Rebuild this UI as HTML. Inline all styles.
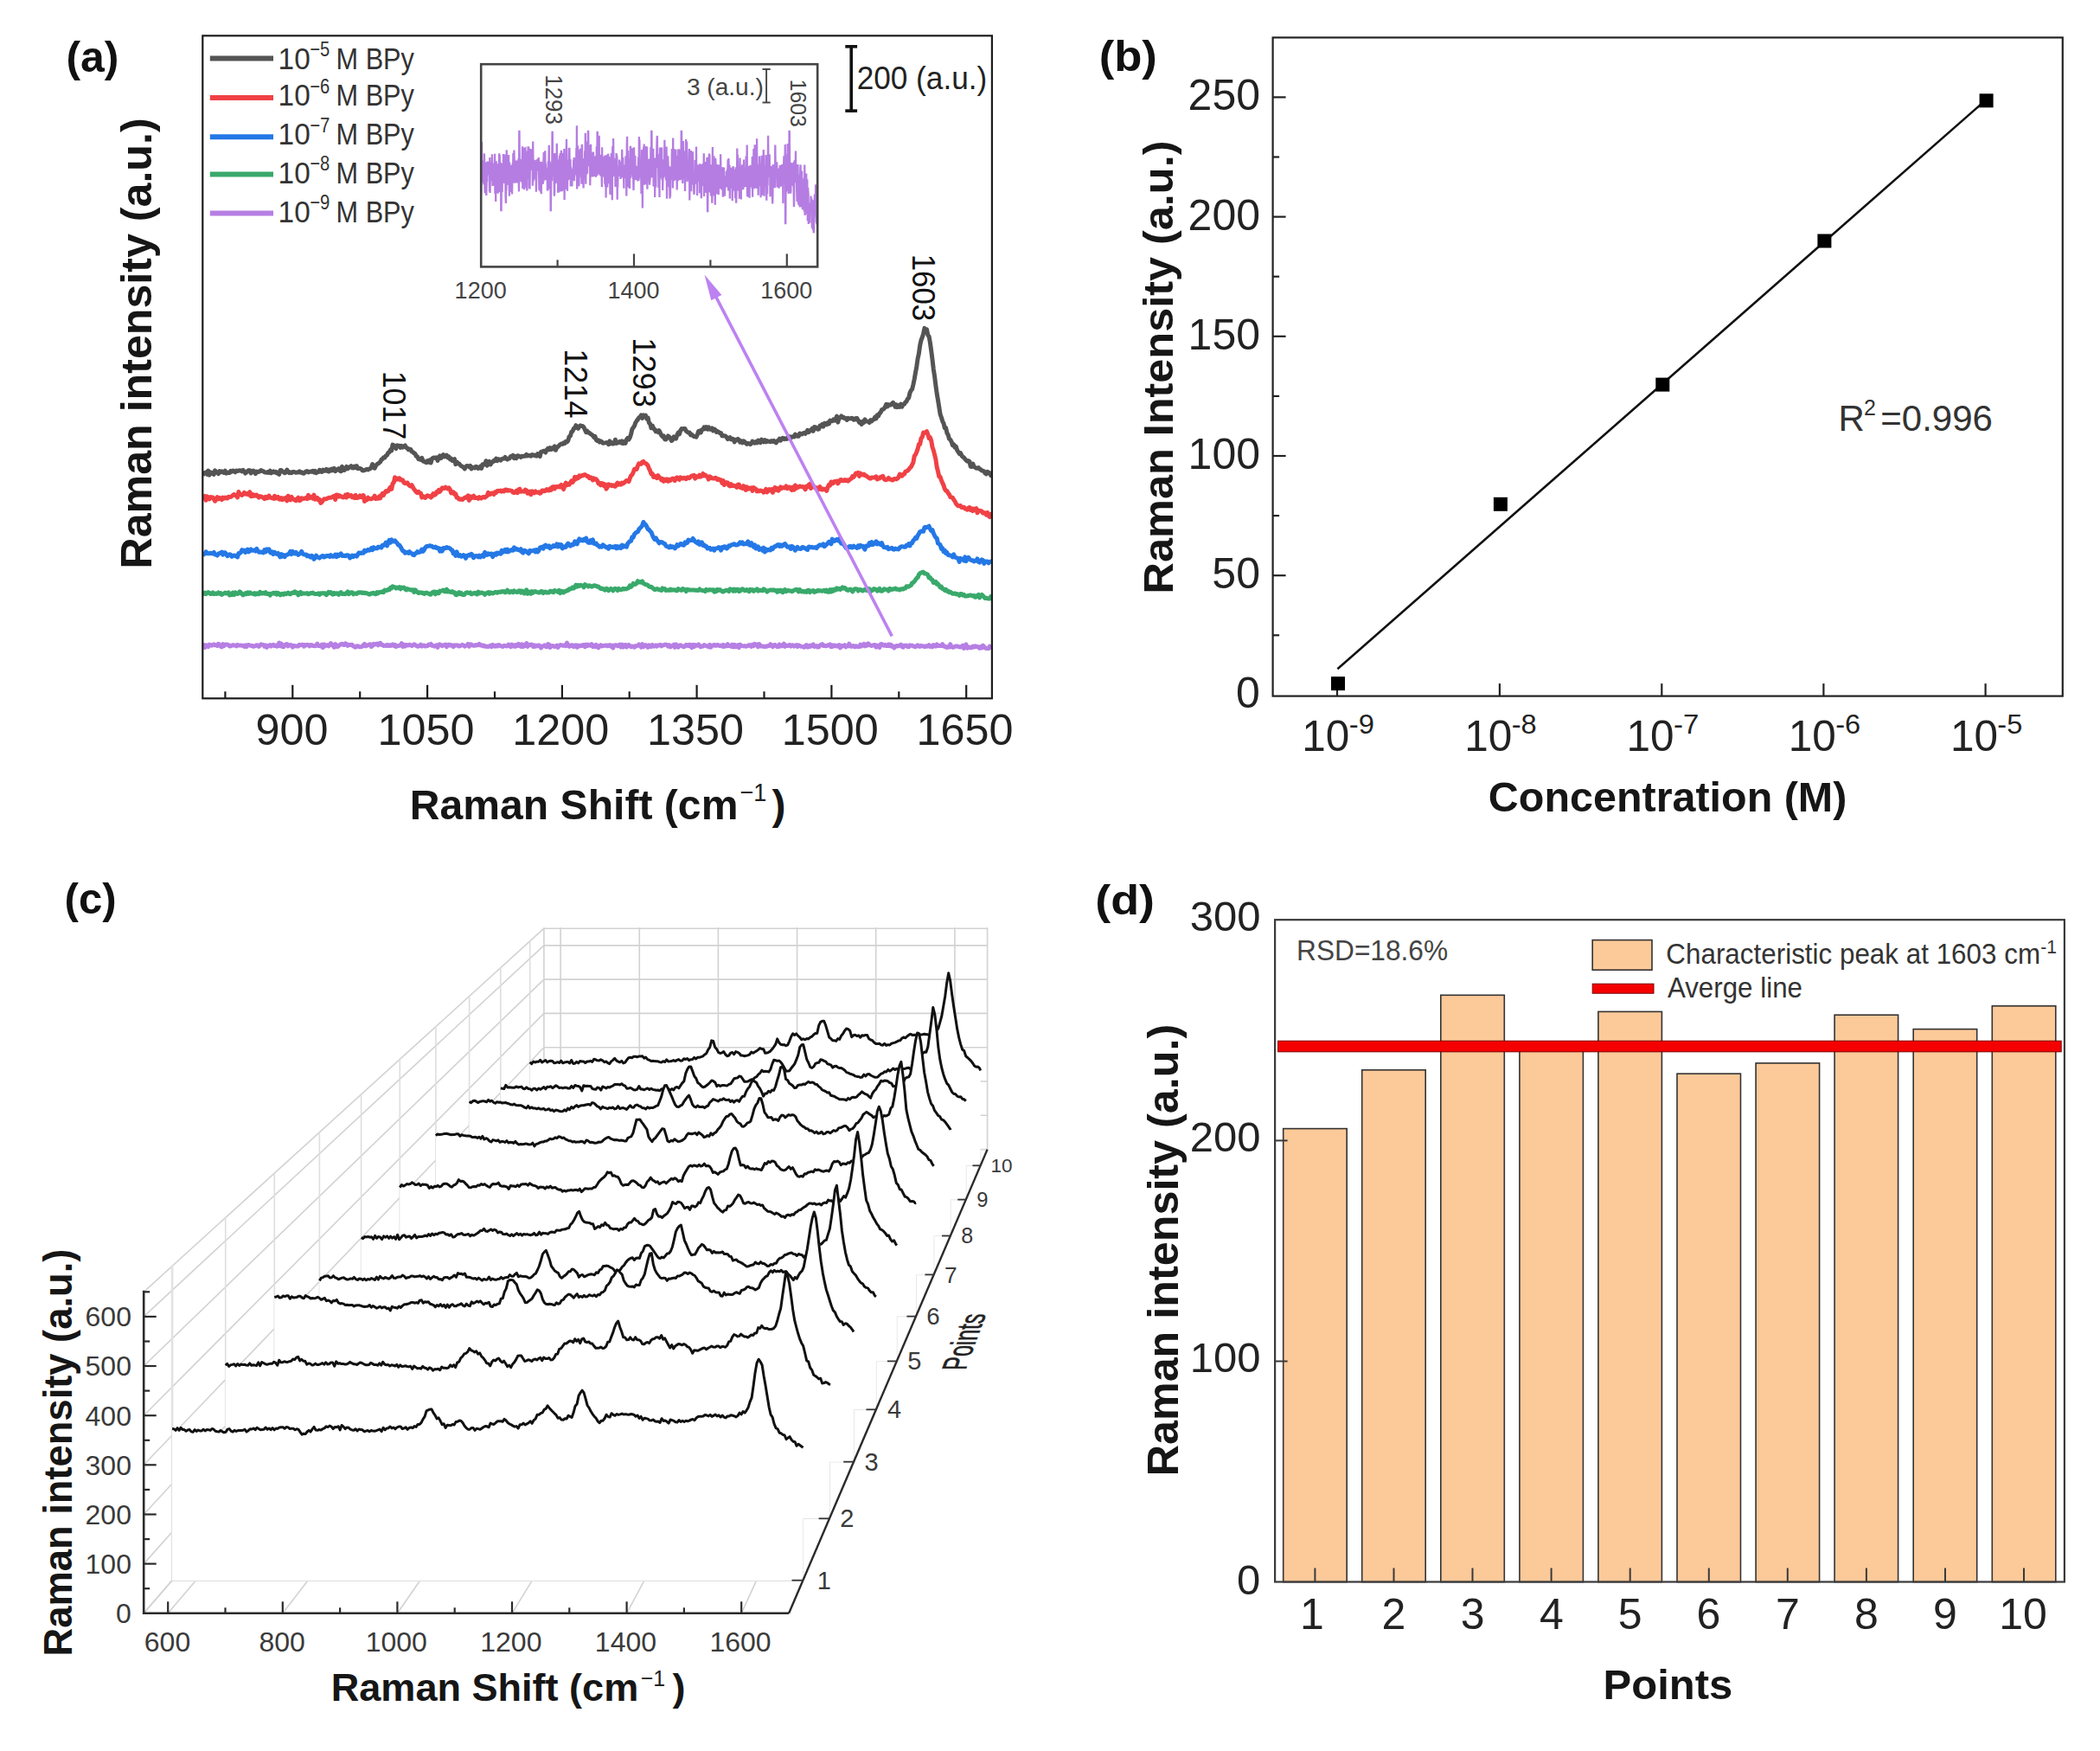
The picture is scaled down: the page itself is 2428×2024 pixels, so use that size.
<!DOCTYPE html>
<html lang="en"><head><meta charset="utf-8"><title>Raman SERS figure</title>
<style>html,body{margin:0;padding:0;background:#fff}body{width:2428px;height:2024px;overflow:hidden}svg{display:block}text{font-family:"Liberation Sans", Arial, Helvetica, sans-serif}</style>
</head><body>
<svg width="2428" height="2024" viewBox="0 0 2428 2024" font-family='"Liberation Sans", Arial, Helvetica, sans-serif'>
<rect width="2428" height="2024" fill="#fff"/>
<clipPath id="clipA"><rect x="234.3" y="41.3" width="912.6000000000001" height="766.0"/></clipPath>
<g clip-path="url(#clipA)" fill="none" stroke-linejoin="round" stroke-linecap="butt">
<path d="M234.3,746.4 L235.6,745.7 L236.9,748.4 L238.2,745.7 L239.5,746.1 L240.8,747.6 L242.1,745.1 L243.4,745.4 L244.7,746.2 L246.0,745.7 L247.3,744.8 L248.6,745.8 L249.9,745.6 L251.2,746.6 L252.5,744.3 L253.8,745.3 L255.1,747.2 L256.4,747.9 L257.7,744.5 L259.0,746.6 L260.3,745.0 L261.6,745.1 L262.9,745.1 L264.2,745.6 L265.5,747.0 L266.8,746.7 L268.1,746.1 L269.4,745.6 L270.7,746.0 L272.0,745.9 L273.3,746.8 L274.6,745.4 L275.9,746.0 L277.2,745.9 L278.5,745.9 L279.8,746.2 L281.1,746.2 L282.4,747.3 L283.7,745.9 L285.0,747.6 L286.3,745.7 L287.6,745.5 L288.9,746.1 L290.2,746.4 L291.5,746.3 L292.8,747.3 L294.1,747.1 L295.4,746.5 L296.7,745.7 L298.0,745.9 L299.3,747.4 L300.6,746.2 L301.9,744.7 L303.2,745.3 L304.5,745.4 L305.8,747.2 L307.1,745.9 L308.4,748.3 L309.7,746.7 L311.0,746.1 L312.3,745.6 L313.6,747.0 L314.9,745.8 L316.2,745.2 L317.5,746.6 L318.8,746.0 L320.1,747.2 L321.4,745.9 L322.7,743.1 L324.0,746.8 L325.3,744.1 L326.6,747.5 L327.9,747.8 L329.2,745.6 L330.5,744.8 L331.8,744.6 L333.1,746.9 L334.4,745.8 L335.7,745.4 L337.0,745.8 L338.3,748.1 L339.6,746.3 L340.9,746.7 L342.2,746.8 L343.5,747.0 L344.8,747.1 L346.1,745.3 L347.4,745.8 L348.7,745.2 L350.0,745.3 L351.3,747.1 L352.6,745.5 L353.9,745.9 L355.2,745.3 L356.5,745.4 L357.8,746.8 L359.1,745.6 L360.4,745.5 L361.7,746.5 L363.0,746.5 L364.3,746.8 L365.6,746.2 L366.9,744.2 L368.2,746.6 L369.5,746.5 L370.8,747.0 L372.1,745.2 L373.4,748.5 L374.7,744.8 L376.0,746.7 L377.3,746.0 L378.6,745.5 L379.9,746.8 L381.2,745.7 L382.5,743.7 L383.8,744.8 L385.1,746.5 L386.4,748.2 L387.7,744.5 L389.0,746.0 L390.3,747.5 L391.6,746.6 L392.9,745.6 L394.2,744.6 L395.5,744.2 L396.8,745.3 L398.1,745.6 L399.4,743.8 L400.7,744.3 L402.0,746.3 L403.3,745.6 L404.6,745.2 L405.9,745.6 L407.2,745.2 L408.5,746.9 L409.8,747.6 L411.1,748.1 L412.4,746.7 L413.7,746.7 L415.0,747.5 L416.3,747.7 L417.6,747.5 L418.9,747.2 L420.2,745.4 L421.5,744.4 L422.8,746.9 L424.1,745.9 L425.4,745.9 L426.7,745.1 L428.0,744.7 L429.3,747.4 L430.6,746.4 L431.9,744.4 L433.2,745.2 L434.5,744.4 L435.8,744.1 L437.1,745.8 L438.4,743.9 L439.7,743.4 L441.0,745.4 L442.3,745.3 L443.6,746.6 L444.9,746.2 L446.2,746.4 L447.5,745.4 L448.8,746.4 L450.1,745.5 L451.4,746.5 L452.7,745.7 L454.0,744.9 L455.3,746.5 L456.6,745.3 L457.9,747.5 L459.2,746.5 L460.5,746.5 L461.8,746.2 L463.1,746.0 L464.4,743.7 L465.7,747.3 L467.0,745.3 L468.3,747.0 L469.6,745.4 L470.9,745.9 L472.2,745.9 L473.5,745.1 L474.8,745.9 L476.1,746.6 L477.4,745.7 L478.7,744.8 L480.0,745.5 L481.3,746.4 L482.6,747.3 L483.9,747.0 L485.2,746.4 L486.5,745.1 L487.8,747.0 L489.1,746.2 L490.4,745.9 L491.7,747.0 L493.0,746.8 L494.3,746.6 L495.6,745.0 L496.9,745.5 L498.2,744.4 L499.5,746.4 L500.8,746.2 L502.1,747.1 L503.4,746.4 L504.7,745.8 L506.0,748.3 L507.3,745.1 L508.6,744.8 L509.9,745.6 L511.2,746.7 L512.5,745.8 L513.8,745.7 L515.1,745.1 L516.4,747.7 L517.7,745.6 L519.0,745.1 L520.3,746.1 L521.6,745.4 L522.9,746.0 L524.2,747.5 L525.5,745.8 L526.8,746.2 L528.1,745.8 L529.4,746.0 L530.7,747.0 L532.0,746.8 L533.3,745.9 L534.6,745.3 L535.9,746.1 L537.2,747.1 L538.5,746.2 L539.8,746.1 L541.1,744.4 L542.4,747.2 L543.7,744.8 L545.0,745.0 L546.3,745.9 L547.6,746.3 L548.9,746.3 L550.2,745.5 L551.5,745.9 L552.8,745.6 L554.1,744.4 L555.4,746.0 L556.7,745.6 L558.0,746.7 L559.3,746.1 L560.6,747.2 L561.9,747.0 L563.2,747.2 L564.5,747.5 L565.8,747.0 L567.1,746.1 L568.4,747.6 L569.7,745.4 L571.0,746.2 L572.3,747.1 L573.6,746.0 L574.9,747.0 L576.2,745.5 L577.5,745.7 L578.8,746.8 L580.1,747.0 L581.4,747.5 L582.7,746.2 L584.0,746.6 L585.3,746.9 L586.6,746.8 L587.9,745.0 L589.2,745.7 L590.5,747.7 L591.8,745.1 L593.1,746.9 L594.4,745.9 L595.7,747.3 L597.0,745.5 L598.3,746.4 L599.6,744.3 L600.9,746.3 L602.2,747.4 L603.5,744.8 L604.8,747.5 L606.1,745.6 L607.4,746.3 L608.7,743.5 L610.0,747.4 L611.3,745.4 L612.6,745.8 L613.9,745.0 L615.2,745.3 L616.5,747.5 L617.8,745.8 L619.1,747.2 L620.4,746.2 L621.7,746.7 L623.0,745.8 L624.3,746.8 L625.6,748.9 L626.9,747.0 L628.2,746.8 L629.5,745.9 L630.8,747.4 L632.1,747.7 L633.4,744.6 L634.7,745.0 L636.0,748.4 L637.3,746.8 L638.6,746.5 L639.9,746.9 L641.2,747.4 L642.5,747.1 L643.8,746.1 L645.1,748.4 L646.4,746.4 L647.7,745.5 L649.0,745.8 L650.3,746.2 L651.6,746.0 L652.9,746.2 L654.2,746.7 L655.5,743.1 L656.8,745.6 L658.1,747.3 L659.4,746.9 L660.7,745.7 L662.0,745.7 L663.3,747.5 L664.6,746.1 L665.9,745.8 L667.2,748.2 L668.5,746.0 L669.8,747.0 L671.1,746.3 L672.4,746.4 L673.7,745.4 L675.0,745.5 L676.3,747.6 L677.6,745.2 L678.9,746.6 L680.2,745.2 L681.5,746.1 L682.8,746.3 L684.1,744.7 L685.4,747.5 L686.7,746.2 L688.0,747.6 L689.3,745.4 L690.6,747.3 L691.9,748.7 L693.2,746.6 L694.5,745.7 L695.8,746.9 L697.1,746.5 L698.4,746.2 L699.7,746.3 L701.0,745.8 L702.3,746.8 L703.6,746.0 L704.9,745.5 L706.2,747.2 L707.5,746.2 L708.8,749.0 L710.1,746.1 L711.4,745.7 L712.7,745.8 L714.0,746.7 L715.3,745.7 L716.6,745.1 L717.9,748.0 L719.2,745.1 L720.5,747.9 L721.8,746.5 L723.1,745.3 L724.4,748.0 L725.7,746.2 L727.0,745.4 L728.3,746.4 L729.6,747.7 L730.9,747.1 L732.2,747.2 L733.5,748.1 L734.8,746.6 L736.1,746.8 L737.4,746.2 L738.7,744.9 L740.0,746.2 L741.3,748.0 L742.6,744.7 L743.9,747.7 L745.2,746.6 L746.5,745.5 L747.8,746.4 L749.1,748.2 L750.4,745.8 L751.7,747.2 L753.0,747.5 L754.3,745.5 L755.6,747.0 L756.9,746.9 L758.2,745.9 L759.5,747.1 L760.8,746.0 L762.1,745.8 L763.4,745.2 L764.7,746.8 L766.0,746.0 L767.3,745.8 L768.6,745.2 L769.9,745.0 L771.2,745.6 L772.5,747.1 L773.8,745.6 L775.1,747.8 L776.4,746.8 L777.7,746.5 L779.0,745.2 L780.3,748.3 L781.6,744.9 L782.9,746.9 L784.2,748.1 L785.5,746.2 L786.8,745.7 L788.1,746.4 L789.4,747.3 L790.7,747.7 L792.0,747.0 L793.3,745.3 L794.6,745.7 L795.9,746.6 L797.2,745.1 L798.5,746.1 L799.8,748.6 L801.1,745.3 L802.4,747.6 L803.7,745.5 L805.0,746.1 L806.3,746.3 L807.6,744.9 L808.9,746.3 L810.2,747.7 L811.5,747.1 L812.8,747.1 L814.1,745.6 L815.4,746.2 L816.7,746.6 L818.0,747.1 L819.3,747.7 L820.6,745.4 L821.9,748.1 L823.2,746.1 L824.5,746.1 L825.8,745.2 L827.1,746.3 L828.4,746.2 L829.7,745.2 L831.0,746.1 L832.3,746.5 L833.6,746.0 L834.9,747.2 L836.2,745.4 L837.5,747.3 L838.8,746.2 L840.1,746.8 L841.4,744.6 L842.7,746.5 L844.0,746.3 L845.3,747.3 L846.6,745.2 L847.9,747.8 L849.2,745.3 L850.5,747.7 L851.8,747.0 L853.1,745.6 L854.4,748.6 L855.7,745.2 L857.0,746.2 L858.3,746.6 L859.6,746.9 L860.9,746.6 L862.2,747.2 L863.5,746.9 L864.8,746.4 L866.1,745.5 L867.4,746.1 L868.7,747.3 L870.0,745.2 L871.3,746.5 L872.6,744.4 L873.9,745.7 L875.2,744.8 L876.5,747.7 L877.8,744.6 L879.1,746.2 L880.4,747.1 L881.7,747.0 L883.0,747.2 L884.3,747.5 L885.6,746.9 L886.9,747.3 L888.2,746.4 L889.5,746.4 L890.8,744.7 L892.1,746.6 L893.4,747.7 L894.7,745.7 L896.0,745.3 L897.3,746.5 L898.6,747.6 L899.9,747.6 L901.2,744.9 L902.5,746.9 L903.8,745.8 L905.1,746.7 L906.4,744.2 L907.7,747.3 L909.0,746.0 L910.3,746.6 L911.6,746.3 L912.9,745.4 L914.2,747.0 L915.5,746.0 L916.8,745.7 L918.1,747.1 L919.4,746.4 L920.7,745.7 L922.0,747.4 L923.3,745.8 L924.6,746.4 L925.9,747.2 L927.2,747.4 L928.5,747.6 L929.8,748.1 L931.1,746.5 L932.4,745.6 L933.7,748.1 L935.0,747.8 L936.3,746.2 L937.6,747.2 L938.9,746.1 L940.2,744.9 L941.5,747.5 L942.8,746.8 L944.1,746.6 L945.4,748.1 L946.7,747.9 L948.0,745.8 L949.3,745.4 L950.6,744.6 L951.9,746.5 L953.2,746.1 L954.5,746.8 L955.8,746.5 L957.1,745.8 L958.4,746.1 L959.7,744.9 L961.0,747.7 L962.3,745.9 L963.6,747.1 L964.9,745.8 L966.2,746.6 L967.5,747.1 L968.8,746.2 L970.1,745.7 L971.4,748.8 L972.7,746.3 L974.0,747.1 L975.3,746.4 L976.6,745.7 L977.9,747.8 L979.2,746.9 L980.5,746.8 L981.8,744.2 L983.1,746.8 L984.4,747.3 L985.7,746.8 L987.0,746.4 L988.3,747.7 L989.6,746.8 L990.9,747.1 L992.2,747.6 L993.5,747.5 L994.8,745.2 L996.1,746.9 L997.4,745.8 L998.7,744.5 L1000.0,746.8 L1001.3,744.8 L1002.6,746.1 L1003.9,744.0 L1005.2,745.5 L1006.5,746.1 L1007.8,746.5 L1009.1,746.0 L1010.4,745.6 L1011.7,745.6 L1013.0,748.1 L1014.3,746.1 L1015.6,746.5 L1016.9,748.4 L1018.2,744.8 L1019.5,744.5 L1020.8,745.5 L1022.1,746.2 L1023.4,745.4 L1024.7,746.5 L1026.0,746.5 L1027.3,745.0 L1028.6,746.7 L1029.9,745.1 L1031.2,747.3 L1032.5,746.8 L1033.8,748.8 L1035.1,747.4 L1036.4,746.4 L1037.7,746.9 L1039.0,746.7 L1040.3,745.9 L1041.6,745.2 L1042.9,747.7 L1044.2,748.1 L1045.5,746.1 L1046.8,746.4 L1048.1,746.1 L1049.4,747.6 L1050.7,747.8 L1052.0,745.8 L1053.3,746.3 L1054.6,746.1 L1055.9,746.9 L1057.2,747.4 L1058.5,747.7 L1059.8,746.4 L1061.1,745.7 L1062.4,747.2 L1063.7,747.3 L1065.0,746.3 L1066.3,746.8 L1067.6,747.0 L1068.9,747.6 L1070.2,746.7 L1071.5,747.2 L1072.8,746.9 L1074.1,745.7 L1075.4,747.4 L1076.7,746.8 L1078.0,747.8 L1079.3,745.5 L1080.6,746.0 L1081.9,747.1 L1083.2,745.0 L1084.5,746.6 L1085.8,746.3 L1087.1,746.4 L1088.4,746.6 L1089.7,744.6 L1091.0,746.9 L1092.3,747.0 L1093.6,748.0 L1094.9,748.4 L1096.2,747.3 L1097.5,747.9 L1098.8,744.7 L1100.1,747.6 L1101.4,748.2 L1102.7,748.0 L1104.0,747.4 L1105.3,746.9 L1106.6,746.9 L1107.9,747.3 L1109.2,747.8 L1110.5,748.0 L1111.8,747.4 L1113.1,746.2 L1114.4,749.4 L1115.7,746.7 L1117.0,745.0 L1118.3,749.1 L1119.6,748.7 L1120.9,748.0 L1122.2,748.8 L1123.5,748.3 L1124.8,747.1 L1126.1,748.1 L1127.4,746.8 L1128.7,747.4 L1130.0,747.2 L1131.3,748.3 L1132.6,749.3 L1133.9,747.6 L1135.2,748.8 L1136.5,746.2 L1137.8,747.3 L1139.1,749.0 L1140.4,749.4 L1141.7,749.5 L1143.0,749.6 L1144.3,747.0 L1145.6,748.1 L1146.9,746.1" stroke="#b67fe4" stroke-width="5.0"/>
<path d="M234.3,686.0 L235.6,686.4 L236.9,685.1 L238.2,686.6 L239.5,685.6 L240.8,684.6 L242.1,685.4 L243.4,686.5 L244.7,686.3 L246.0,685.0 L247.3,686.6 L248.6,685.9 L249.9,686.4 L251.2,686.3 L252.5,685.0 L253.8,686.3 L255.1,685.5 L256.4,687.4 L257.7,686.6 L259.0,686.0 L260.3,685.1 L261.6,686.0 L262.9,686.1 L264.2,684.9 L265.5,688.0 L266.8,686.4 L268.1,687.5 L269.4,685.0 L270.7,687.5 L272.0,684.8 L273.3,685.4 L274.6,686.5 L275.9,686.0 L277.2,683.9 L278.5,685.0 L279.8,686.7 L281.1,687.9 L282.4,686.8 L283.7,685.7 L285.0,686.7 L286.3,685.0 L287.6,686.4 L288.9,684.8 L290.2,686.0 L291.5,685.9 L292.8,686.7 L294.1,685.7 L295.4,687.1 L296.7,685.8 L298.0,686.7 L299.3,686.7 L300.6,684.3 L301.9,686.0 L303.2,686.0 L304.5,685.3 L305.8,686.1 L307.1,684.7 L308.4,686.5 L309.7,686.4 L311.0,686.2 L312.3,688.2 L313.6,686.3 L314.9,686.0 L316.2,685.3 L317.5,686.2 L318.8,685.1 L320.1,687.1 L321.4,685.4 L322.7,686.1 L324.0,687.8 L325.3,687.0 L326.6,686.2 L327.9,687.2 L329.2,685.9 L330.5,686.7 L331.8,686.0 L333.1,685.1 L334.4,686.3 L335.7,686.8 L337.0,685.6 L338.3,685.0 L339.6,685.5 L340.9,683.8 L342.2,685.4 L343.5,685.0 L344.8,687.8 L346.1,685.4 L347.4,684.5 L348.7,686.7 L350.0,685.8 L351.3,686.0 L352.6,686.1 L353.9,686.1 L355.2,685.6 L356.5,686.8 L357.8,686.4 L359.1,685.5 L360.4,685.8 L361.7,685.1 L363.0,686.2 L364.3,686.6 L365.6,686.5 L366.9,686.4 L368.2,685.8 L369.5,687.3 L370.8,685.7 L372.1,685.9 L373.4,685.6 L374.7,686.0 L376.0,685.7 L377.3,687.7 L378.6,686.3 L379.9,684.4 L381.2,685.5 L382.5,684.6 L383.8,686.6 L385.1,687.1 L386.4,685.4 L387.7,686.4 L389.0,685.7 L390.3,686.2 L391.6,687.4 L392.9,685.5 L394.2,684.7 L395.5,686.5 L396.8,686.3 L398.1,686.4 L399.4,686.7 L400.7,685.2 L402.0,684.0 L403.3,686.7 L404.6,685.4 L405.9,684.7 L407.2,684.7 L408.5,686.8 L409.8,685.9 L411.1,686.0 L412.4,686.5 L413.7,685.2 L415.0,684.7 L416.3,685.0 L417.6,684.8 L418.9,685.5 L420.2,684.9 L421.5,685.8 L422.8,685.3 L424.1,685.7 L425.4,686.3 L426.7,687.0 L428.0,687.1 L429.3,685.8 L430.6,685.9 L431.9,685.2 L433.2,686.5 L434.5,686.8 L435.8,684.7 L437.1,685.8 L438.4,684.5 L439.7,684.4 L441.0,684.5 L442.3,683.7 L443.6,684.5 L444.9,682.1 L446.2,682.5 L447.5,682.6 L448.8,681.3 L450.1,681.8 L451.4,679.3 L452.7,679.9 L454.0,677.8 L455.3,678.4 L456.6,678.6 L457.9,680.0 L459.2,679.1 L460.5,679.8 L461.8,678.7 L463.1,680.8 L464.4,679.1 L465.7,679.5 L467.0,679.0 L468.3,680.8 L469.6,681.9 L470.9,680.6 L472.2,681.2 L473.5,681.4 L474.8,681.9 L476.1,682.0 L477.4,681.7 L478.7,684.5 L480.0,681.8 L481.3,683.1 L482.6,684.5 L483.9,685.5 L485.2,684.7 L486.5,684.9 L487.8,685.4 L489.1,685.3 L490.4,686.5 L491.7,685.4 L493.0,685.1 L494.3,685.6 L495.6,686.1 L496.9,687.0 L498.2,687.2 L499.5,685.2 L500.8,684.1 L502.1,683.9 L503.4,686.8 L504.7,684.2 L506.0,684.7 L507.3,685.7 L508.6,683.1 L509.9,683.3 L511.2,682.7 L512.5,682.1 L513.8,683.7 L515.1,683.9 L516.4,681.2 L517.7,684.0 L519.0,683.3 L520.3,684.1 L521.6,684.6 L522.9,683.7 L524.2,685.0 L525.5,684.7 L526.8,687.4 L528.1,687.7 L529.4,685.8 L530.7,684.6 L532.0,686.7 L533.3,685.5 L534.6,687.3 L535.9,687.5 L537.2,687.2 L538.5,685.3 L539.8,684.8 L541.1,685.1 L542.4,685.6 L543.7,684.9 L545.0,686.8 L546.3,686.3 L547.6,685.7 L548.9,685.3 L550.2,686.3 L551.5,686.9 L552.8,684.0 L554.1,685.9 L555.4,685.4 L556.7,685.0 L558.0,685.4 L559.3,685.8 L560.6,687.4 L561.9,685.8 L563.2,685.3 L564.5,684.6 L565.8,686.4 L567.1,684.9 L568.4,685.4 L569.7,686.0 L571.0,685.2 L572.3,684.6 L573.6,684.6 L574.9,685.3 L576.2,684.3 L577.5,684.3 L578.8,684.4 L580.1,683.6 L581.4,684.1 L582.7,683.6 L584.0,684.8 L585.3,684.3 L586.6,682.2 L587.9,683.6 L589.2,684.8 L590.5,683.6 L591.8,683.4 L593.1,684.7 L594.4,682.8 L595.7,683.9 L597.0,684.3 L598.3,684.6 L599.6,682.9 L600.9,682.7 L602.2,685.1 L603.5,683.1 L604.8,683.7 L606.1,686.0 L607.4,683.4 L608.7,681.8 L610.0,686.3 L611.3,684.7 L612.6,684.1 L613.9,686.3 L615.2,683.7 L616.5,685.1 L617.8,683.8 L619.1,683.6 L620.4,684.4 L621.7,684.6 L623.0,685.0 L624.3,684.9 L625.6,683.4 L626.9,683.7 L628.2,685.5 L629.5,684.3 L630.8,683.9 L632.1,685.0 L633.4,685.0 L634.7,684.9 L636.0,683.2 L637.3,683.3 L638.6,684.3 L639.9,684.7 L641.2,682.5 L642.5,683.1 L643.8,683.2 L645.1,684.3 L646.4,682.3 L647.7,685.6 L649.0,683.2 L650.3,683.6 L651.6,684.9 L652.9,683.4 L654.2,683.4 L655.5,682.4 L656.8,682.6 L658.1,680.7 L659.4,681.0 L660.7,680.5 L662.0,678.9 L663.3,680.0 L664.6,678.9 L665.9,676.2 L667.2,678.2 L668.5,676.3 L669.8,677.5 L671.1,676.3 L672.4,676.7 L673.7,677.4 L675.0,678.8 L676.3,675.6 L677.6,676.7 L678.9,676.7 L680.2,678.0 L681.5,676.8 L682.8,677.4 L684.1,678.2 L685.4,677.7 L686.7,676.7 L688.0,676.9 L689.3,677.4 L690.6,678.3 L691.9,678.0 L693.2,679.3 L694.5,680.5 L695.8,680.1 L697.1,680.6 L698.4,681.6 L699.7,682.2 L701.0,680.3 L702.3,680.6 L703.6,682.6 L704.9,681.4 L706.2,680.4 L707.5,681.5 L708.8,682.8 L710.1,680.7 L711.4,680.3 L712.7,680.9 L714.0,682.5 L715.3,680.4 L716.6,681.4 L717.9,681.7 L719.2,681.3 L720.5,680.3 L721.8,681.1 L723.1,680.5 L724.4,680.8 L725.7,680.1 L727.0,679.3 L728.3,676.9 L729.6,678.4 L730.9,676.9 L732.2,674.4 L733.5,675.5 L734.8,675.2 L736.1,674.2 L737.4,671.7 L738.7,673.0 L740.0,672.6 L741.3,673.3 L742.6,671.8 L743.9,674.4 L745.2,675.1 L746.5,675.7 L747.8,675.8 L749.1,676.4 L750.4,678.1 L751.7,678.4 L753.0,678.3 L754.3,679.6 L755.6,680.6 L756.9,681.6 L758.2,681.3 L759.5,680.6 L760.8,681.0 L762.1,681.7 L763.4,681.8 L764.7,682.5 L766.0,679.9 L767.3,681.0 L768.6,680.6 L769.9,682.6 L771.2,682.4 L772.5,682.0 L773.8,682.4 L775.1,681.2 L776.4,682.2 L777.7,681.8 L779.0,681.9 L780.3,681.7 L781.6,682.7 L782.9,682.8 L784.2,680.6 L785.5,681.4 L786.8,682.0 L788.1,682.4 L789.4,680.5 L790.7,681.1 L792.0,681.7 L793.3,683.5 L794.6,681.2 L795.9,681.6 L797.2,682.0 L798.5,681.9 L799.8,682.1 L801.1,682.0 L802.4,681.9 L803.7,682.3 L805.0,682.3 L806.3,682.4 L807.6,682.4 L808.9,681.0 L810.2,682.2 L811.5,682.2 L812.8,682.8 L814.1,682.7 L815.4,683.5 L816.7,681.4 L818.0,682.0 L819.3,682.3 L820.6,681.6 L821.9,681.9 L823.2,681.8 L824.5,681.7 L825.8,684.2 L827.1,682.1 L828.4,683.5 L829.7,681.4 L831.0,682.4 L832.3,681.6 L833.6,682.5 L834.9,683.7 L836.2,684.0 L837.5,683.0 L838.8,682.6 L840.1,682.2 L841.4,682.6 L842.7,683.5 L844.0,680.8 L845.3,682.0 L846.6,681.4 L847.9,683.2 L849.2,681.2 L850.5,683.0 L851.8,681.3 L853.1,681.3 L854.4,683.6 L855.7,683.2 L857.0,681.5 L858.3,680.8 L859.6,681.5 L860.9,682.8 L862.2,682.3 L863.5,681.5 L864.8,682.8 L866.1,683.6 L867.4,681.3 L868.7,682.3 L870.0,681.6 L871.3,683.3 L872.6,682.5 L873.9,681.8 L875.2,680.9 L876.5,683.0 L877.8,682.1 L879.1,682.5 L880.4,682.2 L881.7,682.8 L883.0,680.9 L884.3,681.7 L885.6,682.7 L886.9,684.0 L888.2,682.7 L889.5,682.4 L890.8,681.9 L892.1,681.9 L893.4,682.3 L894.7,681.8 L896.0,682.6 L897.3,682.5 L898.6,684.3 L899.9,682.4 L901.2,683.5 L902.5,682.2 L903.8,683.4 L905.1,684.7 L906.4,682.1 L907.7,681.6 L909.0,683.6 L910.3,682.7 L911.6,682.4 L912.9,683.1 L914.2,682.9 L915.5,683.8 L916.8,683.1 L918.1,682.2 L919.4,681.8 L920.7,681.2 L922.0,681.8 L923.3,683.8 L924.6,681.5 L925.9,682.9 L927.2,683.9 L928.5,683.4 L929.8,684.2 L931.1,683.5 L932.4,684.3 L933.7,682.4 L935.0,682.2 L936.3,684.7 L937.6,683.2 L938.9,683.0 L940.2,682.5 L941.5,684.4 L942.8,683.4 L944.1,683.4 L945.4,682.4 L946.7,683.1 L948.0,682.6 L949.3,682.9 L950.6,683.3 L951.9,682.6 L953.2,682.3 L954.5,683.7 L955.8,682.1 L957.1,684.3 L958.4,684.3 L959.7,681.6 L961.0,684.0 L962.3,681.6 L963.6,683.1 L964.9,681.1 L966.2,681.9 L967.5,679.9 L968.8,681.1 L970.1,680.3 L971.4,681.4 L972.7,680.5 L974.0,678.9 L975.3,680.1 L976.6,679.4 L977.9,680.5 L979.2,682.0 L980.5,682.5 L981.8,681.6 L983.1,681.0 L984.4,682.0 L985.7,683.9 L987.0,681.9 L988.3,680.7 L989.6,680.8 L990.9,681.0 L992.2,683.0 L993.5,681.7 L994.8,681.4 L996.1,682.3 L997.4,682.9 L998.7,681.9 L1000.0,681.3 L1001.3,682.2 L1002.6,682.7 L1003.9,680.5 L1005.2,680.7 L1006.5,683.7 L1007.8,682.3 L1009.1,682.2 L1010.4,680.6 L1011.7,681.0 L1013.0,681.6 L1014.3,683.0 L1015.6,681.9 L1016.9,680.3 L1018.2,683.1 L1019.5,683.2 L1020.8,682.5 L1022.1,680.7 L1023.4,681.1 L1024.7,681.4 L1026.0,681.7 L1027.3,683.2 L1028.6,680.3 L1029.9,680.8 L1031.2,681.4 L1032.5,680.9 L1033.8,680.9 L1035.1,680.0 L1036.4,681.3 L1037.7,680.9 L1039.0,681.3 L1040.3,681.9 L1041.6,680.8 L1042.9,680.9 L1044.2,681.1 L1045.5,680.1 L1046.8,680.1 L1048.1,677.7 L1049.4,677.8 L1050.7,678.2 L1052.0,677.1 L1053.3,676.7 L1054.6,673.9 L1055.9,673.4 L1057.2,672.1 L1058.5,670.3 L1059.8,668.2 L1061.1,667.6 L1062.4,664.1 L1063.7,662.7 L1065.0,662.2 L1066.3,661.5 L1067.6,661.2 L1068.9,663.1 L1070.2,663.0 L1071.5,663.6 L1072.8,664.4 L1074.1,667.8 L1075.4,667.6 L1076.7,669.8 L1078.0,670.1 L1079.3,673.5 L1080.6,673.4 L1081.9,672.3 L1083.2,675.3 L1084.5,674.9 L1085.8,676.8 L1087.1,679.0 L1088.4,678.1 L1089.7,680.5 L1091.0,680.9 L1092.3,682.4 L1093.6,681.5 L1094.9,683.4 L1096.2,683.0 L1097.5,684.7 L1098.8,684.2 L1100.1,685.2 L1101.4,686.2 L1102.7,686.3 L1104.0,685.7 L1105.3,686.7 L1106.6,686.4 L1107.9,687.0 L1109.2,688.4 L1110.5,686.4 L1111.8,686.4 L1113.1,688.1 L1114.4,687.3 L1115.7,689.1 L1117.0,688.9 L1118.3,688.9 L1119.6,688.5 L1120.9,688.2 L1122.2,688.0 L1123.5,688.4 L1124.8,689.0 L1126.1,688.4 L1127.4,690.3 L1128.7,690.0 L1130.0,688.4 L1131.3,687.3 L1132.6,690.8 L1133.9,688.9 L1135.2,687.5 L1136.5,688.6 L1137.8,690.4 L1139.1,691.5 L1140.4,691.2 L1141.7,691.7 L1143.0,692.0 L1144.3,692.1 L1145.6,689.6 L1146.9,690.3" stroke="#39a96b" stroke-width="5.0"/>
<path d="M234.3,642.1 L235.6,640.5 L236.9,640.1 L238.2,637.8 L239.5,639.7 L240.8,639.6 L242.1,639.9 L243.4,639.2 L244.7,639.9 L246.0,639.4 L247.3,638.4 L248.6,641.1 L249.9,641.1 L251.2,642.1 L252.5,640.1 L253.8,639.5 L255.1,639.3 L256.4,638.1 L257.7,641.2 L259.0,638.7 L260.3,638.8 L261.6,640.3 L262.9,642.7 L264.2,641.7 L265.5,640.7 L266.8,641.5 L268.1,643.4 L269.4,642.7 L270.7,641.9 L272.0,642.3 L273.3,643.1 L274.6,643.9 L275.9,639.4 L277.2,639.4 L278.5,638.4 L279.8,635.7 L281.1,636.9 L282.4,636.2 L283.7,638.5 L285.0,636.8 L286.3,635.1 L287.6,637.8 L288.9,636.6 L290.2,634.9 L291.5,636.3 L292.8,636.3 L294.1,636.0 L295.4,637.0 L296.7,634.3 L298.0,636.7 L299.3,638.2 L300.6,638.0 L301.9,638.3 L303.2,638.3 L304.5,638.8 L305.8,635.7 L307.1,638.0 L308.4,634.8 L309.7,636.3 L311.0,634.8 L312.3,638.5 L313.6,639.2 L314.9,637.8 L316.2,640.6 L317.5,638.3 L318.8,639.8 L320.1,640.4 L321.4,639.5 L322.7,641.7 L324.0,643.9 L325.3,640.6 L326.6,643.1 L327.9,641.7 L329.2,643.7 L330.5,641.7 L331.8,641.3 L333.1,640.7 L334.4,639.7 L335.7,637.4 L337.0,640.7 L338.3,637.4 L339.6,639.4 L340.9,640.0 L342.2,638.5 L343.5,639.9 L344.8,641.4 L346.1,640.2 L347.4,639.5 L348.7,637.4 L350.0,640.0 L351.3,640.8 L352.6,641.2 L353.9,641.0 L355.2,642.9 L356.5,642.1 L357.8,642.9 L359.1,644.1 L360.4,642.4 L361.7,643.3 L363.0,646.3 L364.3,644.8 L365.6,642.2 L366.9,643.7 L368.2,644.4 L369.5,645.1 L370.8,643.8 L372.1,642.9 L373.4,642.5 L374.7,644.0 L376.0,643.5 L377.3,642.4 L378.6,642.7 L379.9,642.3 L381.2,643.5 L382.5,641.7 L383.8,643.0 L385.1,643.3 L386.4,642.8 L387.7,641.1 L389.0,643.7 L390.3,641.2 L391.6,642.5 L392.9,641.1 L394.2,639.9 L395.5,642.4 L396.8,642.5 L398.1,642.2 L399.4,642.7 L400.7,641.7 L402.0,641.7 L403.3,642.5 L404.6,645.0 L405.9,643.8 L407.2,642.2 L408.5,643.6 L409.8,642.3 L411.1,642.1 L412.4,643.2 L413.7,641.0 L415.0,638.9 L416.3,639.1 L417.6,639.5 L418.9,638.7 L420.2,639.2 L421.5,636.2 L422.8,637.3 L424.1,636.5 L425.4,635.4 L426.7,636.3 L428.0,635.6 L429.3,633.7 L430.6,635.7 L431.9,632.7 L433.2,634.0 L434.5,633.7 L435.8,633.9 L437.1,632.2 L438.4,632.7 L439.7,632.2 L441.0,633.0 L442.3,630.2 L443.6,630.4 L444.9,629.2 L446.2,627.1 L447.5,631.0 L448.8,626.9 L450.1,624.4 L451.4,627.3 L452.7,623.8 L454.0,625.3 L455.3,625.9 L456.6,624.8 L457.9,626.3 L459.2,627.8 L460.5,630.1 L461.8,630.1 L463.1,632.1 L464.4,634.4 L465.7,636.7 L467.0,637.1 L468.3,639.3 L469.6,638.9 L470.9,638.3 L472.2,639.4 L473.5,637.7 L474.8,639.4 L476.1,639.6 L477.4,641.3 L478.7,641.7 L480.0,639.9 L481.3,639.4 L482.6,637.6 L483.9,638.6 L485.2,638.2 L486.5,637.5 L487.8,635.0 L489.1,637.4 L490.4,635.5 L491.7,633.0 L493.0,631.7 L494.3,631.3 L495.6,631.3 L496.9,630.7 L498.2,631.1 L499.5,631.5 L500.8,632.6 L502.1,632.9 L503.4,632.1 L504.7,633.5 L506.0,633.3 L507.3,633.7 L508.6,637.1 L509.9,634.4 L511.2,637.1 L512.5,633.5 L513.8,633.4 L515.1,633.8 L516.4,632.5 L517.7,633.3 L519.0,633.3 L520.3,633.9 L521.6,635.4 L522.9,636.0 L524.2,640.0 L525.5,639.0 L526.8,642.3 L528.1,637.9 L529.4,641.7 L530.7,642.7 L532.0,641.6 L533.3,643.3 L534.6,642.8 L535.9,641.6 L537.2,642.5 L538.5,645.3 L539.8,642.2 L541.1,642.3 L542.4,641.3 L543.7,642.0 L545.0,640.3 L546.3,641.5 L547.6,644.7 L548.9,643.0 L550.2,642.4 L551.5,642.9 L552.8,643.8 L554.1,642.2 L555.4,643.9 L556.7,642.7 L558.0,641.5 L559.3,643.3 L560.6,638.4 L561.9,640.5 L563.2,641.4 L564.5,639.9 L565.8,640.8 L567.1,640.1 L568.4,639.9 L569.7,643.7 L571.0,641.0 L572.3,639.9 L573.6,641.2 L574.9,639.0 L576.2,640.0 L577.5,639.0 L578.8,640.2 L580.1,636.2 L581.4,638.4 L582.7,637.3 L584.0,635.4 L585.3,637.8 L586.6,635.1 L587.9,637.8 L589.2,636.3 L590.5,636.3 L591.8,635.3 L593.1,636.2 L594.4,632.8 L595.7,635.1 L597.0,634.3 L598.3,635.5 L599.6,635.2 L600.9,636.2 L602.2,634.7 L603.5,638.1 L604.8,639.0 L606.1,636.2 L607.4,636.7 L608.7,637.4 L610.0,638.8 L611.3,639.8 L612.6,636.3 L613.9,637.1 L615.2,636.7 L616.5,636.7 L617.8,635.9 L619.1,637.9 L620.4,635.5 L621.7,638.0 L623.0,636.4 L624.3,633.2 L625.6,632.4 L626.9,632.2 L628.2,634.1 L629.5,631.0 L630.8,630.2 L632.1,631.8 L633.4,632.3 L634.7,631.0 L636.0,633.7 L637.3,632.0 L638.6,632.2 L639.9,630.6 L641.2,631.6 L642.5,631.4 L643.8,628.9 L645.1,631.9 L646.4,629.4 L647.7,631.5 L649.0,629.7 L650.3,633.9 L651.6,631.8 L652.9,632.4 L654.2,632.4 L655.5,629.6 L656.8,628.2 L658.1,630.1 L659.4,631.2 L660.7,629.6 L662.0,629.9 L663.3,629.4 L664.6,625.9 L665.9,627.4 L667.2,628.8 L668.5,625.2 L669.8,622.9 L671.1,624.7 L672.4,624.1 L673.7,625.0 L675.0,623.3 L676.3,624.6 L677.6,622.0 L678.9,626.0 L680.2,627.2 L681.5,627.4 L682.8,624.5 L684.1,627.2 L685.4,623.9 L686.7,628.4 L688.0,628.6 L689.3,628.1 L690.6,630.3 L691.9,630.6 L693.2,632.1 L694.5,631.6 L695.8,632.1 L697.1,629.8 L698.4,630.9 L699.7,631.8 L701.0,632.8 L702.3,632.4 L703.6,634.2 L704.9,631.3 L706.2,632.0 L707.5,632.6 L708.8,632.0 L710.1,632.8 L711.4,631.5 L712.7,633.8 L714.0,631.6 L715.3,633.3 L716.6,631.8 L717.9,633.5 L719.2,630.0 L720.5,632.1 L721.8,630.9 L723.1,631.5 L724.4,632.2 L725.7,628.4 L727.0,626.9 L728.3,625.7 L729.6,625.3 L730.9,620.8 L732.2,621.2 L733.5,617.6 L734.8,616.0 L736.1,615.3 L737.4,614.7 L738.7,611.9 L740.0,610.3 L741.3,609.2 L742.6,607.5 L743.9,603.5 L745.2,605.7 L746.5,606.5 L747.8,608.8 L749.1,611.7 L750.4,612.2 L751.7,613.9 L753.0,615.2 L754.3,618.7 L755.6,621.5 L756.9,623.4 L758.2,621.8 L759.5,624.1 L760.8,625.7 L762.1,627.8 L763.4,626.7 L764.7,626.5 L766.0,627.1 L767.3,628.2 L768.6,628.5 L769.9,630.9 L771.2,631.8 L772.5,631.9 L773.8,632.9 L775.1,631.2 L776.4,632.5 L777.7,631.8 L779.0,632.4 L780.3,633.9 L781.6,632.2 L782.9,629.7 L784.2,631.2 L785.5,630.1 L786.8,628.5 L788.1,628.7 L789.4,630.0 L790.7,630.2 L792.0,626.8 L793.3,627.9 L794.6,627.4 L795.9,624.0 L797.2,624.9 L798.5,624.6 L799.8,624.6 L801.1,622.5 L802.4,624.1 L803.7,626.1 L805.0,626.8 L806.3,628.0 L807.6,626.0 L808.9,629.3 L810.2,628.6 L811.5,627.0 L812.8,630.3 L814.1,629.8 L815.4,631.6 L816.7,631.6 L818.0,633.9 L819.3,633.4 L820.6,633.3 L821.9,635.3 L823.2,634.7 L824.5,634.1 L825.8,636.2 L827.1,634.2 L828.4,633.8 L829.7,633.8 L831.0,632.5 L832.3,633.4 L833.6,636.1 L834.9,632.5 L836.2,633.3 L837.5,631.7 L838.8,631.9 L840.1,634.1 L841.4,633.0 L842.7,630.9 L844.0,631.3 L845.3,629.9 L846.6,629.6 L847.9,629.1 L849.2,628.8 L850.5,629.9 L851.8,629.9 L853.1,629.5 L854.4,628.5 L855.7,626.8 L857.0,628.2 L858.3,627.0 L859.6,629.0 L860.9,628.6 L862.2,628.8 L863.5,627.6 L864.8,626.0 L866.1,629.7 L867.4,630.4 L868.7,627.6 L870.0,630.1 L871.3,632.0 L872.6,629.9 L873.9,634.0 L875.2,632.1 L876.5,631.8 L877.8,635.4 L879.1,634.6 L880.4,634.0 L881.7,636.3 L883.0,633.2 L884.3,638.0 L885.6,634.9 L886.9,636.2 L888.2,635.2 L889.5,635.8 L890.8,635.9 L892.1,633.2 L893.4,634.5 L894.7,632.6 L896.0,631.4 L897.3,631.4 L898.6,629.9 L899.9,629.6 L901.2,631.4 L902.5,629.9 L903.8,631.4 L905.1,630.7 L906.4,629.2 L907.7,628.6 L909.0,630.5 L910.3,632.2 L911.6,632.4 L912.9,631.8 L914.2,634.4 L915.5,631.4 L916.8,632.1 L918.1,633.8 L919.4,636.2 L920.7,634.1 L922.0,632.3 L923.3,634.2 L924.6,634.3 L925.9,634.6 L927.2,632.9 L928.5,632.4 L929.8,633.4 L931.1,633.7 L932.4,635.0 L933.7,635.5 L935.0,632.0 L936.3,632.2 L937.6,632.7 L938.9,632.3 L940.2,633.1 L941.5,633.0 L942.8,632.6 L944.1,633.7 L945.4,631.8 L946.7,630.6 L948.0,629.8 L949.3,630.3 L950.6,630.1 L951.9,628.9 L953.2,631.6 L954.5,630.5 L955.8,629.2 L957.1,627.9 L958.4,626.3 L959.7,626.2 L961.0,628.8 L962.3,623.1 L963.6,625.3 L964.9,625.4 L966.2,624.3 L967.5,623.5 L968.8,624.8 L970.1,623.0 L971.4,625.9 L972.7,628.2 L974.0,626.7 L975.3,628.5 L976.6,630.9 L977.9,633.0 L979.2,634.1 L980.5,633.4 L981.8,631.8 L983.1,631.2 L984.4,632.8 L985.7,632.9 L987.0,631.1 L988.3,632.4 L989.6,632.6 L990.9,633.4 L992.2,630.8 L993.5,632.5 L994.8,630.3 L996.1,631.1 L997.4,631.3 L998.7,633.1 L1000.0,635.1 L1001.3,631.1 L1002.6,631.0 L1003.9,631.1 L1005.2,627.7 L1006.5,629.6 L1007.8,626.6 L1009.1,629.5 L1010.4,628.9 L1011.7,627.5 L1013.0,625.8 L1014.3,629.0 L1015.6,627.7 L1016.9,628.1 L1018.2,629.5 L1019.5,627.6 L1020.8,631.0 L1022.1,632.6 L1023.4,632.6 L1024.7,633.1 L1026.0,632.4 L1027.3,634.7 L1028.6,634.2 L1029.9,634.0 L1031.2,633.3 L1032.5,634.9 L1033.8,635.2 L1035.1,634.1 L1036.4,634.5 L1037.7,634.8 L1039.0,634.9 L1040.3,633.0 L1041.6,632.2 L1042.9,631.7 L1044.2,631.9 L1045.5,632.2 L1046.8,632.3 L1048.1,630.2 L1049.4,630.5 L1050.7,628.7 L1052.0,630.9 L1053.3,628.0 L1054.6,627.7 L1055.9,624.8 L1057.2,623.6 L1058.5,621.4 L1059.8,622.4 L1061.1,619.1 L1062.4,616.9 L1063.7,614.6 L1065.0,613.9 L1066.3,614.2 L1067.6,614.3 L1068.9,609.6 L1070.2,609.3 L1071.5,609.7 L1072.8,608.9 L1074.1,608.2 L1075.4,611.3 L1076.7,613.6 L1078.0,612.6 L1079.3,616.5 L1080.6,619.2 L1081.9,621.3 L1083.2,622.1 L1084.5,628.1 L1085.8,628.7 L1087.1,629.7 L1088.4,634.2 L1089.7,633.7 L1091.0,637.6 L1092.3,636.1 L1093.6,639.5 L1094.9,638.7 L1096.2,641.5 L1097.5,641.7 L1098.8,642.0 L1100.1,642.2 L1101.4,643.9 L1102.7,640.9 L1104.0,644.1 L1105.3,644.4 L1106.6,645.0 L1107.9,645.6 L1109.2,649.4 L1110.5,645.4 L1111.8,646.5 L1113.1,646.0 L1114.4,648.0 L1115.7,643.9 L1117.0,648.6 L1118.3,646.0 L1119.6,644.3 L1120.9,645.9 L1122.2,647.2 L1123.5,647.8 L1124.8,647.7 L1126.1,649.0 L1127.4,648.1 L1128.7,648.3 L1130.0,645.9 L1131.3,649.3 L1132.6,650.1 L1133.9,648.5 L1135.2,646.9 L1136.5,647.7 L1137.8,651.5 L1139.1,648.9 L1140.4,648.9 L1141.7,648.9 L1143.0,650.8 L1144.3,649.4 L1145.6,649.2 L1146.9,648.5" stroke="#2478e6" stroke-width="5.0"/>
<path d="M234.3,575.7 L235.6,576.1 L236.9,573.4 L238.2,578.3 L239.5,573.9 L240.8,575.1 L242.1,576.9 L243.4,574.6 L244.7,574.8 L246.0,575.0 L247.3,576.9 L248.6,579.2 L249.9,576.3 L251.2,574.7 L252.5,576.9 L253.8,575.4 L255.1,576.2 L256.4,577.7 L257.7,575.2 L259.0,576.2 L260.3,575.0 L261.6,575.8 L262.9,576.1 L264.2,574.2 L265.5,574.6 L266.8,574.4 L268.1,573.5 L269.4,572.3 L270.7,571.5 L272.0,572.7 L273.3,572.1 L274.6,575.0 L275.9,568.5 L277.2,571.5 L278.5,571.5 L279.8,572.5 L281.1,571.3 L282.4,569.4 L283.7,570.5 L285.0,571.3 L286.3,570.3 L287.6,571.9 L288.9,568.7 L290.2,573.7 L291.5,573.6 L292.8,571.6 L294.1,573.2 L295.4,572.8 L296.7,572.0 L298.0,573.6 L299.3,575.1 L300.6,573.6 L301.9,573.9 L303.2,574.5 L304.5,575.4 L305.8,576.6 L307.1,574.3 L308.4,575.9 L309.7,575.6 L311.0,573.0 L312.3,575.0 L313.6,575.5 L314.9,575.7 L316.2,576.3 L317.5,573.3 L318.8,576.1 L320.1,575.2 L321.4,574.3 L322.7,577.0 L324.0,577.3 L325.3,575.6 L326.6,577.6 L327.9,576.1 L329.2,576.7 L330.5,575.3 L331.8,578.8 L333.1,573.3 L334.4,576.7 L335.7,577.8 L337.0,574.3 L338.3,576.7 L339.6,576.9 L340.9,578.1 L342.2,578.6 L343.5,576.5 L344.8,575.2 L346.1,578.6 L347.4,578.3 L348.7,575.8 L350.0,576.6 L351.3,576.3 L352.6,576.2 L353.9,575.4 L355.2,576.6 L356.5,572.3 L357.8,575.7 L359.1,574.8 L360.4,574.1 L361.7,576.2 L363.0,572.1 L364.3,577.2 L365.6,576.8 L366.9,575.5 L368.2,578.0 L369.5,577.4 L370.8,581.4 L372.1,580.4 L373.4,578.4 L374.7,576.7 L376.0,576.7 L377.3,576.7 L378.6,576.1 L379.9,575.3 L381.2,575.3 L382.5,575.3 L383.8,574.6 L385.1,574.0 L386.4,573.3 L387.7,577.5 L389.0,572.0 L390.3,572.3 L391.6,574.0 L392.9,572.9 L394.2,573.9 L395.5,574.4 L396.8,575.0 L398.1,574.4 L399.4,572.2 L400.7,575.0 L402.0,571.3 L403.3,573.5 L404.6,573.1 L405.9,572.5 L407.2,574.8 L408.5,573.9 L409.8,575.6 L411.1,572.4 L412.4,575.6 L413.7,575.3 L415.0,574.9 L416.3,573.0 L417.6,574.6 L418.9,573.1 L420.2,572.5 L421.5,579.5 L422.8,576.6 L424.1,577.8 L425.4,575.1 L426.7,576.6 L428.0,576.7 L429.3,576.7 L430.6,576.0 L431.9,575.7 L433.2,573.2 L434.5,576.5 L435.8,575.9 L437.1,576.3 L438.4,573.9 L439.7,575.8 L441.0,572.2 L442.3,570.3 L443.6,572.3 L444.9,569.5 L446.2,567.6 L447.5,568.3 L448.8,567.7 L450.1,565.0 L451.4,563.1 L452.7,565.4 L454.0,558.9 L455.3,557.8 L456.6,551.7 L457.9,553.9 L459.2,554.3 L460.5,553.0 L461.8,552.7 L463.1,554.9 L464.4,554.6 L465.7,554.9 L467.0,557.9 L468.3,558.8 L469.6,558.2 L470.9,557.9 L472.2,560.0 L473.5,561.4 L474.8,562.2 L476.1,560.6 L477.4,563.3 L478.7,565.4 L480.0,567.0 L481.3,568.7 L482.6,569.6 L483.9,568.3 L485.2,569.9 L486.5,570.2 L487.8,575.0 L489.1,573.6 L490.4,574.6 L491.7,575.5 L493.0,573.9 L494.3,572.7 L495.6,573.4 L496.9,573.4 L498.2,575.1 L499.5,573.8 L500.8,570.6 L502.1,572.3 L503.4,571.7 L504.7,568.7 L506.0,569.4 L507.3,566.4 L508.6,568.3 L509.9,566.4 L511.2,564.1 L512.5,564.0 L513.8,564.5 L515.1,563.1 L516.4,564.2 L517.7,565.0 L519.0,563.9 L520.3,565.6 L521.6,569.9 L522.9,568.6 L524.2,568.7 L525.5,571.3 L526.8,570.8 L528.1,575.3 L529.4,575.3 L530.7,577.0 L532.0,577.3 L533.3,576.7 L534.6,577.5 L535.9,576.4 L537.2,575.3 L538.5,574.8 L539.8,575.5 L541.1,572.8 L542.4,578.4 L543.7,573.8 L545.0,575.9 L546.3,574.2 L547.6,573.2 L548.9,575.7 L550.2,575.3 L551.5,575.4 L552.8,576.3 L554.1,574.7 L555.4,575.9 L556.7,575.9 L558.0,574.7 L559.3,574.5 L560.6,575.1 L561.9,573.9 L563.2,573.3 L564.5,569.3 L565.8,571.6 L567.1,571.3 L568.4,569.9 L569.7,569.9 L571.0,571.5 L572.3,568.8 L573.6,569.4 L574.9,567.4 L576.2,567.3 L577.5,567.7 L578.8,567.0 L580.1,568.2 L581.4,567.0 L582.7,567.9 L584.0,566.2 L585.3,565.9 L586.6,567.1 L587.9,566.6 L589.2,567.1 L590.5,567.1 L591.8,567.4 L593.1,569.2 L594.4,569.6 L595.7,568.8 L597.0,567.3 L598.3,569.7 L599.6,565.8 L600.9,565.2 L602.2,568.2 L603.5,567.9 L604.8,567.9 L606.1,568.2 L607.4,566.2 L608.7,567.0 L610.0,570.3 L611.3,570.2 L612.6,568.1 L613.9,571.7 L615.2,567.9 L616.5,568.7 L617.8,569.9 L619.1,568.0 L620.4,569.0 L621.7,569.3 L623.0,568.8 L624.3,570.2 L625.6,569.5 L626.9,566.9 L628.2,567.0 L629.5,567.7 L630.8,567.0 L632.1,565.6 L633.4,566.8 L634.7,567.0 L636.0,564.8 L637.3,566.3 L638.6,562.9 L639.9,562.6 L641.2,565.0 L642.5,562.9 L643.8,562.4 L645.1,563.0 L646.4,562.1 L647.7,563.1 L649.0,560.4 L650.3,561.4 L651.6,565.6 L652.9,561.1 L654.2,558.0 L655.5,560.8 L656.8,560.0 L658.1,560.3 L659.4,557.8 L660.7,555.9 L662.0,557.6 L663.3,555.7 L664.6,551.4 L665.9,553.8 L667.2,551.6 L668.5,552.5 L669.8,549.9 L671.1,550.8 L672.4,549.6 L673.7,549.8 L675.0,549.0 L676.3,548.6 L677.6,549.4 L678.9,550.5 L680.2,550.6 L681.5,552.7 L682.8,551.7 L684.1,552.5 L685.4,555.0 L686.7,552.9 L688.0,554.3 L689.3,553.8 L690.6,555.7 L691.9,558.9 L693.2,558.4 L694.5,560.9 L695.8,558.6 L697.1,559.0 L698.4,561.7 L699.7,559.8 L701.0,565.1 L702.3,563.2 L703.6,559.8 L704.9,561.1 L706.2,560.5 L707.5,561.6 L708.8,560.8 L710.1,561.8 L711.4,562.3 L712.7,559.8 L714.0,558.2 L715.3,560.1 L716.6,558.8 L717.9,560.1 L719.2,558.1 L720.5,558.9 L721.8,557.8 L723.1,556.6 L724.4,555.5 L725.7,555.8 L727.0,556.7 L728.3,552.8 L729.6,549.7 L730.9,548.8 L732.2,546.0 L733.5,542.2 L734.8,542.5 L736.1,542.5 L737.4,538.5 L738.7,535.8 L740.0,536.2 L741.3,536.4 L742.6,534.0 L743.9,533.4 L745.2,535.2 L746.5,535.6 L747.8,536.6 L749.1,538.2 L750.4,541.6 L751.7,544.2 L753.0,548.0 L754.3,547.5 L755.6,551.5 L756.9,550.5 L758.2,550.5 L759.5,552.7 L760.8,549.6 L762.1,551.8 L763.4,552.5 L764.7,554.9 L766.0,553.5 L767.3,556.3 L768.6,554.1 L769.9,555.5 L771.2,553.9 L772.5,556.3 L773.8,554.4 L775.1,555.3 L776.4,553.9 L777.7,553.0 L779.0,554.0 L780.3,555.6 L781.6,552.7 L782.9,551.9 L784.2,553.3 L785.5,554.5 L786.8,551.9 L788.1,552.3 L789.4,553.1 L790.7,552.2 L792.0,552.8 L793.3,553.7 L794.6,552.0 L795.9,551.7 L797.2,552.6 L798.5,551.3 L799.8,549.9 L801.1,549.7 L802.4,549.4 L803.7,553.2 L805.0,550.5 L806.3,551.2 L807.6,551.3 L808.9,549.1 L810.2,551.0 L811.5,549.5 L812.8,547.5 L814.1,550.0 L815.4,549.0 L816.7,550.2 L818.0,551.3 L819.3,554.1 L820.6,550.9 L821.9,551.7 L823.2,552.8 L824.5,553.0 L825.8,553.0 L827.1,552.3 L828.4,553.0 L829.7,554.5 L831.0,553.8 L832.3,555.0 L833.6,554.8 L834.9,558.4 L836.2,555.6 L837.5,560.5 L838.8,557.8 L840.1,557.7 L841.4,558.0 L842.7,561.0 L844.0,561.8 L845.3,559.7 L846.6,561.6 L847.9,561.3 L849.2,561.4 L850.5,562.2 L851.8,563.3 L853.1,560.1 L854.4,559.9 L855.7,563.4 L857.0,563.3 L858.3,564.5 L859.6,561.7 L860.9,562.9 L862.2,566.4 L863.5,562.9 L864.8,565.4 L866.1,564.1 L867.4,564.8 L868.7,563.8 L870.0,567.3 L871.3,563.5 L872.6,564.6 L873.9,565.2 L875.2,568.0 L876.5,567.0 L877.8,567.7 L879.1,566.9 L880.4,567.3 L881.7,567.8 L883.0,569.2 L884.3,567.6 L885.6,565.4 L886.9,568.8 L888.2,567.4 L889.5,565.7 L890.8,566.8 L892.1,565.6 L893.4,569.3 L894.7,565.9 L896.0,563.5 L897.3,566.3 L898.6,564.6 L899.9,567.2 L901.2,565.6 L902.5,562.9 L903.8,564.5 L905.1,563.6 L906.4,563.9 L907.7,563.9 L909.0,562.0 L910.3,564.7 L911.6,563.2 L912.9,563.1 L914.2,565.1 L915.5,566.4 L916.8,563.0 L918.1,566.1 L919.4,561.0 L920.7,564.3 L922.0,562.7 L923.3,563.2 L924.6,562.0 L925.9,562.4 L927.2,562.7 L928.5,562.6 L929.8,563.5 L931.1,565.9 L932.4,562.0 L933.7,562.6 L935.0,560.5 L936.3,559.5 L937.6,564.5 L938.9,561.0 L940.2,561.7 L941.5,562.9 L942.8,564.3 L944.1,563.9 L945.4,566.4 L946.7,564.2 L948.0,562.6 L949.3,565.6 L950.6,566.0 L951.9,565.0 L953.2,565.8 L954.5,565.2 L955.8,567.4 L957.1,563.0 L958.4,560.4 L959.7,561.1 L961.0,557.0 L962.3,558.9 L963.6,558.4 L964.9,556.4 L966.2,556.4 L967.5,556.1 L968.8,558.8 L970.1,557.0 L971.4,554.7 L972.7,554.5 L974.0,555.8 L975.3,555.7 L976.6,554.5 L977.9,555.7 L979.2,554.8 L980.5,556.1 L981.8,554.9 L983.1,553.8 L984.4,553.1 L985.7,550.5 L987.0,551.3 L988.3,549.3 L989.6,547.1 L990.9,547.2 L992.2,546.3 L993.5,550.5 L994.8,547.0 L996.1,548.6 L997.4,548.9 L998.7,548.0 L1000.0,549.6 L1001.3,549.8 L1002.6,551.1 L1003.9,551.7 L1005.2,552.8 L1006.5,553.2 L1007.8,552.0 L1009.1,552.0 L1010.4,552.0 L1011.7,551.8 L1013.0,550.8 L1014.3,554.0 L1015.6,553.2 L1016.9,553.1 L1018.2,551.3 L1019.5,551.6 L1020.8,550.4 L1022.1,553.6 L1023.4,554.7 L1024.7,554.6 L1026.0,553.8 L1027.3,552.5 L1028.6,554.0 L1029.9,554.0 L1031.2,554.9 L1032.5,554.9 L1033.8,553.4 L1035.1,553.4 L1036.4,553.9 L1037.7,553.0 L1039.0,551.5 L1040.3,548.1 L1041.6,549.2 L1042.9,550.2 L1044.2,548.2 L1045.5,548.2 L1046.8,545.3 L1048.1,544.6 L1049.4,544.2 L1050.7,542.7 L1052.0,540.9 L1053.3,539.7 L1054.6,537.3 L1055.9,534.4 L1057.2,527.2 L1058.5,525.4 L1059.8,522.4 L1061.1,519.0 L1062.4,513.5 L1063.7,513.4 L1065.0,506.7 L1066.3,505.3 L1067.6,500.0 L1068.9,500.8 L1070.2,499.9 L1071.5,498.6 L1072.8,501.9 L1074.1,506.6 L1075.4,505.7 L1076.7,509.3 L1078.0,516.7 L1079.3,520.5 L1080.6,525.7 L1081.9,531.0 L1083.2,540.0 L1084.5,544.9 L1085.8,550.9 L1087.1,551.2 L1088.4,555.3 L1089.7,558.1 L1091.0,561.0 L1092.3,565.2 L1093.6,567.2 L1094.9,567.4 L1096.2,570.0 L1097.5,571.5 L1098.8,574.6 L1100.1,574.9 L1101.4,575.2 L1102.7,577.6 L1104.0,579.4 L1105.3,582.0 L1106.6,583.7 L1107.9,584.8 L1109.2,584.7 L1110.5,584.4 L1111.8,586.6 L1113.1,586.3 L1114.4,586.2 L1115.7,587.8 L1117.0,588.3 L1118.3,589.2 L1119.6,587.2 L1120.9,586.5 L1122.2,589.5 L1123.5,587.8 L1124.8,590.6 L1126.1,588.1 L1127.4,589.0 L1128.7,587.6 L1130.0,592.8 L1131.3,589.9 L1132.6,590.7 L1133.9,590.4 L1135.2,591.2 L1136.5,593.1 L1137.8,592.6 L1139.1,593.0 L1140.4,595.1 L1141.7,592.5 L1143.0,596.3 L1144.3,597.6 L1145.6,594.4 L1146.9,597.2" stroke="#f04145" stroke-width="5.0"/>
<path d="M234.3,549.7 L235.6,546.7 L236.9,546.7 L238.2,545.9 L239.5,548.3 L240.8,544.1 L242.1,549.2 L243.4,545.9 L244.7,547.2 L246.0,546.3 L247.3,548.4 L248.6,543.8 L249.9,545.9 L251.2,545.7 L252.5,547.6 L253.8,544.6 L255.1,545.8 L256.4,544.8 L257.7,545.9 L259.0,546.5 L260.3,544.2 L261.6,547.1 L262.9,546.7 L264.2,546.1 L265.5,546.5 L266.8,544.4 L268.1,545.1 L269.4,544.0 L270.7,544.8 L272.0,545.8 L273.3,544.1 L274.6,544.5 L275.9,544.1 L277.2,543.8 L278.5,544.0 L279.8,544.9 L281.1,543.4 L282.4,545.1 L283.7,547.0 L285.0,545.8 L286.3,544.6 L287.6,543.6 L288.9,543.8 L290.2,547.0 L291.5,544.9 L292.8,544.0 L294.1,545.1 L295.4,547.6 L296.7,545.0 L298.0,545.7 L299.3,545.3 L300.6,544.5 L301.9,543.5 L303.2,544.5 L304.5,544.7 L305.8,545.8 L307.1,546.1 L308.4,546.3 L309.7,545.5 L311.0,546.3 L312.3,544.2 L313.6,546.8 L314.9,545.9 L316.2,544.9 L317.5,545.9 L318.8,545.2 L320.1,546.8 L321.4,547.4 L322.7,548.3 L324.0,543.6 L325.3,543.6 L326.6,544.8 L327.9,545.7 L329.2,546.7 L330.5,546.0 L331.8,543.0 L333.1,545.2 L334.4,546.7 L335.7,545.9 L337.0,546.7 L338.3,545.4 L339.6,545.4 L340.9,545.9 L342.2,546.2 L343.5,546.0 L344.8,545.9 L346.1,544.8 L347.4,546.2 L348.7,545.8 L350.0,547.1 L351.3,547.2 L352.6,545.8 L353.9,545.0 L355.2,544.6 L356.5,546.0 L357.8,545.5 L359.1,544.9 L360.4,545.3 L361.7,544.4 L363.0,546.0 L364.3,544.5 L365.6,546.6 L366.9,545.4 L368.2,545.6 L369.5,543.3 L370.8,544.9 L372.1,545.5 L373.4,543.2 L374.7,544.0 L376.0,544.3 L377.3,542.4 L378.6,544.5 L379.9,545.1 L381.2,542.8 L382.5,544.2 L383.8,542.0 L385.1,543.5 L386.4,541.3 L387.7,544.7 L389.0,543.5 L390.3,542.8 L391.6,541.6 L392.9,544.0 L394.2,544.7 L395.5,539.4 L396.8,543.2 L398.1,543.5 L399.4,541.6 L400.7,539.4 L402.0,541.9 L403.3,540.3 L404.6,539.6 L405.9,538.7 L407.2,540.9 L408.5,541.1 L409.8,539.2 L411.1,540.7 L412.4,538.7 L413.7,541.6 L415.0,541.2 L416.3,541.5 L417.6,542.1 L418.9,543.8 L420.2,543.9 L421.5,543.5 L422.8,542.9 L424.1,542.5 L425.4,542.9 L426.7,541.9 L428.0,541.9 L429.3,540.1 L430.6,536.6 L431.9,540.5 L433.2,541.2 L434.5,538.2 L435.8,536.8 L437.1,535.9 L438.4,534.9 L439.7,534.0 L441.0,531.2 L442.3,530.7 L443.6,528.7 L444.9,529.0 L446.2,526.8 L447.5,526.1 L448.8,523.3 L450.1,522.8 L451.4,519.9 L452.7,520.8 L454.0,514.1 L455.3,514.7 L456.6,516.4 L457.9,518.5 L459.2,514.9 L460.5,515.4 L461.8,515.2 L463.1,517.4 L464.4,515.5 L465.7,517.0 L467.0,515.9 L468.3,514.9 L469.6,517.3 L470.9,518.0 L472.2,519.8 L473.5,519.1 L474.8,519.5 L476.1,522.0 L477.4,522.6 L478.7,523.8 L480.0,524.5 L481.3,527.4 L482.6,527.6 L483.9,530.8 L485.2,530.9 L486.5,531.4 L487.8,529.3 L489.1,533.0 L490.4,533.4 L491.7,534.2 L493.0,534.7 L494.3,532.7 L495.6,534.1 L496.9,532.0 L498.2,534.9 L499.5,530.2 L500.8,529.2 L502.1,528.9 L503.4,529.5 L504.7,528.8 L506.0,532.4 L507.3,528.9 L508.6,527.0 L509.9,529.6 L511.2,526.9 L512.5,525.6 L513.8,528.0 L515.1,527.5 L516.4,526.2 L517.7,529.0 L519.0,528.0 L520.3,530.8 L521.6,530.2 L522.9,532.5 L524.2,531.4 L525.5,530.7 L526.8,536.6 L528.1,533.9 L529.4,535.5 L530.7,535.9 L532.0,537.5 L533.3,538.8 L534.6,539.2 L535.9,540.1 L537.2,541.9 L538.5,539.6 L539.8,538.4 L541.1,538.7 L542.4,539.6 L543.7,538.4 L545.0,541.8 L546.3,540.2 L547.6,540.5 L548.9,541.0 L550.2,539.2 L551.5,539.8 L552.8,541.5 L554.1,541.0 L555.4,539.1 L556.7,541.4 L558.0,536.7 L559.3,537.2 L560.6,536.7 L561.9,532.7 L563.2,538.2 L564.5,535.7 L565.8,533.4 L567.1,537.0 L568.4,534.6 L569.7,534.0 L571.0,532.2 L572.3,532.7 L573.6,530.1 L574.9,532.7 L576.2,530.8 L577.5,531.1 L578.8,532.2 L580.1,530.6 L581.4,530.3 L582.7,530.1 L584.0,528.5 L585.3,530.4 L586.6,531.1 L587.9,529.9 L589.2,529.9 L590.5,527.4 L591.8,527.3 L593.1,526.4 L594.4,529.7 L595.7,527.7 L597.0,529.7 L598.3,526.7 L599.6,527.0 L600.9,527.6 L602.2,528.6 L603.5,527.3 L604.8,527.4 L606.1,527.1 L607.4,527.2 L608.7,525.4 L610.0,526.9 L611.3,526.4 L612.6,526.5 L613.9,527.2 L615.2,525.6 L616.5,526.3 L617.8,526.0 L619.1,526.8 L620.4,527.2 L621.7,524.6 L623.0,526.2 L624.3,527.5 L625.6,522.2 L626.9,522.2 L628.2,521.3 L629.5,521.3 L630.8,523.0 L632.1,520.1 L633.4,518.5 L634.7,519.7 L636.0,517.6 L637.3,519.4 L638.6,517.9 L639.9,518.9 L641.2,515.9 L642.5,520.3 L643.8,517.0 L645.1,516.4 L646.4,515.1 L647.7,513.7 L649.0,513.1 L650.3,513.4 L651.6,511.9 L652.9,512.6 L654.2,510.4 L655.5,511.0 L656.8,509.4 L658.1,504.6 L659.4,504.2 L660.7,499.4 L662.0,498.5 L663.3,495.4 L664.6,494.9 L665.9,491.7 L667.2,493.0 L668.5,495.3 L669.8,493.1 L671.1,491.8 L672.4,492.6 L673.7,492.6 L675.0,493.8 L676.3,496.7 L677.6,499.6 L678.9,498.1 L680.2,500.0 L681.5,500.4 L682.8,501.6 L684.1,502.4 L685.4,503.5 L686.7,505.5 L688.0,504.5 L689.3,508.4 L690.6,509.4 L691.9,508.9 L693.2,511.1 L694.5,509.9 L695.8,510.8 L697.1,512.2 L698.4,512.1 L699.7,511.9 L701.0,511.6 L702.3,511.7 L703.6,513.7 L704.9,509.8 L706.2,512.8 L707.5,511.9 L708.8,513.0 L710.1,512.6 L711.4,508.2 L712.7,512.4 L714.0,511.9 L715.3,511.3 L716.6,510.4 L717.9,511.9 L719.2,509.9 L720.5,512.6 L721.8,510.6 L723.1,512.3 L724.4,508.2 L725.7,506.3 L727.0,508.0 L728.3,505.8 L729.6,501.7 L730.9,496.2 L732.2,494.2 L733.5,492.4 L734.8,488.5 L736.1,486.5 L737.4,485.0 L738.7,482.8 L740.0,482.1 L741.3,479.9 L742.6,483.3 L743.9,479.9 L745.2,481.3 L746.5,480.2 L747.8,484.2 L749.1,482.8 L750.4,488.8 L751.7,489.9 L753.0,494.8 L754.3,492.0 L755.6,495.0 L756.9,496.5 L758.2,498.8 L759.5,497.8 L760.8,499.5 L762.1,497.7 L763.4,500.4 L764.7,503.1 L766.0,504.9 L767.3,504.0 L768.6,507.8 L769.9,508.1 L771.2,506.4 L772.5,503.9 L773.8,505.1 L775.1,506.7 L776.4,509.4 L777.7,508.4 L779.0,504.8 L780.3,506.2 L781.6,507.0 L782.9,502.6 L784.2,500.1 L785.5,501.8 L786.8,497.6 L788.1,495.6 L789.4,495.9 L790.7,495.5 L792.0,495.4 L793.3,498.3 L794.6,499.2 L795.9,500.0 L797.2,500.0 L798.5,502.8 L799.8,502.2 L801.1,503.6 L802.4,504.7 L803.7,504.3 L805.0,505.1 L806.3,502.5 L807.6,498.6 L808.9,498.0 L810.2,500.0 L811.5,496.6 L812.8,496.4 L814.1,493.8 L815.4,495.7 L816.7,493.7 L818.0,496.2 L819.3,493.8 L820.6,496.3 L821.9,496.2 L823.2,494.9 L824.5,497.9 L825.8,496.0 L827.1,496.8 L828.4,499.5 L829.7,498.6 L831.0,499.4 L832.3,500.5 L833.6,500.4 L834.9,503.8 L836.2,503.9 L837.5,503.7 L838.8,504.2 L840.1,505.4 L841.4,507.6 L842.7,506.9 L844.0,505.7 L845.3,507.9 L846.6,507.2 L847.9,507.7 L849.2,510.9 L850.5,508.4 L851.8,508.8 L853.1,507.3 L854.4,508.4 L855.7,511.1 L857.0,510.0 L858.3,511.8 L859.6,509.8 L860.9,510.4 L862.2,512.3 L863.5,513.3 L864.8,512.2 L866.1,512.9 L867.4,513.6 L868.7,512.7 L870.0,510.1 L871.3,511.2 L872.6,512.1 L873.9,510.7 L875.2,511.8 L876.5,509.1 L877.8,510.0 L879.1,511.7 L880.4,508.1 L881.7,509.5 L883.0,510.8 L884.3,508.6 L885.6,510.8 L886.9,509.6 L888.2,510.2 L889.5,510.2 L890.8,510.7 L892.1,509.6 L893.4,510.4 L894.7,509.4 L896.0,510.7 L897.3,511.9 L898.6,509.7 L899.9,509.3 L901.2,507.2 L902.5,509.2 L903.8,506.9 L905.1,506.3 L906.4,507.6 L907.7,506.7 L909.0,507.4 L910.3,507.3 L911.6,504.3 L912.9,504.7 L914.2,506.4 L915.5,505.0 L916.8,504.4 L918.1,504.9 L919.4,502.1 L920.7,503.5 L922.0,504.3 L923.3,504.3 L924.6,501.0 L925.9,501.4 L927.2,502.0 L928.5,500.8 L929.8,500.3 L931.1,501.4 L932.4,499.6 L933.7,497.3 L935.0,499.6 L936.3,498.1 L937.6,497.2 L938.9,495.5 L940.2,498.3 L941.5,493.6 L942.8,493.7 L944.1,494.9 L945.4,496.3 L946.7,495.8 L948.0,492.1 L949.3,492.8 L950.6,490.5 L951.9,493.1 L953.2,489.2 L954.5,490.2 L955.8,490.9 L957.1,488.5 L958.4,489.9 L959.7,486.0 L961.0,486.9 L962.3,486.7 L963.6,484.8 L964.9,486.1 L966.2,484.5 L967.5,481.2 L968.8,488.1 L970.1,483.6 L971.4,482.8 L972.7,480.9 L974.0,482.8 L975.3,482.2 L976.6,483.7 L977.9,483.4 L979.2,485.4 L980.5,483.3 L981.8,483.9 L983.1,483.8 L984.4,483.3 L985.7,483.4 L987.0,485.2 L988.3,485.0 L989.6,483.5 L990.9,483.6 L992.2,485.9 L993.5,488.4 L994.8,487.7 L996.1,490.5 L997.4,487.4 L998.7,488.5 L1000.0,484.8 L1001.3,487.0 L1002.6,487.0 L1003.9,487.5 L1005.2,488.5 L1006.5,485.7 L1007.8,486.9 L1009.1,485.2 L1010.4,484.8 L1011.7,482.2 L1013.0,483.8 L1014.3,479.8 L1015.6,480.9 L1016.9,477.7 L1018.2,476.7 L1019.5,473.7 L1020.8,473.2 L1022.1,472.5 L1023.4,470.4 L1024.7,467.3 L1026.0,469.9 L1027.3,467.7 L1028.6,468.3 L1029.9,468.1 L1031.2,466.5 L1032.5,465.3 L1033.8,467.1 L1035.1,470.3 L1036.4,467.8 L1037.7,470.6 L1039.0,469.0 L1040.3,470.3 L1041.6,467.0 L1042.9,470.1 L1044.2,467.5 L1045.5,467.3 L1046.8,464.9 L1048.1,464.1 L1049.4,461.1 L1050.7,459.9 L1052.0,454.1 L1053.3,451.3 L1054.6,449.8 L1055.9,444.5 L1057.2,438.2 L1058.5,430.8 L1059.8,423.7 L1061.1,414.5 L1062.4,408.6 L1063.7,399.1 L1065.0,393.2 L1066.3,390.0 L1067.6,385.6 L1068.9,379.4 L1070.2,381.1 L1071.5,380.8 L1072.8,387.3 L1074.1,388.8 L1075.4,396.1 L1076.7,405.4 L1078.0,415.3 L1079.3,426.8 L1080.6,435.1 L1081.9,445.6 L1083.2,455.0 L1084.5,462.5 L1085.8,470.7 L1087.1,478.8 L1088.4,482.5 L1089.7,486.8 L1091.0,489.4 L1092.3,494.7 L1093.6,494.5 L1094.9,500.6 L1096.2,502.6 L1097.5,507.3 L1098.8,508.2 L1100.1,510.6 L1101.4,514.8 L1102.7,513.6 L1104.0,517.2 L1105.3,516.1 L1106.6,520.3 L1107.9,522.3 L1109.2,524.4 L1110.5,523.6 L1111.8,526.6 L1113.1,528.0 L1114.4,528.9 L1115.7,530.4 L1117.0,532.1 L1118.3,533.2 L1119.6,532.6 L1120.9,533.4 L1122.2,539.2 L1123.5,539.5 L1124.8,536.0 L1126.1,539.3 L1127.4,540.3 L1128.7,541.2 L1130.0,541.2 L1131.3,540.6 L1132.6,542.3 L1133.9,542.6 L1135.2,544.1 L1136.5,544.2 L1137.8,545.0 L1139.1,547.1 L1140.4,547.9 L1141.7,545.3 L1143.0,546.6 L1144.3,546.6 L1145.6,549.6 L1146.9,548.2" stroke="#545454" stroke-width="5.0"/>
</g>
<line x1="827.4" y1="342.3" x2="1031.3" y2="735.3" stroke="#bd82f2" stroke-width="3.6"/>
<polygon points="814.5,317.4 822.3,347.2 834.4,340.9" fill="#bd82f2"/>
<rect x="234.3" y="41.3" width="912.6000000000001" height="766.0" fill="none" stroke="#1c1c1c" stroke-width="2.2"/>
<line x1="260.4" y1="807.3" x2="260.4" y2="799.3" stroke="#1c1c1c" stroke-width="2.2"/>
<line x1="338.3" y1="807.3" x2="338.3" y2="791.8" stroke="#1c1c1c" stroke-width="2.2"/>
<text transform="translate(295.57 861.40) scale(1.0000 1)" font-size="50.30" font-weight="normal" fill="#222">900</text>
<line x1="416.2" y1="807.3" x2="416.2" y2="799.3" stroke="#1c1c1c" stroke-width="2.2"/>
<line x1="494.1" y1="807.3" x2="494.1" y2="791.8" stroke="#1c1c1c" stroke-width="2.2"/>
<text transform="translate(436.51 861.40) scale(1.0000 1)" font-size="50.30" font-weight="normal" fill="#222">1050</text>
<line x1="572.0" y1="807.3" x2="572.0" y2="799.3" stroke="#1c1c1c" stroke-width="2.2"/>
<line x1="649.9" y1="807.3" x2="649.9" y2="791.8" stroke="#1c1c1c" stroke-width="2.2"/>
<text transform="translate(592.29 861.40) scale(1.0000 1)" font-size="50.30" font-weight="normal" fill="#222">1200</text>
<line x1="727.7" y1="807.3" x2="727.7" y2="799.3" stroke="#1c1c1c" stroke-width="2.2"/>
<line x1="805.6" y1="807.3" x2="805.6" y2="791.8" stroke="#1c1c1c" stroke-width="2.2"/>
<text transform="translate(748.06 861.40) scale(1.0000 1)" font-size="50.30" font-weight="normal" fill="#222">1350</text>
<line x1="883.5" y1="807.3" x2="883.5" y2="799.3" stroke="#1c1c1c" stroke-width="2.2"/>
<line x1="961.4" y1="807.3" x2="961.4" y2="791.8" stroke="#1c1c1c" stroke-width="2.2"/>
<text transform="translate(903.84 861.40) scale(1.0000 1)" font-size="50.30" font-weight="normal" fill="#222">1500</text>
<line x1="1039.3" y1="807.3" x2="1039.3" y2="799.3" stroke="#1c1c1c" stroke-width="2.2"/>
<line x1="1117.2" y1="807.3" x2="1117.2" y2="791.8" stroke="#1c1c1c" stroke-width="2.2"/>
<text transform="translate(1059.61 861.40) scale(1.0000 1)" font-size="50.30" font-weight="normal" fill="#222">1650</text>
<text transform="translate(473.77 947.40) scale(1.0029 1)" font-size="48.00" font-weight="bold" fill="#161616">Raman Shift (cm</text>
<text transform="translate(855.55 926.20) scale(0.9027 1)" font-size="30.00" font-weight="normal" fill="#222">−1</text>
<text transform="translate(892.60 947.40) scale(1.0000 1)" font-size="48.00" font-weight="bold" fill="#161616">)</text>
<text transform="translate(175.10 657.56) rotate(-90) scale(1.0096 1)" font-size="49.70" font-weight="bold" fill="#161616">Raman intensity (a.u.)</text>
<text transform="translate(76.40 82.90) scale(0.9896 1)" font-size="50.48" font-weight="bold" fill="#111">(a)</text>
<line x1="242.8" y1="67.6" x2="316.0" y2="67.6" stroke="#545454" stroke-width="6"/>
<text transform="translate(321.60 80.00) scale(0.9543 1)" font-size="35.00" font-weight="normal" fill="#333">10</text>
<text transform="translate(358.19 65.40) scale(0.8413 1)" font-size="24.00" font-weight="normal" fill="#333">−5</text>
<text transform="translate(388.55 80.00) scale(0.8766 1)" font-size="35.00" font-weight="normal" fill="#333">M BPy</text>
<line x1="242.8" y1="112.9" x2="316.0" y2="112.9" stroke="#f04145" stroke-width="6"/>
<text transform="translate(321.60 122.30) scale(0.9543 1)" font-size="35.00" font-weight="normal" fill="#333">10</text>
<text transform="translate(358.19 107.70) scale(0.8413 1)" font-size="24.00" font-weight="normal" fill="#333">−6</text>
<text transform="translate(388.55 122.30) scale(0.8766 1)" font-size="35.00" font-weight="normal" fill="#333">M BPy</text>
<line x1="242.8" y1="158.2" x2="316.0" y2="158.2" stroke="#2478e6" stroke-width="6"/>
<text transform="translate(321.60 167.20) scale(0.9543 1)" font-size="35.00" font-weight="normal" fill="#333">10</text>
<text transform="translate(358.18 152.60) scale(0.8494 1)" font-size="24.00" font-weight="normal" fill="#333">−7</text>
<text transform="translate(388.55 167.20) scale(0.8766 1)" font-size="35.00" font-weight="normal" fill="#333">M BPy</text>
<line x1="242.8" y1="201.5" x2="316.0" y2="201.5" stroke="#39a96b" stroke-width="6"/>
<text transform="translate(321.60 211.80) scale(0.9543 1)" font-size="35.00" font-weight="normal" fill="#333">10</text>
<text transform="translate(358.19 197.20) scale(0.8413 1)" font-size="24.00" font-weight="normal" fill="#333">−8</text>
<text transform="translate(388.55 211.80) scale(0.8766 1)" font-size="35.00" font-weight="normal" fill="#333">M BPy</text>
<line x1="242.8" y1="246.4" x2="316.0" y2="246.4" stroke="#b67fe4" stroke-width="6"/>
<text transform="translate(321.60 257.00) scale(0.9543 1)" font-size="35.00" font-weight="normal" fill="#333">10</text>
<text transform="translate(358.19 242.40) scale(0.8453 1)" font-size="24.00" font-weight="normal" fill="#333">−9</text>
<text transform="translate(388.55 257.00) scale(0.8766 1)" font-size="35.00" font-weight="normal" fill="#333">M BPy</text>
<line x1="984.2" y1="52.5" x2="984.2" y2="129.6" stroke="#111" stroke-width="3.6"/>
<line x1="977.3" y1="53.8" x2="991.1" y2="53.8" stroke="#111" stroke-width="3.6"/>
<line x1="977.3" y1="128.1" x2="991.1" y2="128.1" stroke="#111" stroke-width="3.6"/>
<text transform="translate(990.64 103.30) scale(0.9436 1)" font-size="37.30" font-weight="normal" fill="#222">200 (a.u.)</text>
<clipPath id="clipI"><rect x="556.2" y="74.2" width="389.0" height="234.2"/></clipPath>
<g clip-path="url(#clipI)"><path d="M556.2,225.2 L556.5,199.4 L556.7,186.3 L557.0,164.0 L557.3,199.0 L557.5,199.9 L557.8,185.4 L558.1,198.4 L558.3,210.9 L558.6,191.2 L558.9,189.5 L559.1,188.2 L559.4,213.2 L559.7,211.8 L559.9,177.4 L560.2,190.6 L560.4,212.1 L560.7,223.3 L561.0,201.4 L561.2,187.4 L561.5,211.6 L561.8,195.8 L562.0,210.6 L562.3,226.1 L562.6,210.8 L562.8,200.0 L563.1,210.6 L563.4,186.4 L563.6,201.0 L563.9,188.4 L564.2,202.2 L564.4,186.7 L564.7,200.1 L565.0,199.3 L565.2,198.8 L565.5,202.2 L565.8,198.5 L566.0,221.6 L566.3,182.1 L566.6,222.9 L566.8,199.6 L567.1,189.4 L567.4,198.0 L567.6,200.7 L567.9,209.1 L568.1,187.6 L568.4,198.9 L568.7,202.7 L568.9,178.3 L569.2,192.2 L569.5,214.9 L569.7,210.1 L570.0,212.6 L570.3,210.6 L570.5,198.7 L570.8,202.4 L571.1,214.4 L571.3,188.8 L571.6,200.7 L571.9,200.6 L572.1,177.7 L572.4,223.7 L572.7,186.5 L572.9,201.2 L573.2,233.1 L573.5,186.1 L573.7,188.2 L574.0,223.5 L574.3,190.2 L574.5,189.3 L574.8,212.1 L575.1,210.2 L575.3,212.3 L575.6,200.4 L575.8,223.6 L576.1,210.0 L576.4,214.9 L576.6,190.0 L576.9,189.9 L577.2,177.2 L577.4,210.9 L577.7,178.9 L578.0,208.8 L578.2,222.1 L578.5,187.9 L578.8,189.6 L579.0,187.9 L579.3,243.0 L579.6,243.0 L579.8,203.1 L580.1,189.1 L580.4,201.9 L580.6,222.0 L580.9,190.6 L581.2,199.3 L581.4,200.5 L581.7,208.5 L582.0,178.1 L582.2,211.7 L582.5,207.7 L582.8,211.3 L583.0,199.3 L583.3,178.6 L583.5,187.1 L583.8,211.9 L584.1,202.6 L584.3,198.2 L584.6,226.7 L584.9,235.0 L585.1,199.5 L585.4,220.2 L585.7,173.4 L585.9,178.9 L586.2,210.6 L586.5,198.7 L586.7,213.6 L587.0,212.8 L587.3,200.2 L587.5,208.5 L587.8,196.1 L588.1,178.9 L588.3,199.9 L588.6,199.5 L588.9,226.8 L589.1,187.6 L589.4,200.7 L589.7,192.8 L589.9,201.2 L590.2,221.9 L590.5,198.3 L590.7,190.9 L591.0,197.5 L591.3,213.2 L591.5,191.8 L591.8,199.7 L592.0,224.5 L592.3,211.4 L592.6,202.5 L592.8,188.6 L593.1,198.1 L593.4,177.1 L593.6,211.1 L593.9,198.0 L594.2,198.7 L594.4,173.6 L594.7,185.8 L595.0,211.7 L595.2,195.1 L595.5,187.7 L595.8,210.1 L596.0,208.8 L596.3,189.7 L596.6,188.2 L596.8,185.5 L597.1,187.1 L597.4,211.4 L597.6,206.3 L597.9,198.3 L598.2,185.8 L598.4,187.0 L598.7,201.8 L599.0,196.2 L599.2,196.7 L599.5,183.4 L599.7,209.2 L600.0,221.4 L600.3,152.0 L600.5,152.0 L600.8,200.1 L601.1,202.9 L601.3,193.7 L601.6,209.1 L601.9,196.7 L602.1,187.3 L602.4,184.3 L602.7,210.4 L602.9,193.4 L603.2,196.9 L603.5,183.6 L603.7,195.0 L604.0,169.3 L604.3,217.9 L604.5,198.4 L604.8,194.3 L605.1,195.0 L605.3,172.7 L605.6,170.4 L605.9,195.8 L606.1,219.3 L606.4,183.1 L606.7,179.7 L606.9,198.0 L607.2,171.9 L607.4,171.7 L607.7,194.2 L608.0,193.3 L608.2,191.1 L608.5,217.2 L608.8,194.6 L609.0,196.1 L609.3,220.4 L609.6,215.7 L609.8,174.4 L610.1,194.4 L610.4,207.0 L610.6,169.3 L610.9,183.6 L611.2,169.5 L611.4,172.8 L611.7,180.5 L612.0,194.6 L612.2,216.8 L612.5,218.4 L612.8,195.2 L613.0,172.1 L613.3,193.8 L613.6,196.6 L613.8,196.0 L614.1,193.4 L614.4,173.5 L614.6,193.7 L614.9,172.3 L615.1,183.4 L615.4,195.0 L615.7,196.8 L615.9,214.7 L616.2,163.4 L616.5,191.8 L616.7,209.4 L617.0,196.6 L617.3,204.0 L617.5,184.8 L617.8,206.5 L618.1,204.8 L618.3,186.7 L618.6,186.5 L618.9,196.6 L619.1,187.8 L619.4,207.7 L619.7,195.4 L619.9,221.7 L620.2,206.1 L620.5,197.7 L620.7,198.4 L621.0,185.2 L621.3,185.0 L621.5,185.8 L621.8,196.9 L622.1,183.5 L622.3,189.2 L622.6,195.5 L622.8,182.1 L623.1,198.6 L623.4,218.7 L623.6,220.2 L623.9,186.8 L624.2,198.9 L624.4,195.0 L624.7,201.3 L625.0,221.8 L625.2,209.8 L625.5,218.2 L625.8,224.2 L626.0,186.9 L626.3,199.4 L626.6,196.6 L626.8,212.6 L627.1,200.3 L627.4,208.6 L627.6,212.9 L627.9,206.8 L628.2,210.7 L628.4,187.3 L628.7,175.9 L629.0,207.7 L629.2,208.4 L629.5,188.1 L629.8,188.3 L630.0,186.1 L630.3,174.2 L630.5,196.7 L630.8,189.0 L631.1,197.6 L631.3,208.3 L631.6,194.1 L631.9,205.8 L632.1,207.2 L632.4,193.9 L632.7,197.2 L632.9,220.5 L633.2,196.1 L633.5,220.3 L633.7,186.5 L634.0,206.1 L634.3,199.7 L634.5,181.2 L634.8,167.8 L635.1,218.4 L635.3,187.0 L635.6,186.2 L635.9,199.3 L636.1,197.0 L636.4,199.7 L636.7,243.0 L636.9,243.0 L637.2,209.7 L637.5,188.0 L637.7,200.9 L638.0,208.0 L638.2,209.2 L638.5,153.0 L638.8,153.0 L639.0,199.4 L639.3,177.6 L639.6,188.1 L639.8,187.4 L640.1,188.8 L640.4,201.4 L640.6,201.3 L640.9,226.6 L641.2,221.1 L641.4,176.9 L641.7,196.8 L642.0,186.7 L642.2,212.3 L642.5,202.2 L642.8,210.2 L643.0,200.7 L643.3,211.4 L643.6,200.9 L643.8,165.8 L644.1,187.5 L644.4,183.9 L644.6,185.5 L644.9,189.2 L645.2,222.7 L645.4,204.0 L645.7,222.8 L645.9,201.5 L646.2,220.2 L646.5,185.2 L646.7,211.3 L647.0,179.7 L647.3,211.6 L647.5,221.5 L647.8,176.9 L648.1,188.8 L648.3,199.9 L648.6,198.9 L648.9,173.7 L649.1,207.9 L649.4,197.6 L649.7,221.3 L649.9,195.9 L650.2,190.1 L650.5,188.1 L650.7,220.2 L651.0,176.7 L651.3,191.5 L651.5,210.0 L651.8,209.9 L652.1,211.5 L652.3,172.1 L652.6,231.1 L652.9,196.1 L653.1,199.2 L653.4,194.1 L653.7,198.1 L653.9,184.9 L654.2,196.7 L654.4,219.1 L654.7,177.1 L655.0,160.8 L655.2,206.1 L655.5,197.6 L655.8,207.2 L656.0,220.8 L656.3,185.1 L656.6,196.7 L656.8,208.2 L657.1,204.6 L657.4,203.8 L657.6,188.9 L657.9,170.9 L658.2,197.2 L658.4,170.8 L658.7,207.3 L659.0,195.4 L659.2,198.8 L659.5,183.9 L659.8,215.6 L660.0,192.8 L660.3,196.2 L660.6,208.7 L660.8,199.4 L661.1,211.1 L661.4,215.4 L661.6,194.9 L661.9,204.2 L662.1,207.1 L662.4,208.1 L662.7,202.7 L662.9,196.5 L663.2,184.7 L663.5,194.1 L663.7,181.9 L664.0,209.3 L664.3,194.1 L664.5,203.7 L664.8,183.0 L665.1,184.8 L665.3,184.0 L665.6,201.6 L665.9,191.3 L666.1,193.1 L666.4,171.1 L666.7,194.1 L666.9,145.2 L667.2,218.4 L667.5,194.5 L667.7,190.3 L668.0,168.4 L668.3,181.6 L668.5,201.7 L668.8,193.2 L669.1,204.9 L669.3,215.1 L669.6,205.6 L669.8,173.5 L670.1,180.0 L670.4,182.2 L670.6,180.2 L670.9,172.6 L671.2,172.0 L671.4,180.9 L671.7,179.6 L672.0,205.3 L672.2,192.1 L672.5,212.7 L672.8,167.0 L673.0,168.6 L673.3,196.2 L673.6,194.0 L673.8,183.0 L674.1,205.1 L674.4,205.9 L674.6,217.5 L674.9,189.2 L675.2,192.6 L675.4,192.6 L675.7,192.2 L676.0,203.5 L676.2,174.5 L676.5,191.4 L676.8,153.7 L677.0,204.3 L677.3,212.7 L677.5,190.1 L677.8,202.0 L678.1,163.4 L678.3,190.1 L678.6,164.8 L678.9,192.2 L679.1,200.7 L679.4,164.9 L679.7,181.1 L679.9,152.0 L680.2,152.0 L680.5,189.8 L680.7,189.7 L681.0,190.5 L681.3,188.1 L681.5,192.2 L681.8,167.8 L682.1,181.9 L682.3,214.3 L682.6,188.2 L682.9,192.3 L683.1,166.7 L683.4,190.5 L683.7,185.3 L683.9,176.3 L684.2,204.6 L684.5,181.0 L684.7,186.8 L685.0,202.5 L685.2,191.1 L685.5,204.4 L685.8,188.3 L686.0,175.5 L686.3,202.6 L686.6,189.2 L686.8,200.8 L687.1,188.8 L687.4,193.1 L687.6,200.4 L687.9,204.0 L688.2,180.4 L688.4,189.3 L688.7,192.6 L689.0,204.7 L689.2,179.9 L689.5,201.8 L689.8,169.3 L690.0,189.3 L690.3,203.3 L690.6,153.0 L690.8,153.0 L691.1,164.3 L691.4,192.4 L691.6,189.1 L691.9,190.0 L692.2,168.2 L692.4,201.2 L692.7,156.7 L692.9,200.5 L693.2,190.0 L693.5,202.4 L693.7,192.2 L694.0,178.8 L694.3,180.3 L694.5,180.8 L694.8,203.7 L695.1,190.9 L695.3,193.8 L695.6,201.2 L695.9,216.3 L696.1,170.2 L696.4,193.1 L696.7,201.8 L696.9,204.7 L697.2,180.8 L697.5,189.1 L697.7,190.8 L698.0,188.8 L698.3,180.7 L698.5,182.7 L698.8,181.8 L699.1,189.5 L699.3,212.5 L699.6,179.6 L699.9,202.7 L700.1,216.1 L700.4,190.9 L700.6,228.4 L700.9,190.6 L701.2,216.7 L701.4,188.8 L701.7,179.1 L702.0,191.8 L702.2,216.4 L702.5,181.3 L702.8,201.6 L703.0,177.7 L703.3,180.3 L703.6,203.2 L703.8,191.1 L704.1,203.3 L704.4,212.3 L704.6,181.4 L704.9,182.4 L705.2,190.2 L705.4,224.8 L705.7,194.5 L706.0,182.7 L706.2,202.0 L706.5,225.2 L706.8,177.1 L707.0,193.1 L707.3,192.5 L707.6,203.7 L707.8,231.2 L708.1,180.3 L708.3,169.0 L708.6,192.7 L708.9,203.4 L709.1,160.0 L709.4,180.5 L709.7,204.1 L709.9,185.3 L710.2,202.7 L710.5,190.0 L710.7,204.2 L711.0,202.7 L711.3,191.2 L711.5,215.9 L711.8,182.7 L712.1,189.4 L712.3,203.6 L712.6,176.9 L712.9,194.4 L713.1,179.0 L713.4,182.4 L713.7,230.7 L713.9,206.8 L714.2,216.5 L714.5,200.2 L714.7,196.4 L715.0,191.8 L715.3,194.3 L715.5,191.7 L715.8,203.7 L716.1,184.5 L716.3,189.4 L716.6,201.8 L716.8,192.2 L717.1,194.9 L717.4,199.3 L717.6,206.9 L717.9,192.0 L718.2,194.3 L718.4,186.7 L718.7,205.5 L719.0,195.2 L719.2,172.7 L719.5,192.4 L719.8,204.8 L720.0,192.7 L720.3,182.0 L720.6,204.0 L720.8,203.6 L721.1,203.4 L721.4,217.7 L721.6,190.5 L721.9,204.9 L722.2,195.9 L722.4,201.9 L722.7,201.2 L723.0,206.1 L723.2,203.2 L723.5,180.3 L723.8,206.1 L724.0,182.4 L724.3,226.5 L724.5,204.2 L724.8,167.4 L725.1,157.7 L725.3,216.3 L725.6,183.0 L725.9,206.1 L726.1,174.0 L726.4,193.4 L726.7,184.0 L726.9,205.6 L727.2,191.6 L727.5,217.2 L727.7,182.8 L728.0,218.0 L728.3,194.6 L728.5,205.4 L728.8,168.9 L729.1,170.1 L729.3,205.8 L729.6,183.6 L729.9,195.4 L730.1,194.5 L730.4,183.6 L730.7,196.7 L730.9,171.3 L731.2,181.3 L731.5,202.5 L731.7,182.5 L732.0,206.7 L732.2,204.7 L732.5,219.9 L732.8,203.7 L733.0,170.3 L733.3,182.4 L733.6,191.5 L733.8,207.5 L734.1,192.5 L734.4,180.1 L734.6,201.8 L734.9,195.8 L735.2,208.0 L735.4,191.9 L735.7,202.6 L736.0,193.0 L736.2,205.4 L736.5,192.9 L736.8,206.4 L737.0,191.8 L737.3,209.6 L737.6,194.7 L737.8,196.0 L738.1,181.6 L738.4,195.9 L738.6,208.8 L738.9,158.0 L739.2,205.7 L739.4,161.5 L739.7,194.8 L739.9,192.3 L740.2,204.5 L740.5,195.2 L740.7,194.6 L741.0,192.7 L741.3,206.1 L741.5,224.0 L741.8,194.1 L742.1,172.9 L742.3,184.4 L742.6,204.6 L742.9,240.5 L743.1,182.9 L743.4,193.7 L743.7,203.8 L743.9,191.1 L744.2,169.7 L744.5,202.9 L744.7,166.6 L745.0,196.2 L745.3,213.8 L745.5,169.4 L745.8,192.3 L746.1,213.1 L746.3,194.2 L746.6,178.6 L746.9,185.5 L747.1,202.2 L747.4,168.9 L747.6,181.6 L747.9,170.2 L748.2,181.9 L748.4,218.7 L748.7,196.2 L749.0,186.9 L749.2,203.0 L749.5,184.6 L749.8,183.9 L750.0,205.0 L750.3,203.0 L750.6,187.5 L750.8,208.1 L751.1,213.6 L751.4,208.7 L751.6,206.6 L751.9,183.1 L752.2,195.8 L752.4,169.9 L752.7,205.4 L753.0,196.1 L753.2,152.0 L753.5,152.0 L753.8,202.2 L754.0,172.7 L754.3,192.0 L754.6,204.9 L754.8,193.1 L755.1,195.3 L755.3,171.8 L755.6,215.4 L755.9,208.4 L756.1,206.4 L756.4,206.3 L756.7,193.2 L756.9,193.4 L757.2,228.0 L757.5,182.6 L757.7,194.9 L758.0,183.4 L758.3,216.5 L758.5,193.8 L758.8,184.0 L759.1,185.0 L759.3,173.6 L759.6,159.5 L759.9,157.0 L760.1,182.9 L760.4,182.9 L760.7,194.2 L760.9,183.6 L761.2,193.0 L761.5,217.3 L761.7,177.9 L762.0,186.1 L762.3,205.6 L762.5,227.9 L762.8,183.6 L763.0,170.5 L763.3,192.6 L763.6,195.7 L763.8,205.7 L764.1,181.2 L764.4,195.4 L764.6,194.9 L764.9,171.8 L765.2,170.4 L765.4,207.7 L765.7,203.7 L766.0,184.2 L766.2,220.1 L766.5,203.7 L766.8,206.0 L767.0,201.9 L767.3,194.1 L767.6,202.1 L767.8,202.8 L768.1,194.4 L768.4,161.7 L768.6,195.0 L768.9,182.1 L769.2,180.9 L769.4,205.5 L769.7,175.9 L770.0,208.4 L770.2,179.8 L770.5,169.6 L770.7,179.6 L771.0,229.6 L771.3,216.4 L771.5,190.9 L771.8,205.1 L772.1,216.0 L772.3,180.3 L772.6,193.3 L772.9,207.2 L773.1,192.1 L773.4,193.3 L773.7,214.1 L773.9,204.6 L774.2,208.2 L774.5,229.6 L774.7,204.1 L775.0,227.3 L775.3,196.5 L775.5,193.7 L775.8,193.0 L776.1,207.8 L776.3,204.7 L776.6,192.6 L776.9,171.9 L777.1,179.9 L777.4,193.2 L777.7,204.1 L777.9,217.5 L778.2,159.6 L778.5,198.1 L778.7,184.4 L779.0,194.6 L779.2,195.7 L779.5,182.7 L779.8,172.3 L780.0,207.5 L780.3,207.3 L780.6,186.3 L780.8,196.1 L781.1,182.1 L781.4,172.7 L781.6,204.4 L781.9,187.8 L782.2,180.0 L782.4,183.6 L782.7,219.4 L783.0,205.1 L783.2,194.7 L783.5,197.6 L783.8,204.7 L784.0,209.0 L784.3,172.3 L784.6,195.1 L784.8,188.3 L785.1,197.5 L785.4,196.8 L785.6,172.5 L785.9,208.0 L786.2,195.8 L786.4,176.9 L786.7,208.2 L786.9,194.9 L787.2,206.9 L787.5,197.3 L787.7,152.0 L788.0,152.0 L788.3,170.4 L788.5,180.6 L788.8,201.3 L789.1,196.4 L789.3,212.0 L789.6,198.1 L789.9,163.1 L790.1,206.4 L790.4,185.6 L790.7,174.6 L790.9,195.5 L791.2,175.8 L791.5,199.9 L791.7,186.9 L792.0,221.0 L792.3,194.1 L792.5,191.7 L792.8,187.7 L793.1,160.9 L793.3,184.0 L793.6,185.0 L793.9,195.9 L794.1,163.6 L794.4,196.3 L794.6,209.9 L794.9,185.8 L795.2,197.7 L795.4,195.9 L795.7,187.2 L796.0,187.5 L796.2,208.3 L796.5,195.2 L796.8,175.7 L797.0,172.0 L797.3,231.6 L797.6,199.7 L797.8,178.3 L798.1,198.3 L798.4,211.1 L798.6,201.6 L798.9,173.9 L799.2,221.2 L799.4,211.2 L799.7,201.9 L800.0,208.4 L800.2,196.9 L800.5,201.3 L800.8,213.4 L801.0,175.2 L801.3,211.2 L801.6,201.5 L801.8,210.7 L802.1,207.4 L802.3,223.2 L802.6,224.7 L802.9,208.8 L803.1,202.6 L803.4,210.8 L803.7,184.9 L803.9,189.0 L804.2,208.5 L804.5,202.9 L804.7,212.7 L805.0,169.4 L805.3,208.4 L805.5,212.1 L805.8,203.3 L806.1,225.9 L806.3,190.3 L806.6,201.3 L806.9,201.9 L807.1,202.7 L807.4,192.8 L807.7,197.1 L807.9,210.2 L808.2,199.6 L808.5,201.2 L808.7,190.2 L809.0,223.2 L809.3,189.3 L809.5,202.6 L809.8,215.0 L810.0,199.5 L810.3,212.1 L810.6,201.3 L810.8,229.3 L811.1,211.4 L811.4,213.4 L811.6,190.0 L811.9,212.0 L812.2,214.8 L812.4,212.8 L812.7,189.0 L813.0,190.2 L813.2,202.2 L813.5,200.4 L813.8,177.2 L814.0,227.0 L814.3,200.6 L814.6,203.7 L814.8,201.5 L815.1,200.2 L815.4,222.6 L815.6,187.0 L815.9,191.9 L816.2,191.8 L816.4,189.7 L816.7,222.9 L817.0,189.5 L817.2,190.9 L817.5,181.7 L817.7,200.9 L818.0,244.0 L818.3,244.0 L818.5,201.6 L818.8,212.2 L819.1,210.1 L819.3,203.6 L819.6,193.8 L819.9,177.4 L820.1,222.5 L820.4,178.5 L820.7,213.5 L820.9,203.7 L821.2,191.4 L821.5,210.8 L821.7,191.8 L822.0,226.4 L822.3,190.2 L822.5,215.0 L822.8,223.2 L823.1,190.7 L823.3,234.7 L823.6,214.5 L823.9,170.1 L824.1,222.1 L824.4,226.2 L824.7,204.7 L824.9,203.8 L825.2,206.6 L825.4,180.2 L825.7,207.8 L826.0,215.2 L826.2,189.6 L826.5,214.8 L826.8,236.8 L827.0,183.1 L827.3,184.0 L827.6,195.8 L827.8,216.9 L828.1,203.7 L828.4,191.3 L828.6,190.2 L828.9,193.9 L829.2,224.6 L829.4,192.1 L829.7,193.2 L830.0,216.7 L830.2,201.5 L830.5,190.3 L830.8,225.0 L831.0,206.2 L831.3,190.7 L831.6,202.7 L831.8,217.3 L832.1,206.5 L832.4,208.5 L832.6,216.2 L832.9,218.2 L833.1,178.3 L833.4,194.7 L833.7,206.7 L833.9,207.0 L834.2,215.6 L834.5,219.5 L834.7,208.5 L835.0,193.8 L835.3,205.4 L835.5,193.2 L835.8,227.8 L836.1,205.5 L836.3,202.9 L836.6,214.3 L836.9,193.5 L837.1,204.6 L837.4,207.6 L837.7,216.8 L837.9,226.8 L838.2,213.7 L838.5,216.7 L838.7,203.7 L839.0,213.8 L839.3,209.8 L839.5,213.5 L839.8,197.8 L840.1,212.1 L840.3,206.1 L840.6,216.5 L840.9,195.8 L841.1,204.1 L841.4,194.8 L841.6,184.4 L841.9,214.8 L842.2,220.5 L842.4,183.0 L842.7,194.9 L843.0,220.0 L843.2,191.5 L843.5,191.7 L843.8,229.4 L844.0,195.0 L844.3,205.3 L844.6,217.0 L844.8,193.7 L845.1,203.7 L845.4,203.0 L845.6,215.6 L845.9,194.4 L846.2,218.0 L846.4,203.1 L846.7,232.1 L847.0,210.3 L847.2,194.5 L847.5,192.4 L847.8,193.6 L848.0,207.1 L848.3,205.3 L848.6,220.8 L848.8,204.9 L849.1,195.8 L849.3,217.9 L849.6,210.0 L849.9,206.2 L850.1,229.3 L850.4,226.6 L850.7,193.3 L850.9,202.7 L851.2,234.8 L851.5,216.9 L851.7,216.4 L852.0,216.9 L852.3,171.6 L852.5,206.4 L852.8,178.7 L853.1,196.3 L853.3,205.4 L853.6,216.6 L853.9,220.3 L854.1,217.2 L854.4,203.6 L854.7,203.4 L854.9,229.7 L855.2,205.3 L855.5,182.4 L855.7,202.5 L856.0,216.9 L856.3,192.2 L856.5,203.4 L856.8,230.6 L857.0,205.6 L857.3,204.4 L857.6,207.0 L857.8,197.3 L858.1,190.4 L858.4,195.4 L858.6,205.5 L858.9,193.3 L859.2,219.3 L859.4,206.6 L859.7,215.5 L860.0,184.4 L860.2,204.5 L860.5,216.3 L860.8,213.6 L861.0,193.4 L861.3,206.0 L861.6,204.1 L861.8,193.3 L862.1,195.8 L862.4,215.9 L862.6,180.4 L862.9,185.1 L863.2,191.7 L863.4,199.8 L863.7,167.5 L864.0,227.1 L864.2,202.1 L864.5,213.8 L864.7,192.1 L865.0,204.2 L865.3,227.0 L865.5,227.5 L865.8,218.2 L866.1,211.2 L866.3,206.9 L866.6,228.8 L866.9,191.6 L867.1,193.1 L867.4,202.3 L867.7,215.9 L867.9,190.7 L868.2,206.6 L868.5,208.6 L868.7,206.3 L869.0,209.8 L869.3,213.6 L869.5,217.6 L869.8,181.1 L870.1,227.7 L870.3,202.1 L870.6,204.2 L870.9,192.5 L871.1,202.8 L871.4,172.0 L871.7,205.7 L871.9,218.1 L872.2,214.6 L872.4,191.3 L872.7,167.3 L873.0,182.8 L873.2,194.6 L873.5,215.5 L873.8,179.6 L874.0,204.3 L874.3,216.5 L874.6,216.6 L874.8,203.5 L875.1,160.3 L875.4,218.1 L875.6,202.2 L875.9,216.1 L876.2,192.6 L876.4,189.9 L876.7,225.8 L877.0,204.5 L877.2,206.4 L877.5,191.0 L877.8,214.7 L878.0,180.5 L878.3,191.6 L878.6,201.0 L878.8,205.6 L879.1,214.9 L879.4,204.8 L879.6,228.2 L879.9,203.0 L880.1,201.9 L880.4,202.4 L880.7,179.8 L880.9,225.1 L881.2,191.7 L881.5,212.4 L881.7,225.8 L882.0,214.0 L882.3,204.2 L882.5,193.2 L882.8,172.9 L883.1,217.6 L883.3,205.1 L883.6,226.7 L883.9,203.9 L884.1,216.0 L884.4,191.8 L884.7,203.8 L884.9,202.0 L885.2,204.5 L885.5,178.9 L885.7,191.2 L886.0,202.6 L886.3,231.8 L886.5,203.9 L886.8,182.6 L887.1,224.1 L887.3,204.8 L887.6,214.6 L887.8,194.0 L888.1,156.8 L888.4,189.8 L888.6,193.6 L888.9,203.7 L889.2,177.9 L889.4,191.9 L889.7,178.7 L890.0,205.0 L890.2,192.2 L890.5,227.3 L890.8,213.1 L891.0,217.7 L891.3,202.3 L891.6,204.1 L891.8,214.5 L892.1,192.1 L892.4,224.0 L892.6,203.6 L892.9,227.3 L893.2,235.4 L893.4,228.5 L893.7,189.9 L894.0,213.8 L894.2,202.1 L894.5,194.2 L894.8,202.3 L895.0,191.0 L895.3,204.0 L895.5,192.2 L895.8,217.2 L896.1,202.5 L896.3,167.6 L896.6,190.2 L896.9,190.2 L897.1,193.2 L897.4,192.8 L897.7,202.6 L897.9,203.0 L898.2,187.3 L898.5,216.4 L898.7,215.6 L899.0,199.0 L899.3,213.6 L899.5,214.5 L899.8,194.6 L900.1,203.7 L900.3,205.7 L900.6,217.8 L900.9,204.6 L901.1,212.7 L901.4,211.9 L901.7,190.9 L901.9,193.0 L902.2,203.7 L902.5,211.7 L902.7,215.7 L903.0,212.4 L903.2,213.4 L903.5,193.1 L903.8,202.8 L904.0,189.9 L904.3,200.9 L904.6,214.0 L904.8,191.3 L905.1,201.9 L905.4,235.1 L905.6,191.5 L905.9,192.2 L906.2,188.2 L906.4,180.2 L906.7,212.1 L907.0,189.8 L907.2,192.2 L907.5,187.7 L907.8,166.9 L908.0,258.0 L908.3,258.0 L908.6,200.3 L908.8,222.2 L909.1,203.9 L909.4,201.8 L909.6,201.8 L909.9,221.1 L910.2,178.3 L910.4,186.5 L910.7,165.9 L911.0,204.6 L911.2,214.9 L911.5,192.5 L911.7,223.9 L912.0,213.0 L912.3,222.8 L912.5,152.0 L912.8,152.0 L913.1,186.1 L913.3,211.0 L913.6,202.5 L913.9,199.2 L914.1,223.6 L914.4,220.5 L914.7,187.9 L914.9,209.9 L915.2,199.1 L915.5,201.2 L915.7,214.8 L916.0,194.8 L916.3,204.0 L916.5,201.0 L916.8,189.8 L917.1,189.3 L917.3,215.5 L917.6,202.6 L917.9,239.0 L918.1,237.5 L918.4,197.3 L918.7,205.4 L918.9,184.9 L919.2,194.7 L919.4,200.2 L919.7,193.1 L920.0,174.5 L920.2,211.1 L920.5,208.6 L920.8,199.5 L921.0,209.3 L921.3,223.6 L921.6,233.1 L921.8,191.1 L922.1,230.8 L922.4,189.9 L922.6,199.2 L922.9,211.2 L923.2,236.6 L923.4,223.0 L923.7,223.3 L924.0,237.6 L924.2,211.6 L924.5,202.2 L924.8,239.6 L925.0,213.2 L925.3,194.7 L925.6,190.4 L925.8,216.5 L926.1,239.5 L926.4,225.3 L926.6,218.6 L926.9,226.0 L927.1,197.5 L927.4,232.7 L927.7,205.7 L927.9,242.2 L928.2,207.6 L928.5,228.6 L928.7,218.8 L929.0,220.9 L929.3,233.0 L929.5,224.6 L929.8,244.6 L930.1,221.9 L930.3,190.4 L930.6,248.7 L930.9,247.1 L931.1,237.1 L931.4,247.5 L931.7,237.3 L931.9,210.8 L932.2,200.6 L932.5,217.9 L932.7,226.9 L933.0,238.0 L933.3,207.2 L933.5,222.4 L933.8,255.3 L934.1,220.1 L934.3,219.8 L934.6,224.0 L934.8,258.9 L935.1,244.9 L935.4,244.2 L935.6,257.2 L935.9,247.0 L936.2,257.7 L936.4,234.4 L936.7,246.2 L937.0,245.0 L937.2,247.9 L937.5,226.5 L937.8,235.3 L938.0,236.7 L938.3,229.4 L938.6,237.7 L938.8,263.7 L939.1,249.7 L939.4,236.9 L939.6,242.1 L939.9,266.1 L940.2,231.3 L940.4,242.8 L940.7,269.3 L941.0,266.3 L941.2,254.3 L941.5,256.9 L941.8,224.5 L942.0,235.1 L942.3,248.5 L942.5,250.0 L942.8,245.8 L943.1,213.2 L943.3,236.4 L943.6,250.1 L943.9,234.7 L944.1,251.9 L944.4,259.2 L944.7,251.7 L944.9,250.8 L945.2,262.6" fill="none" stroke="#b57de2" stroke-width="2.3" stroke-linejoin="miter"/></g>
<rect x="556.2" y="74.2" width="389.0" height="234.2" fill="none" stroke="#444" stroke-width="2.6"/>
<line x1="644.6" y1="308.4" x2="644.6" y2="300.4" stroke="#444" stroke-width="2.2"/>
<line x1="733.0" y1="308.4" x2="733.0" y2="293.4" stroke="#444" stroke-width="2.2"/>
<line x1="821.4" y1="308.4" x2="821.4" y2="300.4" stroke="#444" stroke-width="2.2"/>
<line x1="909.8" y1="308.4" x2="909.8" y2="293.4" stroke="#444" stroke-width="2.2"/>
<text transform="translate(525.62 345.40) scale(1.0000 1)" font-size="27.00" font-weight="normal" fill="#444">1200</text>
<text transform="translate(702.44 345.40) scale(1.0000 1)" font-size="27.00" font-weight="normal" fill="#444">1400</text>
<text transform="translate(879.26 345.40) scale(1.0000 1)" font-size="27.00" font-weight="normal" fill="#444">1600</text>
<text transform="translate(793.88 109.60) scale(1.0044 1)" font-size="28.00" font-weight="normal" fill="#444">3 (a.u.)</text>
<line x1="886.1" y1="79.5" x2="886.1" y2="119.0" stroke="#444" stroke-width="1.9"/>
<line x1="881.5" y1="80.0" x2="890.7" y2="80.0" stroke="#444" stroke-width="1.9"/>
<line x1="881.5" y1="118.5" x2="890.7" y2="118.5" stroke="#444" stroke-width="1.9"/>
<text transform="translate(630.90 86.25) rotate(90) scale(0.9444 1)" font-size="27.50" font-weight="normal" fill="#444">1293</text>
<text transform="translate(913.80 91.53) rotate(90) scale(0.9407 1)" font-size="26.50" font-weight="normal" fill="#444">1603</text>
<text transform="translate(442.70 428.71) rotate(90) scale(0.9499 1)" font-size="37.70" font-weight="normal" fill="#111">1017</text>
<text transform="translate(653.40 403.29) rotate(90) scale(0.9572 1)" font-size="37.70" font-weight="normal" fill="#111">1214</text>
<text transform="translate(731.50 390.28) rotate(90) scale(0.9617 1)" font-size="37.70" font-weight="normal" fill="#111">1293</text>
<text transform="translate(1055.30 293.68) rotate(90) scale(0.9252 1)" font-size="37.70" font-weight="normal" fill="#111">1603</text>
<rect x="1471.6" y="43.4" width="913.2000000000003" height="761.2" fill="none" stroke="#222" stroke-width="2.2"/>
<text transform="translate(1429.10 818.40) scale(1.0000 1)" font-size="50.00" font-weight="normal" fill="#222">0</text>
<line x1="1471.6" y1="734.3" x2="1479.1" y2="734.3" stroke="#222" stroke-width="2.2"/>
<line x1="1471.6" y1="665.2" x2="1486.6" y2="665.2" stroke="#222" stroke-width="2.2"/>
<text transform="translate(1401.35 680.20) scale(1.0000 1)" font-size="50.00" font-weight="normal" fill="#222">50</text>
<line x1="1471.6" y1="596.1" x2="1479.1" y2="596.1" stroke="#222" stroke-width="2.2"/>
<line x1="1471.6" y1="527.0" x2="1486.6" y2="527.0" stroke="#222" stroke-width="2.2"/>
<text transform="translate(1373.60 542.00) scale(1.0000 1)" font-size="50.00" font-weight="normal" fill="#222">100</text>
<line x1="1471.6" y1="457.9" x2="1479.1" y2="457.9" stroke="#222" stroke-width="2.2"/>
<line x1="1471.6" y1="388.8" x2="1486.6" y2="388.8" stroke="#222" stroke-width="2.2"/>
<text transform="translate(1373.60 403.80) scale(1.0000 1)" font-size="50.00" font-weight="normal" fill="#222">150</text>
<line x1="1471.6" y1="319.7" x2="1479.1" y2="319.7" stroke="#222" stroke-width="2.2"/>
<line x1="1471.6" y1="250.6" x2="1486.6" y2="250.6" stroke="#222" stroke-width="2.2"/>
<text transform="translate(1373.60 265.60) scale(1.0000 1)" font-size="50.00" font-weight="normal" fill="#222">200</text>
<line x1="1471.6" y1="181.5" x2="1479.1" y2="181.5" stroke="#222" stroke-width="2.2"/>
<line x1="1471.6" y1="112.4" x2="1486.6" y2="112.4" stroke="#222" stroke-width="2.2"/>
<text transform="translate(1373.60 127.40) scale(1.0000 1)" font-size="50.00" font-weight="normal" fill="#222">250</text>
<line x1="1546.0" y1="804.6" x2="1546.0" y2="790.1" stroke="#222" stroke-width="2.2"/>
<text transform="translate(1505.29 868.10) scale(1.0000 1)" font-size="49.50" font-weight="normal" fill="#222">10</text>
<text transform="translate(1559.73 848.20) scale(1.0234 1)" font-size="32.00" font-weight="normal" fill="#222">-9</text>
<line x1="1733.9" y1="804.6" x2="1733.9" y2="790.1" stroke="#222" stroke-width="2.2"/>
<text transform="translate(1693.19 868.10) scale(1.0000 1)" font-size="49.50" font-weight="normal" fill="#222">10</text>
<text transform="translate(1747.64 848.20) scale(1.0171 1)" font-size="32.00" font-weight="normal" fill="#222">-8</text>
<line x1="1921.3" y1="804.6" x2="1921.3" y2="790.1" stroke="#222" stroke-width="2.2"/>
<text transform="translate(1880.59 868.10) scale(1.0000 1)" font-size="49.50" font-weight="normal" fill="#222">10</text>
<text transform="translate(1935.02 848.20) scale(1.0299 1)" font-size="32.00" font-weight="normal" fill="#222">-7</text>
<line x1="2108.4" y1="804.6" x2="2108.4" y2="790.1" stroke="#222" stroke-width="2.2"/>
<text transform="translate(2067.69 868.10) scale(1.0000 1)" font-size="49.50" font-weight="normal" fill="#222">10</text>
<text transform="translate(2122.14 848.20) scale(1.0171 1)" font-size="32.00" font-weight="normal" fill="#222">-6</text>
<line x1="2295.6" y1="804.6" x2="2295.6" y2="790.1" stroke="#222" stroke-width="2.2"/>
<text transform="translate(2254.89 868.10) scale(1.0000 1)" font-size="49.50" font-weight="normal" fill="#222">10</text>
<text transform="translate(2309.34 848.20) scale(1.0171 1)" font-size="32.00" font-weight="normal" fill="#222">-5</text>
<line x1="1546.4" y1="773.3" x2="2295.0" y2="116.5" stroke="#111" stroke-width="2.6"/>
<rect x="1539.0" y="782.1" width="16" height="16" fill="#000"/>
<rect x="1726.9" y="574.8" width="16" height="16" fill="#000"/>
<rect x="1914.3" y="436.6" width="16" height="16" fill="#000"/>
<rect x="2101.4" y="270.5" width="16" height="16" fill="#000"/>
<rect x="2288.6" y="108.3" width="16" height="16" fill="#000"/>
<text transform="translate(2125.44 497.70) scale(1.0000 1)" font-size="42.00" font-weight="normal" fill="#333">R</text>
<text transform="translate(2155.05 479.80) scale(1.0000 1)" font-size="25.00" font-weight="normal" fill="#333">2</text>
<text transform="translate(2174.31 497.70) scale(1.0000 1)" font-size="42.00" font-weight="normal" fill="#333">=0.996</text>
<text transform="translate(1720.86 937.80) scale(1.0098 1)" font-size="48.00" font-weight="bold" fill="#161616">Concentration (M)</text>
<text transform="translate(1355.60 686.38) rotate(-90) scale(1.0618 1)" font-size="47.50" font-weight="bold" fill="#161616">Raman Intensity (a.u.)</text>
<text transform="translate(1270.67 82.16) scale(1.0582 1)" font-size="49.73" font-weight="bold" fill="#111">(b)</text>
<g fill="none" stroke-linecap="butt">
<line x1="628.9" y1="1328.6" x2="1141.6" y2="1328.6" stroke="#d2d2d2" stroke-width="1.6"/>
<line x1="628.9" y1="1289.3" x2="1141.6" y2="1289.3" stroke="#d2d2d2" stroke-width="1.6"/>
<line x1="628.9" y1="1250.0" x2="1141.6" y2="1250.0" stroke="#d2d2d2" stroke-width="1.6"/>
<line x1="628.9" y1="1210.7" x2="1141.6" y2="1210.7" stroke="#d2d2d2" stroke-width="1.6"/>
<line x1="628.9" y1="1171.4" x2="1141.6" y2="1171.4" stroke="#d2d2d2" stroke-width="1.6"/>
<line x1="628.9" y1="1132.1" x2="1141.6" y2="1132.1" stroke="#d2d2d2" stroke-width="1.6"/>
<line x1="628.9" y1="1092.9" x2="1141.6" y2="1092.9" stroke="#d2d2d2" stroke-width="1.6"/>
<line x1="628.9" y1="1073.2" x2="1141.6" y2="1073.2" stroke="#d2d2d2" stroke-width="1.6"/>
<line x1="648.1" y1="1328.6" x2="648.1" y2="1072.2" stroke="#d2d2d2" stroke-width="1.6"/>
<line x1="739.3" y1="1328.6" x2="739.3" y2="1072.2" stroke="#d2d2d2" stroke-width="1.6"/>
<line x1="830.4" y1="1328.6" x2="830.4" y2="1072.2" stroke="#d2d2d2" stroke-width="1.6"/>
<line x1="921.6" y1="1328.6" x2="921.6" y2="1072.2" stroke="#d2d2d2" stroke-width="1.6"/>
<line x1="1012.7" y1="1328.6" x2="1012.7" y2="1072.2" stroke="#d2d2d2" stroke-width="1.6"/>
<line x1="1103.9" y1="1328.6" x2="1103.9" y2="1072.2" stroke="#d2d2d2" stroke-width="1.6"/>
<line x1="628.9" y1="1328.6" x2="628.9" y2="1072.2" stroke="#d2d2d2" stroke-width="1.6"/>
<line x1="1141.6" y1="1328.6" x2="1141.6" y2="1072.2" stroke="#d2d2d2" stroke-width="1.6"/>
<line x1="166.2" y1="1864.8" x2="628.9" y2="1328.6" stroke="#d2d2d2" stroke-width="1.6"/>
<line x1="166.2" y1="1807.6" x2="628.9" y2="1289.3" stroke="#d2d2d2" stroke-width="1.6"/>
<line x1="166.2" y1="1750.5" x2="628.9" y2="1250.0" stroke="#d2d2d2" stroke-width="1.6"/>
<line x1="166.2" y1="1693.3" x2="628.9" y2="1210.7" stroke="#d2d2d2" stroke-width="1.6"/>
<line x1="166.2" y1="1636.2" x2="628.9" y2="1171.4" stroke="#d2d2d2" stroke-width="1.6"/>
<line x1="166.2" y1="1579.0" x2="628.9" y2="1132.1" stroke="#d2d2d2" stroke-width="1.6"/>
<line x1="166.2" y1="1521.9" x2="628.9" y2="1092.9" stroke="#d2d2d2" stroke-width="1.6"/>
<line x1="166.2" y1="1493.3" x2="628.9" y2="1073.2" stroke="#d2d2d2" stroke-width="1.6"/>
<line x1="199.1" y1="1826.7" x2="199.1" y2="1462.0" stroke="#e2e2e2" stroke-width="2.6"/>
<line x1="260.7" y1="1755.3" x2="260.7" y2="1406.1" stroke="#dedede" stroke-width="1.6"/>
<line x1="317.3" y1="1689.7" x2="317.3" y2="1354.8" stroke="#dedede" stroke-width="1.6"/>
<line x1="369.4" y1="1629.3" x2="369.4" y2="1307.5" stroke="#dedede" stroke-width="1.6"/>
<line x1="417.6" y1="1573.4" x2="417.6" y2="1263.8" stroke="#dedede" stroke-width="1.6"/>
<line x1="462.3" y1="1521.6" x2="462.3" y2="1223.2" stroke="#dedede" stroke-width="1.6"/>
<line x1="503.9" y1="1473.4" x2="503.9" y2="1185.5" stroke="#dedede" stroke-width="1.6"/>
<line x1="542.6" y1="1428.5" x2="542.6" y2="1150.4" stroke="#dedede" stroke-width="1.6"/>
<line x1="578.8" y1="1386.6" x2="578.8" y2="1117.6" stroke="#dedede" stroke-width="1.6"/>
<line x1="612.7" y1="1347.3" x2="612.7" y2="1086.8" stroke="#dedede" stroke-width="1.6"/>
<line x1="166.2" y1="1864.8" x2="199.1" y2="1826.7" stroke="#d2d2d2" stroke-width="1.6"/>
<line x1="194.2" y1="1864.8" x2="226.5" y2="1826.7" stroke="#d2d2d2" stroke-width="1.6"/>
<line x1="326.8" y1="1864.8" x2="356.1" y2="1826.7" stroke="#d2d2d2" stroke-width="1.6"/>
<line x1="459.4" y1="1864.8" x2="485.8" y2="1826.7" stroke="#d2d2d2" stroke-width="1.6"/>
<line x1="592.0" y1="1864.8" x2="615.4" y2="1826.7" stroke="#d2d2d2" stroke-width="1.6"/>
<line x1="724.6" y1="1864.8" x2="745.1" y2="1826.7" stroke="#d2d2d2" stroke-width="1.6"/>
<line x1="857.2" y1="1864.8" x2="874.7" y2="1826.7" stroke="#d2d2d2" stroke-width="1.6"/>
<line x1="912.1" y1="1864.8" x2="928.4" y2="1826.7" stroke="#d2d2d2" stroke-width="1.6"/>
<line x1="199.1" y1="1826.7" x2="928.4" y2="1826.7" stroke="#e2e2e2" stroke-width="2.6"/>
<line x1="928.4" y1="1826.7" x2="928.4" y2="1755.3" stroke="#dcdcdc" stroke-width="1.3"/>
<line x1="928.4" y1="1755.3" x2="959.0" y2="1755.3" stroke="#dcdcdc" stroke-width="1.3"/>
<line x1="959.0" y1="1755.3" x2="959.0" y2="1689.7" stroke="#dcdcdc" stroke-width="1.3"/>
<line x1="959.0" y1="1689.7" x2="987.0" y2="1689.7" stroke="#dcdcdc" stroke-width="1.3"/>
<line x1="987.0" y1="1689.7" x2="987.0" y2="1629.3" stroke="#dcdcdc" stroke-width="1.3"/>
<line x1="987.0" y1="1629.3" x2="1012.9" y2="1629.3" stroke="#dcdcdc" stroke-width="1.3"/>
<line x1="1012.9" y1="1629.3" x2="1012.9" y2="1573.4" stroke="#dcdcdc" stroke-width="1.3"/>
<line x1="1012.9" y1="1573.4" x2="1036.8" y2="1573.4" stroke="#dcdcdc" stroke-width="1.3"/>
<line x1="1036.8" y1="1573.4" x2="1036.8" y2="1521.6" stroke="#dcdcdc" stroke-width="1.3"/>
<line x1="1036.8" y1="1521.6" x2="1059.0" y2="1521.6" stroke="#dcdcdc" stroke-width="1.3"/>
<line x1="1059.0" y1="1521.6" x2="1059.0" y2="1473.4" stroke="#dcdcdc" stroke-width="1.3"/>
<line x1="1059.0" y1="1473.4" x2="1079.6" y2="1473.4" stroke="#dcdcdc" stroke-width="1.3"/>
<line x1="1079.6" y1="1473.4" x2="1079.6" y2="1428.5" stroke="#dcdcdc" stroke-width="1.3"/>
<line x1="1079.6" y1="1428.5" x2="1098.8" y2="1428.5" stroke="#dcdcdc" stroke-width="1.3"/>
<line x1="1098.8" y1="1428.5" x2="1098.8" y2="1386.6" stroke="#dcdcdc" stroke-width="1.3"/>
<line x1="1098.8" y1="1386.6" x2="1116.8" y2="1386.6" stroke="#dcdcdc" stroke-width="1.3"/>
<line x1="1116.8" y1="1386.6" x2="1116.8" y2="1347.3" stroke="#dcdcdc" stroke-width="1.3"/>
<line x1="1116.8" y1="1347.3" x2="1133.6" y2="1347.3" stroke="#dcdcdc" stroke-width="1.3"/>
<line x1="1133.6" y1="1347.3" x2="1133.6" y2="1328.6" stroke="#dcdcdc" stroke-width="1.3"/>
<line x1="1133.6" y1="1328.6" x2="1141.6" y2="1328.6" stroke="#dcdcdc" stroke-width="1.3"/>
</g>
<path d="M612.7,1227.7 L614.7,1229.7 L616.7,1227.1 L618.7,1228.0 L620.7,1227.2 L622.7,1227.3 L624.7,1225.3 L626.7,1228.0 L628.7,1226.7 L630.7,1225.5 L632.7,1227.9 L634.7,1226.8 L636.7,1226.3 L638.7,1226.5 L640.7,1228.7 L642.7,1228.4 L644.7,1227.7 L646.7,1228.5 L648.7,1226.2 L650.7,1228.8 L652.7,1228.0 L654.7,1227.6 L656.7,1227.6 L658.7,1228.9 L660.7,1225.5 L662.7,1229.4 L664.7,1229.2 L666.7,1227.4 L668.7,1228.9 L670.7,1226.5 L672.7,1227.0 L674.7,1226.9 L676.7,1228.7 L678.7,1227.0 L680.7,1227.0 L682.7,1226.3 L684.7,1227.5 L686.7,1224.3 L688.7,1224.8 L690.7,1225.8 L692.7,1225.9 L694.7,1224.8 L696.7,1225.8 L698.7,1227.8 L700.7,1226.9 L702.7,1228.7 L704.7,1229.7 L706.7,1226.9 L708.7,1225.4 L710.7,1223.3 L712.7,1225.9 L714.7,1227.1 L716.7,1227.9 L718.7,1226.3 L720.7,1228.9 L722.7,1228.1 L724.7,1225.2 L726.7,1222.7 L728.7,1222.2 L730.7,1222.8 L732.7,1221.2 L734.7,1221.2 L736.7,1221.8 L738.7,1221.1 L740.7,1221.0 L742.7,1220.8 L744.7,1223.1 L746.7,1222.1 L748.7,1224.6 L750.7,1225.3 L752.7,1226.6 L754.7,1226.2 L756.7,1226.6 L758.7,1226.7 L760.7,1226.8 L762.7,1227.6 L764.7,1228.0 L766.7,1226.7 L768.7,1227.5 L770.7,1224.9 L772.7,1227.0 L774.7,1226.8 L776.7,1226.5 L778.7,1225.6 L780.7,1226.6 L782.7,1225.4 L784.7,1224.6 L786.7,1226.2 L788.7,1225.9 L790.7,1223.7 L792.7,1224.5 L794.7,1223.6 L796.7,1225.7 L798.7,1224.7 L800.7,1224.5 L802.7,1222.4 L804.7,1224.0 L806.7,1222.2 L808.7,1222.2 L810.7,1221.6 L812.7,1220.8 L814.7,1219.0 L816.7,1217.7 L818.7,1213.4 L820.7,1210.6 L822.7,1202.9 L824.7,1203.5 L826.7,1210.5 L828.7,1212.8 L830.7,1216.6 L832.7,1217.5 L834.7,1216.9 L836.7,1215.5 L838.7,1218.8 L840.7,1220.7 L842.7,1220.1 L844.7,1217.1 L846.7,1216.5 L848.7,1218.7 L850.7,1215.6 L852.7,1216.3 L854.7,1217.5 L856.7,1220.1 L858.7,1220.1 L860.7,1220.7 L862.7,1220.3 L864.7,1219.9 L866.7,1218.9 L868.7,1216.1 L870.7,1217.2 L872.7,1216.0 L874.7,1214.9 L876.7,1213.4 L878.7,1211.6 L880.7,1212.5 L882.7,1212.7 L884.7,1217.3 L886.7,1217.0 L888.7,1216.3 L890.7,1215.1 L892.7,1212.8 L894.7,1210.2 L896.7,1207.2 L898.7,1200.9 L900.7,1205.1 L902.7,1207.2 L904.7,1207.7 L906.7,1207.6 L908.7,1208.7 L910.7,1207.9 L912.7,1203.6 L914.7,1198.2 L916.7,1194.8 L918.7,1196.5 L920.7,1194.9 L922.7,1197.4 L924.7,1199.0 L926.7,1201.7 L928.7,1200.8 L930.7,1201.7 L932.7,1200.6 L934.7,1200.9 L936.7,1199.2 L938.7,1198.2 L940.7,1196.0 L942.7,1194.6 L944.7,1194.5 L946.7,1185.4 L948.7,1181.3 L950.7,1180.3 L952.7,1180.2 L954.7,1185.3 L956.7,1192.1 L958.7,1199.0 L960.7,1200.6 L962.7,1202.7 L964.7,1202.8 L966.7,1203.4 L968.7,1200.6 L970.7,1201.4 L972.7,1197.2 L974.7,1194.8 L976.7,1191.3 L978.7,1189.0 L980.7,1189.6 L982.7,1191.4 L984.7,1198.7 L986.7,1196.8 L988.7,1196.3 L990.7,1197.6 L992.7,1196.8 L994.7,1199.2 L996.7,1196.7 L998.7,1197.2 L1000.7,1196.4 L1002.7,1196.6 L1004.7,1200.8 L1006.7,1202.0 L1008.7,1202.7 L1010.7,1205.1 L1012.7,1206.5 L1014.7,1206.6 L1016.7,1206.2 L1018.7,1207.8 L1020.7,1208.2 L1022.7,1206.3 L1024.7,1208.4 L1026.7,1207.6 L1028.7,1208.0 L1030.7,1206.2 L1032.7,1205.6 L1034.7,1205.1 L1036.7,1204.2 L1038.7,1202.9 L1040.7,1202.7 L1042.7,1200.3 L1044.7,1198.9 L1046.7,1199.8 L1048.7,1198.0 L1050.7,1196.4 L1052.7,1195.2 L1054.7,1196.4 L1056.7,1196.2 L1058.7,1196.4 L1060.7,1195.1 L1062.7,1196.0 L1064.7,1196.0 L1066.7,1195.7 L1068.7,1195.2 L1070.7,1195.8 L1072.7,1195.7 L1074.7,1197.4 L1076.7,1196.5 L1078.7,1195.2 L1080.7,1192.5 L1082.7,1191.3 L1084.7,1189.1 L1086.7,1182.2 L1088.7,1174.9 L1090.7,1163.6 L1092.7,1151.7 L1094.7,1136.1 L1096.7,1124.7 L1098.7,1134.0 L1100.7,1149.8 L1102.7,1163.7 L1104.7,1176.5 L1106.7,1189.4 L1108.7,1199.4 L1110.7,1207.1 L1112.7,1213.2 L1114.7,1214.6 L1116.7,1220.8 L1118.7,1222.5 L1120.7,1224.4 L1122.7,1226.3 L1124.7,1229.0 L1126.7,1232.1 L1128.7,1233.2 L1130.7,1233.1 L1132.7,1234.9 L1133.6,1237.4 L1133.6,1347.3 L612.7,1347.3 Z" fill="#fff" stroke="none"/>
<path d="M612.7,1227.7 L614.7,1229.7 L616.7,1227.1 L618.7,1228.0 L620.7,1227.2 L622.7,1227.3 L624.7,1225.3 L626.7,1228.0 L628.7,1226.7 L630.7,1225.5 L632.7,1227.9 L634.7,1226.8 L636.7,1226.3 L638.7,1226.5 L640.7,1228.7 L642.7,1228.4 L644.7,1227.7 L646.7,1228.5 L648.7,1226.2 L650.7,1228.8 L652.7,1228.0 L654.7,1227.6 L656.7,1227.6 L658.7,1228.9 L660.7,1225.5 L662.7,1229.4 L664.7,1229.2 L666.7,1227.4 L668.7,1228.9 L670.7,1226.5 L672.7,1227.0 L674.7,1226.9 L676.7,1228.7 L678.7,1227.0 L680.7,1227.0 L682.7,1226.3 L684.7,1227.5 L686.7,1224.3 L688.7,1224.8 L690.7,1225.8 L692.7,1225.9 L694.7,1224.8 L696.7,1225.8 L698.7,1227.8 L700.7,1226.9 L702.7,1228.7 L704.7,1229.7 L706.7,1226.9 L708.7,1225.4 L710.7,1223.3 L712.7,1225.9 L714.7,1227.1 L716.7,1227.9 L718.7,1226.3 L720.7,1228.9 L722.7,1228.1 L724.7,1225.2 L726.7,1222.7 L728.7,1222.2 L730.7,1222.8 L732.7,1221.2 L734.7,1221.2 L736.7,1221.8 L738.7,1221.1 L740.7,1221.0 L742.7,1220.8 L744.7,1223.1 L746.7,1222.1 L748.7,1224.6 L750.7,1225.3 L752.7,1226.6 L754.7,1226.2 L756.7,1226.6 L758.7,1226.7 L760.7,1226.8 L762.7,1227.6 L764.7,1228.0 L766.7,1226.7 L768.7,1227.5 L770.7,1224.9 L772.7,1227.0 L774.7,1226.8 L776.7,1226.5 L778.7,1225.6 L780.7,1226.6 L782.7,1225.4 L784.7,1224.6 L786.7,1226.2 L788.7,1225.9 L790.7,1223.7 L792.7,1224.5 L794.7,1223.6 L796.7,1225.7 L798.7,1224.7 L800.7,1224.5 L802.7,1222.4 L804.7,1224.0 L806.7,1222.2 L808.7,1222.2 L810.7,1221.6 L812.7,1220.8 L814.7,1219.0 L816.7,1217.7 L818.7,1213.4 L820.7,1210.6 L822.7,1202.9 L824.7,1203.5 L826.7,1210.5 L828.7,1212.8 L830.7,1216.6 L832.7,1217.5 L834.7,1216.9 L836.7,1215.5 L838.7,1218.8 L840.7,1220.7 L842.7,1220.1 L844.7,1217.1 L846.7,1216.5 L848.7,1218.7 L850.7,1215.6 L852.7,1216.3 L854.7,1217.5 L856.7,1220.1 L858.7,1220.1 L860.7,1220.7 L862.7,1220.3 L864.7,1219.9 L866.7,1218.9 L868.7,1216.1 L870.7,1217.2 L872.7,1216.0 L874.7,1214.9 L876.7,1213.4 L878.7,1211.6 L880.7,1212.5 L882.7,1212.7 L884.7,1217.3 L886.7,1217.0 L888.7,1216.3 L890.7,1215.1 L892.7,1212.8 L894.7,1210.2 L896.7,1207.2 L898.7,1200.9 L900.7,1205.1 L902.7,1207.2 L904.7,1207.7 L906.7,1207.6 L908.7,1208.7 L910.7,1207.9 L912.7,1203.6 L914.7,1198.2 L916.7,1194.8 L918.7,1196.5 L920.7,1194.9 L922.7,1197.4 L924.7,1199.0 L926.7,1201.7 L928.7,1200.8 L930.7,1201.7 L932.7,1200.6 L934.7,1200.9 L936.7,1199.2 L938.7,1198.2 L940.7,1196.0 L942.7,1194.6 L944.7,1194.5 L946.7,1185.4 L948.7,1181.3 L950.7,1180.3 L952.7,1180.2 L954.7,1185.3 L956.7,1192.1 L958.7,1199.0 L960.7,1200.6 L962.7,1202.7 L964.7,1202.8 L966.7,1203.4 L968.7,1200.6 L970.7,1201.4 L972.7,1197.2 L974.7,1194.8 L976.7,1191.3 L978.7,1189.0 L980.7,1189.6 L982.7,1191.4 L984.7,1198.7 L986.7,1196.8 L988.7,1196.3 L990.7,1197.6 L992.7,1196.8 L994.7,1199.2 L996.7,1196.7 L998.7,1197.2 L1000.7,1196.4 L1002.7,1196.6 L1004.7,1200.8 L1006.7,1202.0 L1008.7,1202.7 L1010.7,1205.1 L1012.7,1206.5 L1014.7,1206.6 L1016.7,1206.2 L1018.7,1207.8 L1020.7,1208.2 L1022.7,1206.3 L1024.7,1208.4 L1026.7,1207.6 L1028.7,1208.0 L1030.7,1206.2 L1032.7,1205.6 L1034.7,1205.1 L1036.7,1204.2 L1038.7,1202.9 L1040.7,1202.7 L1042.7,1200.3 L1044.7,1198.9 L1046.7,1199.8 L1048.7,1198.0 L1050.7,1196.4 L1052.7,1195.2 L1054.7,1196.4 L1056.7,1196.2 L1058.7,1196.4 L1060.7,1195.1 L1062.7,1196.0 L1064.7,1196.0 L1066.7,1195.7 L1068.7,1195.2 L1070.7,1195.8 L1072.7,1195.7 L1074.7,1197.4 L1076.7,1196.5 L1078.7,1195.2 L1080.7,1192.5 L1082.7,1191.3 L1084.7,1189.1 L1086.7,1182.2 L1088.7,1174.9 L1090.7,1163.6 L1092.7,1151.7 L1094.7,1136.1 L1096.7,1124.7 L1098.7,1134.0 L1100.7,1149.8 L1102.7,1163.7 L1104.7,1176.5 L1106.7,1189.4 L1108.7,1199.4 L1110.7,1207.1 L1112.7,1213.2 L1114.7,1214.6 L1116.7,1220.8 L1118.7,1222.5 L1120.7,1224.4 L1122.7,1226.3 L1124.7,1229.0 L1126.7,1232.1 L1128.7,1233.2 L1130.7,1233.1 L1132.7,1234.9 L1133.6,1237.4" fill="none" stroke="#111" stroke-width="3.0" stroke-linejoin="round"/>
<path d="M578.8,1258.1 L580.8,1258.3 L582.8,1258.5 L584.8,1254.3 L586.8,1256.9 L588.8,1256.7 L590.8,1257.0 L592.8,1257.3 L594.8,1257.3 L596.8,1255.9 L598.8,1256.9 L600.8,1256.6 L602.8,1256.1 L604.8,1258.2 L606.8,1258.7 L608.8,1256.9 L610.8,1258.5 L612.8,1258.7 L614.8,1260.3 L616.8,1258.3 L618.8,1258.3 L620.8,1260.0 L622.8,1258.0 L624.8,1259.2 L626.8,1257.9 L628.8,1256.5 L630.8,1258.8 L632.8,1256.3 L634.8,1256.6 L636.8,1255.7 L638.8,1257.7 L640.8,1256.3 L642.8,1254.8 L644.8,1256.0 L646.8,1257.6 L648.8,1257.1 L650.8,1257.8 L652.8,1257.1 L654.8,1257.2 L656.8,1258.1 L658.8,1258.0 L660.8,1255.4 L662.8,1257.5 L664.8,1254.5 L666.8,1255.2 L668.8,1255.5 L670.8,1256.8 L672.8,1260.9 L674.8,1254.7 L676.8,1255.5 L678.8,1255.3 L680.8,1255.5 L682.8,1255.4 L684.8,1258.4 L686.8,1259.1 L688.8,1259.2 L690.8,1256.9 L692.8,1257.6 L694.8,1260.1 L696.8,1256.0 L698.8,1256.8 L700.8,1257.9 L702.8,1256.5 L704.8,1257.0 L706.8,1255.9 L708.8,1255.0 L710.8,1253.4 L712.8,1253.5 L714.8,1253.6 L716.8,1253.9 L718.8,1252.7 L720.8,1254.5 L722.8,1255.2 L724.8,1258.3 L726.8,1258.0 L728.8,1257.4 L730.8,1258.5 L732.8,1259.8 L734.8,1259.9 L736.8,1259.1 L738.8,1255.6 L740.8,1259.1 L742.8,1259.0 L744.8,1259.8 L746.8,1258.7 L748.8,1258.0 L750.8,1259.4 L752.8,1258.2 L754.8,1259.4 L756.8,1259.8 L758.8,1260.3 L760.8,1260.0 L762.8,1260.8 L764.8,1258.8 L766.8,1258.8 L768.8,1256.8 L770.8,1258.3 L772.8,1258.9 L774.8,1260.1 L776.8,1258.6 L778.8,1259.9 L780.8,1257.2 L782.8,1256.4 L784.8,1257.8 L786.8,1254.8 L788.8,1251.9 L790.8,1249.9 L792.8,1240.7 L794.8,1235.9 L796.8,1232.9 L798.8,1233.1 L800.8,1238.4 L802.8,1244.0 L804.8,1246.5 L806.8,1251.6 L808.8,1252.9 L810.8,1255.3 L812.8,1256.8 L814.8,1256.3 L816.8,1254.8 L818.8,1253.3 L820.8,1251.3 L822.8,1249.0 L824.8,1249.7 L826.8,1251.2 L828.8,1255.6 L830.8,1254.2 L832.8,1255.4 L834.8,1254.6 L836.8,1254.4 L838.8,1254.8 L840.8,1254.9 L842.8,1253.4 L844.8,1252.8 L846.8,1249.9 L848.8,1246.7 L850.8,1246.3 L852.8,1245.9 L854.8,1243.9 L856.8,1244.5 L858.8,1247.4 L860.8,1250.3 L862.8,1250.2 L864.8,1250.0 L866.8,1248.9 L868.8,1247.8 L870.8,1247.5 L872.8,1245.5 L874.8,1244.6 L876.8,1241.9 L878.8,1240.3 L880.8,1237.2 L882.8,1238.7 L884.8,1238.3 L886.8,1238.4 L888.8,1239.1 L890.8,1236.2 L892.8,1229.9 L894.8,1225.2 L896.8,1225.8 L898.8,1226.4 L900.8,1226.0 L902.8,1227.8 L904.8,1230.7 L906.8,1234.3 L908.8,1238.2 L910.8,1238.1 L912.8,1237.7 L914.8,1234.8 L916.8,1232.3 L918.8,1229.6 L920.8,1224.9 L922.8,1219.5 L924.8,1210.4 L926.8,1207.8 L928.8,1207.6 L930.8,1216.2 L932.8,1224.6 L934.8,1228.5 L936.8,1233.5 L938.8,1234.4 L940.8,1232.9 L942.8,1229.4 L944.8,1228.6 L946.8,1228.3 L948.8,1224.7 L950.8,1225.2 L952.8,1226.4 L954.8,1227.2 L956.8,1229.8 L958.8,1230.3 L960.8,1231.2 L962.8,1234.1 L964.8,1232.5 L966.8,1232.2 L968.8,1233.9 L970.8,1234.6 L972.8,1234.6 L974.8,1235.8 L976.8,1237.2 L978.8,1239.6 L980.8,1240.1 L982.8,1241.3 L984.8,1241.8 L986.8,1242.5 L988.8,1243.9 L990.8,1244.4 L992.8,1244.6 L994.8,1245.4 L996.8,1245.1 L998.8,1242.0 L1000.8,1244.0 L1002.8,1241.7 L1004.8,1241.5 L1006.8,1243.0 L1008.8,1244.0 L1010.8,1244.9 L1012.8,1245.2 L1014.8,1245.0 L1016.8,1242.9 L1018.8,1241.2 L1020.8,1240.5 L1022.8,1238.7 L1024.8,1238.9 L1026.8,1236.4 L1028.8,1238.1 L1030.8,1236.7 L1032.8,1235.0 L1034.8,1236.5 L1036.8,1235.2 L1038.8,1236.8 L1040.8,1235.5 L1042.8,1235.8 L1044.8,1235.4 L1046.8,1235.2 L1048.8,1234.4 L1050.8,1234.2 L1052.8,1236.0 L1054.8,1235.7 L1056.8,1231.7 L1058.8,1230.7 L1060.8,1227.1 L1062.8,1225.3 L1064.8,1221.1 L1066.8,1217.7 L1068.8,1216.1 L1070.8,1216.3 L1072.8,1210.2 L1074.8,1195.5 L1076.8,1180.6 L1078.8,1164.5 L1080.8,1172.5 L1082.8,1189.2 L1084.8,1210.3 L1086.8,1224.6 L1088.8,1234.5 L1090.8,1241.9 L1092.8,1247.7 L1094.8,1252.4 L1096.8,1254.4 L1098.8,1258.5 L1100.8,1262.5 L1102.8,1264.3 L1104.8,1264.7 L1106.8,1267.1 L1108.8,1268.0 L1110.8,1267.7 L1112.8,1270.3 L1114.8,1270.8 L1116.8,1272.7 L1116.8,1386.6 L578.8,1386.6 Z" fill="#fff" stroke="none"/>
<path d="M578.8,1258.1 L580.8,1258.3 L582.8,1258.5 L584.8,1254.3 L586.8,1256.9 L588.8,1256.7 L590.8,1257.0 L592.8,1257.3 L594.8,1257.3 L596.8,1255.9 L598.8,1256.9 L600.8,1256.6 L602.8,1256.1 L604.8,1258.2 L606.8,1258.7 L608.8,1256.9 L610.8,1258.5 L612.8,1258.7 L614.8,1260.3 L616.8,1258.3 L618.8,1258.3 L620.8,1260.0 L622.8,1258.0 L624.8,1259.2 L626.8,1257.9 L628.8,1256.5 L630.8,1258.8 L632.8,1256.3 L634.8,1256.6 L636.8,1255.7 L638.8,1257.7 L640.8,1256.3 L642.8,1254.8 L644.8,1256.0 L646.8,1257.6 L648.8,1257.1 L650.8,1257.8 L652.8,1257.1 L654.8,1257.2 L656.8,1258.1 L658.8,1258.0 L660.8,1255.4 L662.8,1257.5 L664.8,1254.5 L666.8,1255.2 L668.8,1255.5 L670.8,1256.8 L672.8,1260.9 L674.8,1254.7 L676.8,1255.5 L678.8,1255.3 L680.8,1255.5 L682.8,1255.4 L684.8,1258.4 L686.8,1259.1 L688.8,1259.2 L690.8,1256.9 L692.8,1257.6 L694.8,1260.1 L696.8,1256.0 L698.8,1256.8 L700.8,1257.9 L702.8,1256.5 L704.8,1257.0 L706.8,1255.9 L708.8,1255.0 L710.8,1253.4 L712.8,1253.5 L714.8,1253.6 L716.8,1253.9 L718.8,1252.7 L720.8,1254.5 L722.8,1255.2 L724.8,1258.3 L726.8,1258.0 L728.8,1257.4 L730.8,1258.5 L732.8,1259.8 L734.8,1259.9 L736.8,1259.1 L738.8,1255.6 L740.8,1259.1 L742.8,1259.0 L744.8,1259.8 L746.8,1258.7 L748.8,1258.0 L750.8,1259.4 L752.8,1258.2 L754.8,1259.4 L756.8,1259.8 L758.8,1260.3 L760.8,1260.0 L762.8,1260.8 L764.8,1258.8 L766.8,1258.8 L768.8,1256.8 L770.8,1258.3 L772.8,1258.9 L774.8,1260.1 L776.8,1258.6 L778.8,1259.9 L780.8,1257.2 L782.8,1256.4 L784.8,1257.8 L786.8,1254.8 L788.8,1251.9 L790.8,1249.9 L792.8,1240.7 L794.8,1235.9 L796.8,1232.9 L798.8,1233.1 L800.8,1238.4 L802.8,1244.0 L804.8,1246.5 L806.8,1251.6 L808.8,1252.9 L810.8,1255.3 L812.8,1256.8 L814.8,1256.3 L816.8,1254.8 L818.8,1253.3 L820.8,1251.3 L822.8,1249.0 L824.8,1249.7 L826.8,1251.2 L828.8,1255.6 L830.8,1254.2 L832.8,1255.4 L834.8,1254.6 L836.8,1254.4 L838.8,1254.8 L840.8,1254.9 L842.8,1253.4 L844.8,1252.8 L846.8,1249.9 L848.8,1246.7 L850.8,1246.3 L852.8,1245.9 L854.8,1243.9 L856.8,1244.5 L858.8,1247.4 L860.8,1250.3 L862.8,1250.2 L864.8,1250.0 L866.8,1248.9 L868.8,1247.8 L870.8,1247.5 L872.8,1245.5 L874.8,1244.6 L876.8,1241.9 L878.8,1240.3 L880.8,1237.2 L882.8,1238.7 L884.8,1238.3 L886.8,1238.4 L888.8,1239.1 L890.8,1236.2 L892.8,1229.9 L894.8,1225.2 L896.8,1225.8 L898.8,1226.4 L900.8,1226.0 L902.8,1227.8 L904.8,1230.7 L906.8,1234.3 L908.8,1238.2 L910.8,1238.1 L912.8,1237.7 L914.8,1234.8 L916.8,1232.3 L918.8,1229.6 L920.8,1224.9 L922.8,1219.5 L924.8,1210.4 L926.8,1207.8 L928.8,1207.6 L930.8,1216.2 L932.8,1224.6 L934.8,1228.5 L936.8,1233.5 L938.8,1234.4 L940.8,1232.9 L942.8,1229.4 L944.8,1228.6 L946.8,1228.3 L948.8,1224.7 L950.8,1225.2 L952.8,1226.4 L954.8,1227.2 L956.8,1229.8 L958.8,1230.3 L960.8,1231.2 L962.8,1234.1 L964.8,1232.5 L966.8,1232.2 L968.8,1233.9 L970.8,1234.6 L972.8,1234.6 L974.8,1235.8 L976.8,1237.2 L978.8,1239.6 L980.8,1240.1 L982.8,1241.3 L984.8,1241.8 L986.8,1242.5 L988.8,1243.9 L990.8,1244.4 L992.8,1244.6 L994.8,1245.4 L996.8,1245.1 L998.8,1242.0 L1000.8,1244.0 L1002.8,1241.7 L1004.8,1241.5 L1006.8,1243.0 L1008.8,1244.0 L1010.8,1244.9 L1012.8,1245.2 L1014.8,1245.0 L1016.8,1242.9 L1018.8,1241.2 L1020.8,1240.5 L1022.8,1238.7 L1024.8,1238.9 L1026.8,1236.4 L1028.8,1238.1 L1030.8,1236.7 L1032.8,1235.0 L1034.8,1236.5 L1036.8,1235.2 L1038.8,1236.8 L1040.8,1235.5 L1042.8,1235.8 L1044.8,1235.4 L1046.8,1235.2 L1048.8,1234.4 L1050.8,1234.2 L1052.8,1236.0 L1054.8,1235.7 L1056.8,1231.7 L1058.8,1230.7 L1060.8,1227.1 L1062.8,1225.3 L1064.8,1221.1 L1066.8,1217.7 L1068.8,1216.1 L1070.8,1216.3 L1072.8,1210.2 L1074.8,1195.5 L1076.8,1180.6 L1078.8,1164.5 L1080.8,1172.5 L1082.8,1189.2 L1084.8,1210.3 L1086.8,1224.6 L1088.8,1234.5 L1090.8,1241.9 L1092.8,1247.7 L1094.8,1252.4 L1096.8,1254.4 L1098.8,1258.5 L1100.8,1262.5 L1102.8,1264.3 L1104.8,1264.7 L1106.8,1267.1 L1108.8,1268.0 L1110.8,1267.7 L1112.8,1270.3 L1114.8,1270.8 L1116.8,1272.7" fill="none" stroke="#111" stroke-width="3.0" stroke-linejoin="round"/>
<path d="M542.6,1273.4 L544.6,1274.6 L546.6,1272.8 L548.6,1272.2 L550.6,1273.2 L552.6,1274.6 L554.6,1273.5 L556.6,1273.0 L558.6,1272.6 L560.6,1273.0 L562.6,1273.8 L564.6,1271.4 L566.6,1273.2 L568.6,1272.2 L570.6,1274.2 L572.6,1275.3 L574.6,1273.7 L576.6,1274.2 L578.6,1274.0 L580.6,1275.1 L582.6,1274.8 L584.6,1274.5 L586.6,1275.3 L588.6,1275.9 L590.6,1276.8 L592.6,1277.1 L594.6,1276.1 L596.6,1277.6 L598.6,1277.8 L600.6,1277.8 L602.6,1277.8 L604.6,1278.9 L606.6,1280.1 L608.6,1280.9 L610.6,1278.4 L612.6,1281.0 L614.6,1279.9 L616.6,1281.1 L618.6,1280.9 L620.6,1281.8 L622.6,1280.8 L624.6,1282.1 L626.6,1282.0 L628.6,1281.3 L630.6,1283.1 L632.6,1282.6 L634.6,1281.7 L636.6,1283.6 L638.6,1282.8 L640.6,1284.7 L642.6,1283.1 L644.6,1283.4 L646.6,1284.3 L648.6,1284.7 L650.6,1284.6 L652.6,1282.9 L654.6,1284.1 L656.6,1281.2 L658.6,1282.7 L660.6,1279.5 L662.6,1281.1 L664.6,1279.2 L666.6,1277.6 L668.6,1279.4 L670.6,1278.3 L672.6,1277.8 L674.6,1277.8 L676.6,1277.2 L678.6,1276.7 L680.6,1276.4 L682.6,1277.4 L684.6,1274.6 L686.6,1275.0 L688.6,1276.9 L690.6,1278.8 L692.6,1279.7 L694.6,1281.9 L696.6,1279.4 L698.6,1280.4 L700.6,1280.8 L702.6,1281.6 L704.6,1280.4 L706.6,1280.8 L708.6,1280.0 L710.6,1281.9 L712.6,1281.4 L714.6,1278.6 L716.6,1281.5 L718.6,1280.8 L720.6,1280.6 L722.6,1281.4 L724.6,1282.4 L726.6,1280.0 L728.6,1277.8 L730.6,1280.1 L732.6,1280.2 L734.6,1277.6 L736.6,1277.1 L738.6,1278.3 L740.6,1279.0 L742.6,1280.7 L744.6,1280.7 L746.6,1281.9 L748.6,1279.7 L750.6,1280.9 L752.6,1280.6 L754.6,1280.6 L756.6,1279.7 L758.6,1278.4 L760.6,1277.9 L762.6,1273.0 L764.6,1267.8 L766.6,1260.0 L768.6,1254.7 L770.6,1254.6 L772.6,1258.7 L774.6,1262.9 L776.6,1267.4 L778.6,1272.3 L780.6,1276.9 L782.6,1279.3 L784.6,1279.6 L786.6,1278.2 L788.6,1277.2 L790.6,1273.7 L792.6,1270.8 L794.6,1268.1 L796.6,1266.2 L798.6,1270.9 L800.6,1276.7 L802.6,1279.1 L804.6,1279.9 L806.6,1278.0 L808.6,1279.6 L810.6,1279.4 L812.6,1279.3 L814.6,1280.6 L816.6,1279.0 L818.6,1278.2 L820.6,1274.4 L822.6,1272.7 L824.6,1270.5 L826.6,1271.4 L828.6,1272.2 L830.6,1273.0 L832.6,1271.1 L834.6,1271.3 L836.6,1269.7 L838.6,1271.2 L840.6,1271.6 L842.6,1271.1 L844.6,1273.4 L846.6,1272.1 L848.6,1274.1 L850.6,1272.2 L852.6,1271.8 L854.6,1273.3 L856.6,1269.8 L858.6,1267.2 L860.6,1267.3 L862.6,1261.9 L864.6,1258.5 L866.6,1256.1 L868.6,1251.5 L870.6,1248.3 L872.6,1250.2 L874.6,1251.4 L876.6,1255.6 L878.6,1258.2 L880.6,1262.1 L882.6,1267.2 L884.6,1264.1 L886.6,1263.9 L888.6,1261.2 L890.6,1262.5 L892.6,1259.9 L894.6,1260.4 L896.6,1256.0 L898.6,1248.7 L900.6,1242.3 L902.6,1233.6 L904.6,1232.9 L906.6,1236.3 L908.6,1247.5 L910.6,1248.5 L912.6,1252.2 L914.6,1253.5 L916.6,1255.0 L918.6,1257.6 L920.6,1257.2 L922.6,1254.4 L924.6,1254.1 L926.6,1254.1 L928.6,1253.0 L930.6,1253.5 L932.6,1251.9 L934.6,1250.4 L936.6,1251.5 L938.6,1251.1 L940.6,1251.4 L942.6,1253.3 L944.6,1253.6 L946.6,1255.9 L948.6,1257.4 L950.6,1259.9 L952.6,1260.6 L954.6,1261.6 L956.6,1262.9 L958.6,1262.7 L960.6,1266.2 L962.6,1266.8 L964.6,1267.2 L966.6,1268.6 L968.6,1269.5 L970.6,1270.7 L972.6,1270.7 L974.6,1270.7 L976.6,1271.0 L978.6,1271.8 L980.6,1269.4 L982.6,1270.8 L984.6,1268.8 L986.6,1268.3 L988.6,1268.6 L990.6,1267.8 L992.6,1265.5 L994.6,1264.0 L996.6,1261.9 L998.6,1263.5 L1000.6,1264.6 L1002.6,1265.3 L1004.6,1267.4 L1006.6,1269.2 L1008.6,1264.2 L1010.6,1261.2 L1012.6,1259.2 L1014.6,1255.6 L1016.6,1253.0 L1018.6,1249.2 L1020.6,1250.1 L1022.6,1249.0 L1024.6,1249.3 L1026.6,1249.8 L1028.6,1251.5 L1030.6,1252.1 L1032.6,1255.7 L1034.6,1255.4 L1036.6,1255.6 L1038.6,1253.7 L1040.6,1252.1 L1042.6,1252.1 L1044.6,1250.5 L1046.6,1246.5 L1048.6,1245.2 L1050.6,1245.1 L1052.6,1241.5 L1054.6,1229.5 L1056.6,1215.3 L1058.6,1202.6 L1060.6,1194.0 L1062.6,1194.7 L1064.6,1204.7 L1066.6,1222.1 L1068.6,1239.5 L1070.6,1250.3 L1072.6,1262.3 L1074.6,1269.6 L1076.6,1275.9 L1078.6,1278.3 L1080.6,1283.7 L1082.6,1286.4 L1084.6,1289.4 L1086.6,1290.5 L1088.6,1294.1 L1090.6,1294.6 L1092.6,1296.7 L1094.6,1299.4 L1096.6,1302.2 L1098.6,1305.1 L1098.8,1306.1 L1098.8,1428.5 L542.6,1428.5 Z" fill="#fff" stroke="none"/>
<path d="M542.6,1273.4 L544.6,1274.6 L546.6,1272.8 L548.6,1272.2 L550.6,1273.2 L552.6,1274.6 L554.6,1273.5 L556.6,1273.0 L558.6,1272.6 L560.6,1273.0 L562.6,1273.8 L564.6,1271.4 L566.6,1273.2 L568.6,1272.2 L570.6,1274.2 L572.6,1275.3 L574.6,1273.7 L576.6,1274.2 L578.6,1274.0 L580.6,1275.1 L582.6,1274.8 L584.6,1274.5 L586.6,1275.3 L588.6,1275.9 L590.6,1276.8 L592.6,1277.1 L594.6,1276.1 L596.6,1277.6 L598.6,1277.8 L600.6,1277.8 L602.6,1277.8 L604.6,1278.9 L606.6,1280.1 L608.6,1280.9 L610.6,1278.4 L612.6,1281.0 L614.6,1279.9 L616.6,1281.1 L618.6,1280.9 L620.6,1281.8 L622.6,1280.8 L624.6,1282.1 L626.6,1282.0 L628.6,1281.3 L630.6,1283.1 L632.6,1282.6 L634.6,1281.7 L636.6,1283.6 L638.6,1282.8 L640.6,1284.7 L642.6,1283.1 L644.6,1283.4 L646.6,1284.3 L648.6,1284.7 L650.6,1284.6 L652.6,1282.9 L654.6,1284.1 L656.6,1281.2 L658.6,1282.7 L660.6,1279.5 L662.6,1281.1 L664.6,1279.2 L666.6,1277.6 L668.6,1279.4 L670.6,1278.3 L672.6,1277.8 L674.6,1277.8 L676.6,1277.2 L678.6,1276.7 L680.6,1276.4 L682.6,1277.4 L684.6,1274.6 L686.6,1275.0 L688.6,1276.9 L690.6,1278.8 L692.6,1279.7 L694.6,1281.9 L696.6,1279.4 L698.6,1280.4 L700.6,1280.8 L702.6,1281.6 L704.6,1280.4 L706.6,1280.8 L708.6,1280.0 L710.6,1281.9 L712.6,1281.4 L714.6,1278.6 L716.6,1281.5 L718.6,1280.8 L720.6,1280.6 L722.6,1281.4 L724.6,1282.4 L726.6,1280.0 L728.6,1277.8 L730.6,1280.1 L732.6,1280.2 L734.6,1277.6 L736.6,1277.1 L738.6,1278.3 L740.6,1279.0 L742.6,1280.7 L744.6,1280.7 L746.6,1281.9 L748.6,1279.7 L750.6,1280.9 L752.6,1280.6 L754.6,1280.6 L756.6,1279.7 L758.6,1278.4 L760.6,1277.9 L762.6,1273.0 L764.6,1267.8 L766.6,1260.0 L768.6,1254.7 L770.6,1254.6 L772.6,1258.7 L774.6,1262.9 L776.6,1267.4 L778.6,1272.3 L780.6,1276.9 L782.6,1279.3 L784.6,1279.6 L786.6,1278.2 L788.6,1277.2 L790.6,1273.7 L792.6,1270.8 L794.6,1268.1 L796.6,1266.2 L798.6,1270.9 L800.6,1276.7 L802.6,1279.1 L804.6,1279.9 L806.6,1278.0 L808.6,1279.6 L810.6,1279.4 L812.6,1279.3 L814.6,1280.6 L816.6,1279.0 L818.6,1278.2 L820.6,1274.4 L822.6,1272.7 L824.6,1270.5 L826.6,1271.4 L828.6,1272.2 L830.6,1273.0 L832.6,1271.1 L834.6,1271.3 L836.6,1269.7 L838.6,1271.2 L840.6,1271.6 L842.6,1271.1 L844.6,1273.4 L846.6,1272.1 L848.6,1274.1 L850.6,1272.2 L852.6,1271.8 L854.6,1273.3 L856.6,1269.8 L858.6,1267.2 L860.6,1267.3 L862.6,1261.9 L864.6,1258.5 L866.6,1256.1 L868.6,1251.5 L870.6,1248.3 L872.6,1250.2 L874.6,1251.4 L876.6,1255.6 L878.6,1258.2 L880.6,1262.1 L882.6,1267.2 L884.6,1264.1 L886.6,1263.9 L888.6,1261.2 L890.6,1262.5 L892.6,1259.9 L894.6,1260.4 L896.6,1256.0 L898.6,1248.7 L900.6,1242.3 L902.6,1233.6 L904.6,1232.9 L906.6,1236.3 L908.6,1247.5 L910.6,1248.5 L912.6,1252.2 L914.6,1253.5 L916.6,1255.0 L918.6,1257.6 L920.6,1257.2 L922.6,1254.4 L924.6,1254.1 L926.6,1254.1 L928.6,1253.0 L930.6,1253.5 L932.6,1251.9 L934.6,1250.4 L936.6,1251.5 L938.6,1251.1 L940.6,1251.4 L942.6,1253.3 L944.6,1253.6 L946.6,1255.9 L948.6,1257.4 L950.6,1259.9 L952.6,1260.6 L954.6,1261.6 L956.6,1262.9 L958.6,1262.7 L960.6,1266.2 L962.6,1266.8 L964.6,1267.2 L966.6,1268.6 L968.6,1269.5 L970.6,1270.7 L972.6,1270.7 L974.6,1270.7 L976.6,1271.0 L978.6,1271.8 L980.6,1269.4 L982.6,1270.8 L984.6,1268.8 L986.6,1268.3 L988.6,1268.6 L990.6,1267.8 L992.6,1265.5 L994.6,1264.0 L996.6,1261.9 L998.6,1263.5 L1000.6,1264.6 L1002.6,1265.3 L1004.6,1267.4 L1006.6,1269.2 L1008.6,1264.2 L1010.6,1261.2 L1012.6,1259.2 L1014.6,1255.6 L1016.6,1253.0 L1018.6,1249.2 L1020.6,1250.1 L1022.6,1249.0 L1024.6,1249.3 L1026.6,1249.8 L1028.6,1251.5 L1030.6,1252.1 L1032.6,1255.7 L1034.6,1255.4 L1036.6,1255.6 L1038.6,1253.7 L1040.6,1252.1 L1042.6,1252.1 L1044.6,1250.5 L1046.6,1246.5 L1048.6,1245.2 L1050.6,1245.1 L1052.6,1241.5 L1054.6,1229.5 L1056.6,1215.3 L1058.6,1202.6 L1060.6,1194.0 L1062.6,1194.7 L1064.6,1204.7 L1066.6,1222.1 L1068.6,1239.5 L1070.6,1250.3 L1072.6,1262.3 L1074.6,1269.6 L1076.6,1275.9 L1078.6,1278.3 L1080.6,1283.7 L1082.6,1286.4 L1084.6,1289.4 L1086.6,1290.5 L1088.6,1294.1 L1090.6,1294.6 L1092.6,1296.7 L1094.6,1299.4 L1096.6,1302.2 L1098.6,1305.1 L1098.8,1306.1" fill="none" stroke="#111" stroke-width="3.0" stroke-linejoin="round"/>
<path d="M503.9,1312.6 L505.9,1310.9 L507.9,1311.5 L509.9,1311.2 L511.9,1310.9 L513.9,1310.5 L515.9,1310.3 L517.9,1310.7 L519.9,1311.3 L521.9,1311.8 L523.9,1311.4 L525.9,1311.4 L527.9,1310.8 L529.9,1310.7 L531.9,1313.2 L533.9,1311.8 L535.9,1312.4 L537.9,1312.7 L539.9,1313.1 L541.9,1313.1 L543.9,1313.3 L545.9,1314.6 L547.9,1314.6 L549.9,1314.3 L551.9,1315.4 L553.9,1314.2 L555.9,1316.1 L557.9,1313.4 L559.9,1317.0 L561.9,1315.7 L563.9,1316.7 L565.9,1318.9 L567.9,1320.0 L569.9,1317.6 L571.9,1318.1 L573.9,1318.8 L575.9,1317.8 L577.9,1320.3 L579.9,1319.5 L581.9,1319.5 L583.9,1320.5 L585.9,1318.6 L587.9,1321.0 L589.9,1320.3 L591.9,1320.4 L593.9,1321.4 L595.9,1319.4 L597.9,1321.7 L599.9,1323.1 L601.9,1322.5 L603.9,1322.8 L605.9,1322.6 L607.9,1321.9 L609.9,1322.5 L611.9,1323.1 L613.9,1322.8 L615.9,1321.2 L617.9,1324.9 L619.9,1322.4 L621.9,1322.0 L623.9,1320.9 L625.9,1320.1 L627.9,1320.1 L629.9,1319.1 L631.9,1319.0 L633.9,1317.7 L635.9,1316.2 L637.9,1316.9 L639.9,1316.4 L641.9,1314.8 L643.9,1315.7 L645.9,1313.8 L647.9,1314.3 L649.9,1315.5 L651.9,1315.0 L653.9,1316.8 L655.9,1317.7 L657.9,1318.8 L659.9,1318.8 L661.9,1320.0 L663.9,1319.5 L665.9,1320.3 L667.9,1319.9 L669.9,1320.1 L671.9,1319.2 L673.9,1319.8 L675.9,1321.2 L677.9,1318.0 L679.9,1318.7 L681.9,1320.4 L683.9,1320.3 L685.9,1320.7 L687.9,1321.2 L689.9,1321.1 L691.9,1320.1 L693.9,1320.3 L695.9,1319.6 L697.9,1317.7 L699.9,1316.1 L701.9,1315.0 L703.9,1314.4 L705.9,1316.2 L707.9,1316.9 L709.9,1317.7 L711.9,1317.4 L713.9,1317.7 L715.9,1318.4 L717.9,1318.0 L719.9,1318.3 L721.9,1318.9 L723.9,1319.0 L725.9,1315.4 L727.9,1314.5 L729.9,1313.6 L731.9,1309.8 L733.9,1302.1 L735.9,1294.3 L737.9,1294.2 L739.9,1294.0 L741.9,1297.1 L743.9,1299.6 L745.9,1302.7 L747.9,1305.4 L749.9,1314.2 L751.9,1317.1 L753.9,1319.7 L755.9,1316.7 L757.9,1315.2 L759.9,1312.3 L761.9,1309.6 L763.9,1306.9 L765.9,1304.6 L767.9,1305.1 L769.9,1311.6 L771.9,1318.9 L773.9,1319.9 L775.9,1318.3 L777.9,1319.0 L779.9,1316.8 L781.9,1318.3 L783.9,1319.6 L785.9,1319.2 L787.9,1318.6 L789.9,1317.4 L791.9,1315.9 L793.9,1312.2 L795.9,1309.9 L797.9,1310.6 L799.9,1310.8 L801.9,1310.1 L803.9,1309.6 L805.9,1311.6 L807.9,1308.9 L809.9,1310.6 L811.9,1311.9 L813.9,1314.5 L815.9,1314.0 L817.9,1312.6 L819.9,1313.5 L821.9,1309.8 L823.9,1312.0 L825.9,1309.7 L827.9,1308.8 L829.9,1305.6 L831.9,1303.7 L833.9,1300.8 L835.9,1296.3 L837.9,1293.2 L839.9,1290.5 L841.9,1290.2 L843.9,1287.9 L845.9,1287.6 L847.9,1289.9 L849.9,1292.2 L851.9,1296.1 L853.9,1298.0 L855.9,1298.9 L857.9,1302.0 L859.9,1302.2 L861.9,1300.6 L863.9,1298.1 L865.9,1297.4 L867.9,1296.0 L869.9,1289.4 L871.9,1281.8 L873.9,1277.4 L875.9,1274.8 L877.9,1269.5 L879.9,1269.8 L881.9,1276.5 L883.9,1285.7 L885.9,1288.3 L887.9,1291.6 L889.9,1291.7 L891.9,1291.6 L893.9,1294.6 L895.9,1293.8 L897.9,1294.0 L899.9,1295.4 L901.9,1291.2 L903.9,1288.9 L905.9,1289.4 L907.9,1291.9 L909.9,1290.0 L911.9,1288.6 L913.9,1289.3 L915.9,1288.6 L917.9,1289.0 L919.9,1290.8 L921.9,1295.5 L923.9,1297.8 L925.9,1300.2 L927.9,1301.8 L929.9,1302.8 L931.9,1304.5 L933.9,1304.7 L935.9,1307.0 L937.9,1306.8 L939.9,1307.8 L941.9,1309.6 L943.9,1308.1 L945.9,1310.2 L947.9,1309.8 L949.9,1308.3 L951.9,1310.8 L953.9,1310.4 L955.9,1308.6 L957.9,1308.6 L959.9,1309.7 L961.9,1308.2 L963.9,1306.6 L965.9,1307.5 L967.9,1306.4 L969.9,1303.7 L971.9,1303.6 L973.9,1302.6 L975.9,1301.6 L977.9,1301.5 L979.9,1303.3 L981.9,1306.8 L983.9,1305.1 L985.9,1304.6 L987.9,1302.3 L989.9,1298.6 L991.9,1297.9 L993.9,1295.2 L995.9,1292.6 L997.9,1288.5 L999.9,1286.9 L1001.9,1285.4 L1003.9,1286.7 L1005.9,1288.2 L1007.9,1289.4 L1009.9,1291.7 L1011.9,1290.7 L1013.9,1291.5 L1015.9,1289.4 L1017.9,1290.7 L1019.9,1291.7 L1021.9,1289.4 L1023.9,1290.0 L1025.9,1289.3 L1027.9,1287.9 L1029.9,1281.1 L1031.9,1278.9 L1033.9,1268.7 L1035.9,1256.3 L1037.9,1242.2 L1039.9,1232.2 L1041.9,1227.4 L1043.9,1242.0 L1045.9,1260.4 L1047.9,1282.8 L1049.9,1292.4 L1051.9,1300.3 L1053.9,1308.1 L1055.9,1312.8 L1057.9,1318.6 L1059.9,1323.5 L1061.9,1328.5 L1063.9,1329.4 L1065.9,1331.7 L1067.9,1333.2 L1069.9,1334.7 L1071.9,1336.7 L1073.9,1340.6 L1075.9,1341.3 L1077.9,1345.5 L1079.6,1347.9 L1079.6,1473.4 L503.9,1473.4 Z" fill="#fff" stroke="none"/>
<path d="M503.9,1312.6 L505.9,1310.9 L507.9,1311.5 L509.9,1311.2 L511.9,1310.9 L513.9,1310.5 L515.9,1310.3 L517.9,1310.7 L519.9,1311.3 L521.9,1311.8 L523.9,1311.4 L525.9,1311.4 L527.9,1310.8 L529.9,1310.7 L531.9,1313.2 L533.9,1311.8 L535.9,1312.4 L537.9,1312.7 L539.9,1313.1 L541.9,1313.1 L543.9,1313.3 L545.9,1314.6 L547.9,1314.6 L549.9,1314.3 L551.9,1315.4 L553.9,1314.2 L555.9,1316.1 L557.9,1313.4 L559.9,1317.0 L561.9,1315.7 L563.9,1316.7 L565.9,1318.9 L567.9,1320.0 L569.9,1317.6 L571.9,1318.1 L573.9,1318.8 L575.9,1317.8 L577.9,1320.3 L579.9,1319.5 L581.9,1319.5 L583.9,1320.5 L585.9,1318.6 L587.9,1321.0 L589.9,1320.3 L591.9,1320.4 L593.9,1321.4 L595.9,1319.4 L597.9,1321.7 L599.9,1323.1 L601.9,1322.5 L603.9,1322.8 L605.9,1322.6 L607.9,1321.9 L609.9,1322.5 L611.9,1323.1 L613.9,1322.8 L615.9,1321.2 L617.9,1324.9 L619.9,1322.4 L621.9,1322.0 L623.9,1320.9 L625.9,1320.1 L627.9,1320.1 L629.9,1319.1 L631.9,1319.0 L633.9,1317.7 L635.9,1316.2 L637.9,1316.9 L639.9,1316.4 L641.9,1314.8 L643.9,1315.7 L645.9,1313.8 L647.9,1314.3 L649.9,1315.5 L651.9,1315.0 L653.9,1316.8 L655.9,1317.7 L657.9,1318.8 L659.9,1318.8 L661.9,1320.0 L663.9,1319.5 L665.9,1320.3 L667.9,1319.9 L669.9,1320.1 L671.9,1319.2 L673.9,1319.8 L675.9,1321.2 L677.9,1318.0 L679.9,1318.7 L681.9,1320.4 L683.9,1320.3 L685.9,1320.7 L687.9,1321.2 L689.9,1321.1 L691.9,1320.1 L693.9,1320.3 L695.9,1319.6 L697.9,1317.7 L699.9,1316.1 L701.9,1315.0 L703.9,1314.4 L705.9,1316.2 L707.9,1316.9 L709.9,1317.7 L711.9,1317.4 L713.9,1317.7 L715.9,1318.4 L717.9,1318.0 L719.9,1318.3 L721.9,1318.9 L723.9,1319.0 L725.9,1315.4 L727.9,1314.5 L729.9,1313.6 L731.9,1309.8 L733.9,1302.1 L735.9,1294.3 L737.9,1294.2 L739.9,1294.0 L741.9,1297.1 L743.9,1299.6 L745.9,1302.7 L747.9,1305.4 L749.9,1314.2 L751.9,1317.1 L753.9,1319.7 L755.9,1316.7 L757.9,1315.2 L759.9,1312.3 L761.9,1309.6 L763.9,1306.9 L765.9,1304.6 L767.9,1305.1 L769.9,1311.6 L771.9,1318.9 L773.9,1319.9 L775.9,1318.3 L777.9,1319.0 L779.9,1316.8 L781.9,1318.3 L783.9,1319.6 L785.9,1319.2 L787.9,1318.6 L789.9,1317.4 L791.9,1315.9 L793.9,1312.2 L795.9,1309.9 L797.9,1310.6 L799.9,1310.8 L801.9,1310.1 L803.9,1309.6 L805.9,1311.6 L807.9,1308.9 L809.9,1310.6 L811.9,1311.9 L813.9,1314.5 L815.9,1314.0 L817.9,1312.6 L819.9,1313.5 L821.9,1309.8 L823.9,1312.0 L825.9,1309.7 L827.9,1308.8 L829.9,1305.6 L831.9,1303.7 L833.9,1300.8 L835.9,1296.3 L837.9,1293.2 L839.9,1290.5 L841.9,1290.2 L843.9,1287.9 L845.9,1287.6 L847.9,1289.9 L849.9,1292.2 L851.9,1296.1 L853.9,1298.0 L855.9,1298.9 L857.9,1302.0 L859.9,1302.2 L861.9,1300.6 L863.9,1298.1 L865.9,1297.4 L867.9,1296.0 L869.9,1289.4 L871.9,1281.8 L873.9,1277.4 L875.9,1274.8 L877.9,1269.5 L879.9,1269.8 L881.9,1276.5 L883.9,1285.7 L885.9,1288.3 L887.9,1291.6 L889.9,1291.7 L891.9,1291.6 L893.9,1294.6 L895.9,1293.8 L897.9,1294.0 L899.9,1295.4 L901.9,1291.2 L903.9,1288.9 L905.9,1289.4 L907.9,1291.9 L909.9,1290.0 L911.9,1288.6 L913.9,1289.3 L915.9,1288.6 L917.9,1289.0 L919.9,1290.8 L921.9,1295.5 L923.9,1297.8 L925.9,1300.2 L927.9,1301.8 L929.9,1302.8 L931.9,1304.5 L933.9,1304.7 L935.9,1307.0 L937.9,1306.8 L939.9,1307.8 L941.9,1309.6 L943.9,1308.1 L945.9,1310.2 L947.9,1309.8 L949.9,1308.3 L951.9,1310.8 L953.9,1310.4 L955.9,1308.6 L957.9,1308.6 L959.9,1309.7 L961.9,1308.2 L963.9,1306.6 L965.9,1307.5 L967.9,1306.4 L969.9,1303.7 L971.9,1303.6 L973.9,1302.6 L975.9,1301.6 L977.9,1301.5 L979.9,1303.3 L981.9,1306.8 L983.9,1305.1 L985.9,1304.6 L987.9,1302.3 L989.9,1298.6 L991.9,1297.9 L993.9,1295.2 L995.9,1292.6 L997.9,1288.5 L999.9,1286.9 L1001.9,1285.4 L1003.9,1286.7 L1005.9,1288.2 L1007.9,1289.4 L1009.9,1291.7 L1011.9,1290.7 L1013.9,1291.5 L1015.9,1289.4 L1017.9,1290.7 L1019.9,1291.7 L1021.9,1289.4 L1023.9,1290.0 L1025.9,1289.3 L1027.9,1287.9 L1029.9,1281.1 L1031.9,1278.9 L1033.9,1268.7 L1035.9,1256.3 L1037.9,1242.2 L1039.9,1232.2 L1041.9,1227.4 L1043.9,1242.0 L1045.9,1260.4 L1047.9,1282.8 L1049.9,1292.4 L1051.9,1300.3 L1053.9,1308.1 L1055.9,1312.8 L1057.9,1318.6 L1059.9,1323.5 L1061.9,1328.5 L1063.9,1329.4 L1065.9,1331.7 L1067.9,1333.2 L1069.9,1334.7 L1071.9,1336.7 L1073.9,1340.6 L1075.9,1341.3 L1077.9,1345.5 L1079.6,1347.9" fill="none" stroke="#111" stroke-width="3.0" stroke-linejoin="round"/>
<path d="M462.3,1372.6 L464.3,1369.5 L466.3,1371.1 L468.3,1370.1 L470.3,1368.6 L472.3,1368.9 L474.3,1368.6 L476.3,1366.9 L478.3,1368.0 L480.3,1369.6 L482.3,1369.3 L484.3,1368.1 L486.3,1370.6 L488.3,1369.1 L490.3,1369.2 L492.3,1369.3 L494.3,1370.0 L496.3,1373.5 L498.3,1371.5 L500.3,1373.2 L502.3,1371.3 L504.3,1371.6 L506.3,1370.4 L508.3,1372.0 L510.3,1371.1 L512.3,1368.8 L514.3,1368.2 L516.3,1368.3 L518.3,1369.4 L520.3,1371.1 L522.3,1372.2 L524.3,1370.2 L526.3,1369.4 L528.3,1367.5 L530.3,1363.6 L532.3,1365.5 L534.3,1365.2 L536.3,1366.0 L538.3,1368.1 L540.3,1370.1 L542.3,1372.6 L544.3,1372.8 L546.3,1371.7 L548.3,1371.5 L550.3,1371.8 L552.3,1370.0 L554.3,1370.3 L556.3,1368.5 L558.3,1369.6 L560.3,1368.7 L562.3,1370.3 L564.3,1371.6 L566.3,1372.5 L568.3,1369.6 L570.3,1368.4 L572.3,1368.7 L574.3,1368.6 L576.3,1367.2 L578.3,1370.5 L580.3,1371.2 L582.3,1371.1 L584.3,1371.3 L586.3,1372.1 L588.3,1374.4 L590.3,1370.4 L592.3,1371.0 L594.3,1371.0 L596.3,1371.8 L598.3,1369.8 L600.3,1371.6 L602.3,1369.2 L604.3,1368.7 L606.3,1368.7 L608.3,1368.6 L610.3,1370.2 L612.3,1367.9 L614.3,1369.1 L616.3,1370.3 L618.3,1370.6 L620.3,1371.4 L622.3,1373.4 L624.3,1372.1 L626.3,1372.2 L628.3,1372.3 L630.3,1374.0 L632.3,1371.8 L634.3,1372.9 L636.3,1371.1 L638.3,1373.2 L640.3,1372.8 L642.3,1372.5 L644.3,1374.3 L646.3,1375.2 L648.3,1375.0 L650.3,1377.2 L652.3,1376.2 L654.3,1377.1 L656.3,1376.1 L658.3,1376.1 L660.3,1375.3 L662.3,1376.1 L664.3,1375.5 L666.3,1375.3 L668.3,1376.2 L670.3,1374.2 L672.3,1377.7 L674.3,1375.8 L676.3,1373.8 L678.3,1374.0 L680.3,1374.3 L682.3,1373.9 L684.3,1374.1 L686.3,1372.6 L688.3,1372.3 L690.3,1369.5 L692.3,1366.3 L694.3,1364.1 L696.3,1362.2 L698.3,1360.8 L700.3,1358.6 L702.3,1354.9 L704.3,1355.8 L706.3,1355.1 L708.3,1359.2 L710.3,1358.8 L712.3,1360.0 L714.3,1360.3 L716.3,1363.2 L718.3,1368.3 L720.3,1370.3 L722.3,1369.6 L724.3,1369.3 L726.3,1369.5 L728.3,1367.1 L730.3,1365.0 L732.3,1364.8 L734.3,1365.8 L736.3,1367.5 L738.3,1369.6 L740.3,1370.2 L742.3,1372.5 L744.3,1372.7 L746.3,1370.4 L748.3,1366.0 L750.3,1364.2 L752.3,1361.2 L754.3,1363.9 L756.3,1365.0 L758.3,1366.7 L760.3,1365.8 L762.3,1368.7 L764.3,1367.4 L766.3,1366.5 L768.3,1366.0 L770.3,1367.8 L772.3,1365.8 L774.3,1364.0 L776.3,1362.3 L778.3,1363.3 L780.3,1361.8 L782.3,1363.1 L784.3,1365.7 L786.3,1364.6 L788.3,1365.6 L790.3,1358.7 L792.3,1355.1 L794.3,1351.7 L796.3,1348.5 L798.3,1347.2 L800.3,1348.2 L802.3,1346.9 L804.3,1347.5 L806.3,1348.3 L808.3,1346.3 L810.3,1348.1 L812.3,1347.3 L814.3,1345.2 L816.3,1347.9 L818.3,1347.5 L820.3,1348.2 L822.3,1350.9 L824.3,1355.5 L826.3,1354.7 L828.3,1356.1 L830.3,1357.4 L832.3,1355.0 L834.3,1354.3 L836.3,1353.9 L838.3,1352.0 L840.3,1351.1 L842.3,1345.4 L844.3,1337.1 L846.3,1330.5 L848.3,1327.5 L850.3,1327.0 L852.3,1330.4 L854.3,1339.4 L856.3,1347.0 L858.3,1346.6 L860.3,1346.9 L862.3,1349.9 L864.3,1348.0 L866.3,1350.3 L868.3,1351.1 L870.3,1350.7 L872.3,1351.8 L874.3,1350.7 L876.3,1351.6 L878.3,1351.8 L880.3,1352.5 L882.3,1348.7 L884.3,1344.5 L886.3,1345.4 L888.3,1342.5 L890.3,1343.8 L892.3,1342.0 L894.3,1342.3 L896.3,1343.6 L898.3,1347.5 L900.3,1348.8 L902.3,1351.4 L904.3,1352.4 L906.3,1352.9 L908.3,1352.2 L910.3,1350.2 L912.3,1348.5 L914.3,1351.3 L916.3,1349.5 L918.3,1353.1 L920.3,1357.0 L922.3,1359.6 L924.3,1360.2 L926.3,1359.3 L928.3,1360.1 L930.3,1356.7 L932.3,1356.9 L934.3,1355.2 L936.3,1354.7 L938.3,1354.1 L940.3,1354.8 L942.3,1351.8 L944.3,1352.7 L946.3,1352.0 L948.3,1352.9 L950.3,1353.8 L952.3,1354.2 L954.3,1353.3 L956.3,1353.0 L958.3,1353.9 L960.3,1350.8 L962.3,1345.2 L964.3,1342.6 L966.3,1342.9 L968.3,1342.1 L970.3,1343.2 L972.3,1346.7 L974.3,1345.1 L976.3,1345.3 L978.3,1345.7 L980.3,1343.7 L982.3,1344.3 L984.3,1342.1 L986.3,1342.1 L988.3,1341.3 L990.3,1338.3 L992.3,1340.8 L994.3,1337.8 L996.3,1337.7 L998.3,1335.4 L1000.3,1334.6 L1002.3,1333.1 L1004.3,1332.6 L1006.3,1329.1 L1008.3,1322.8 L1010.3,1311.4 L1012.3,1298.8 L1014.3,1284.7 L1016.3,1279.2 L1018.3,1284.2 L1020.3,1294.7 L1022.3,1309.2 L1024.3,1321.7 L1026.3,1333.3 L1028.3,1339.2 L1030.3,1348.2 L1032.3,1351.5 L1034.3,1358.4 L1036.3,1367.4 L1038.3,1369.5 L1040.3,1374.7 L1042.3,1375.3 L1044.3,1379.3 L1046.3,1383.2 L1048.3,1383.9 L1050.3,1385.7 L1052.3,1388.7 L1054.3,1388.5 L1056.3,1388.8 L1058.3,1390.8 L1059.0,1390.4 L1059.0,1521.6 L462.3,1521.6 Z" fill="#fff" stroke="none"/>
<path d="M462.3,1372.6 L464.3,1369.5 L466.3,1371.1 L468.3,1370.1 L470.3,1368.6 L472.3,1368.9 L474.3,1368.6 L476.3,1366.9 L478.3,1368.0 L480.3,1369.6 L482.3,1369.3 L484.3,1368.1 L486.3,1370.6 L488.3,1369.1 L490.3,1369.2 L492.3,1369.3 L494.3,1370.0 L496.3,1373.5 L498.3,1371.5 L500.3,1373.2 L502.3,1371.3 L504.3,1371.6 L506.3,1370.4 L508.3,1372.0 L510.3,1371.1 L512.3,1368.8 L514.3,1368.2 L516.3,1368.3 L518.3,1369.4 L520.3,1371.1 L522.3,1372.2 L524.3,1370.2 L526.3,1369.4 L528.3,1367.5 L530.3,1363.6 L532.3,1365.5 L534.3,1365.2 L536.3,1366.0 L538.3,1368.1 L540.3,1370.1 L542.3,1372.6 L544.3,1372.8 L546.3,1371.7 L548.3,1371.5 L550.3,1371.8 L552.3,1370.0 L554.3,1370.3 L556.3,1368.5 L558.3,1369.6 L560.3,1368.7 L562.3,1370.3 L564.3,1371.6 L566.3,1372.5 L568.3,1369.6 L570.3,1368.4 L572.3,1368.7 L574.3,1368.6 L576.3,1367.2 L578.3,1370.5 L580.3,1371.2 L582.3,1371.1 L584.3,1371.3 L586.3,1372.1 L588.3,1374.4 L590.3,1370.4 L592.3,1371.0 L594.3,1371.0 L596.3,1371.8 L598.3,1369.8 L600.3,1371.6 L602.3,1369.2 L604.3,1368.7 L606.3,1368.7 L608.3,1368.6 L610.3,1370.2 L612.3,1367.9 L614.3,1369.1 L616.3,1370.3 L618.3,1370.6 L620.3,1371.4 L622.3,1373.4 L624.3,1372.1 L626.3,1372.2 L628.3,1372.3 L630.3,1374.0 L632.3,1371.8 L634.3,1372.9 L636.3,1371.1 L638.3,1373.2 L640.3,1372.8 L642.3,1372.5 L644.3,1374.3 L646.3,1375.2 L648.3,1375.0 L650.3,1377.2 L652.3,1376.2 L654.3,1377.1 L656.3,1376.1 L658.3,1376.1 L660.3,1375.3 L662.3,1376.1 L664.3,1375.5 L666.3,1375.3 L668.3,1376.2 L670.3,1374.2 L672.3,1377.7 L674.3,1375.8 L676.3,1373.8 L678.3,1374.0 L680.3,1374.3 L682.3,1373.9 L684.3,1374.1 L686.3,1372.6 L688.3,1372.3 L690.3,1369.5 L692.3,1366.3 L694.3,1364.1 L696.3,1362.2 L698.3,1360.8 L700.3,1358.6 L702.3,1354.9 L704.3,1355.8 L706.3,1355.1 L708.3,1359.2 L710.3,1358.8 L712.3,1360.0 L714.3,1360.3 L716.3,1363.2 L718.3,1368.3 L720.3,1370.3 L722.3,1369.6 L724.3,1369.3 L726.3,1369.5 L728.3,1367.1 L730.3,1365.0 L732.3,1364.8 L734.3,1365.8 L736.3,1367.5 L738.3,1369.6 L740.3,1370.2 L742.3,1372.5 L744.3,1372.7 L746.3,1370.4 L748.3,1366.0 L750.3,1364.2 L752.3,1361.2 L754.3,1363.9 L756.3,1365.0 L758.3,1366.7 L760.3,1365.8 L762.3,1368.7 L764.3,1367.4 L766.3,1366.5 L768.3,1366.0 L770.3,1367.8 L772.3,1365.8 L774.3,1364.0 L776.3,1362.3 L778.3,1363.3 L780.3,1361.8 L782.3,1363.1 L784.3,1365.7 L786.3,1364.6 L788.3,1365.6 L790.3,1358.7 L792.3,1355.1 L794.3,1351.7 L796.3,1348.5 L798.3,1347.2 L800.3,1348.2 L802.3,1346.9 L804.3,1347.5 L806.3,1348.3 L808.3,1346.3 L810.3,1348.1 L812.3,1347.3 L814.3,1345.2 L816.3,1347.9 L818.3,1347.5 L820.3,1348.2 L822.3,1350.9 L824.3,1355.5 L826.3,1354.7 L828.3,1356.1 L830.3,1357.4 L832.3,1355.0 L834.3,1354.3 L836.3,1353.9 L838.3,1352.0 L840.3,1351.1 L842.3,1345.4 L844.3,1337.1 L846.3,1330.5 L848.3,1327.5 L850.3,1327.0 L852.3,1330.4 L854.3,1339.4 L856.3,1347.0 L858.3,1346.6 L860.3,1346.9 L862.3,1349.9 L864.3,1348.0 L866.3,1350.3 L868.3,1351.1 L870.3,1350.7 L872.3,1351.8 L874.3,1350.7 L876.3,1351.6 L878.3,1351.8 L880.3,1352.5 L882.3,1348.7 L884.3,1344.5 L886.3,1345.4 L888.3,1342.5 L890.3,1343.8 L892.3,1342.0 L894.3,1342.3 L896.3,1343.6 L898.3,1347.5 L900.3,1348.8 L902.3,1351.4 L904.3,1352.4 L906.3,1352.9 L908.3,1352.2 L910.3,1350.2 L912.3,1348.5 L914.3,1351.3 L916.3,1349.5 L918.3,1353.1 L920.3,1357.0 L922.3,1359.6 L924.3,1360.2 L926.3,1359.3 L928.3,1360.1 L930.3,1356.7 L932.3,1356.9 L934.3,1355.2 L936.3,1354.7 L938.3,1354.1 L940.3,1354.8 L942.3,1351.8 L944.3,1352.7 L946.3,1352.0 L948.3,1352.9 L950.3,1353.8 L952.3,1354.2 L954.3,1353.3 L956.3,1353.0 L958.3,1353.9 L960.3,1350.8 L962.3,1345.2 L964.3,1342.6 L966.3,1342.9 L968.3,1342.1 L970.3,1343.2 L972.3,1346.7 L974.3,1345.1 L976.3,1345.3 L978.3,1345.7 L980.3,1343.7 L982.3,1344.3 L984.3,1342.1 L986.3,1342.1 L988.3,1341.3 L990.3,1338.3 L992.3,1340.8 L994.3,1337.8 L996.3,1337.7 L998.3,1335.4 L1000.3,1334.6 L1002.3,1333.1 L1004.3,1332.6 L1006.3,1329.1 L1008.3,1322.8 L1010.3,1311.4 L1012.3,1298.8 L1014.3,1284.7 L1016.3,1279.2 L1018.3,1284.2 L1020.3,1294.7 L1022.3,1309.2 L1024.3,1321.7 L1026.3,1333.3 L1028.3,1339.2 L1030.3,1348.2 L1032.3,1351.5 L1034.3,1358.4 L1036.3,1367.4 L1038.3,1369.5 L1040.3,1374.7 L1042.3,1375.3 L1044.3,1379.3 L1046.3,1383.2 L1048.3,1383.9 L1050.3,1385.7 L1052.3,1388.7 L1054.3,1388.5 L1056.3,1388.8 L1058.3,1390.8 L1059.0,1390.4" fill="none" stroke="#111" stroke-width="3.0" stroke-linejoin="round"/>
<path d="M417.6,1430.7 L419.6,1431.6 L421.6,1429.6 L423.6,1429.9 L425.6,1429.5 L427.6,1430.2 L429.6,1429.8 L431.6,1432.4 L433.6,1428.3 L435.6,1431.3 L437.6,1429.4 L439.6,1430.1 L441.6,1432.6 L443.6,1428.9 L445.6,1430.3 L447.6,1428.9 L449.6,1431.4 L451.6,1429.1 L453.6,1431.2 L455.6,1429.6 L457.6,1432.4 L459.6,1427.3 L461.6,1432.8 L463.6,1430.6 L465.6,1428.2 L467.6,1427.7 L469.6,1430.2 L471.6,1429.3 L473.6,1429.0 L475.6,1431.5 L477.6,1429.6 L479.6,1427.4 L481.6,1430.9 L483.6,1429.6 L485.6,1429.5 L487.6,1429.4 L489.6,1429.1 L491.6,1428.1 L493.6,1428.9 L495.6,1426.6 L497.6,1428.5 L499.6,1426.0 L501.6,1427.7 L503.6,1426.2 L505.6,1426.7 L507.6,1425.3 L509.6,1425.1 L511.6,1424.4 L513.6,1424.9 L515.6,1427.0 L517.6,1426.7 L519.6,1428.2 L521.6,1426.8 L523.6,1430.0 L525.6,1429.8 L527.6,1427.7 L529.6,1426.5 L531.6,1426.4 L533.6,1425.5 L535.6,1427.2 L537.6,1427.4 L539.6,1427.1 L541.6,1426.4 L543.6,1428.8 L545.6,1427.3 L547.6,1428.1 L549.6,1427.0 L551.6,1425.7 L553.6,1424.3 L555.6,1422.4 L557.6,1422.4 L559.6,1420.4 L561.6,1423.1 L563.6,1423.4 L565.6,1422.2 L567.6,1421.0 L569.6,1422.4 L571.6,1421.3 L573.6,1422.1 L575.6,1425.0 L577.6,1423.9 L579.6,1424.2 L581.6,1426.6 L583.6,1426.7 L585.6,1426.1 L587.6,1427.5 L589.6,1428.5 L591.6,1426.8 L593.6,1428.7 L595.6,1426.9 L597.6,1425.6 L599.6,1427.5 L601.6,1426.2 L603.6,1428.1 L605.6,1426.4 L607.6,1427.0 L609.6,1426.6 L611.6,1427.3 L613.6,1427.7 L615.6,1427.0 L617.6,1425.4 L619.6,1427.7 L621.6,1427.2 L623.6,1424.2 L625.6,1427.2 L627.6,1425.2 L629.6,1425.6 L631.6,1425.8 L633.6,1426.4 L635.6,1424.6 L637.6,1424.0 L639.6,1424.2 L641.6,1424.4 L643.6,1421.9 L645.6,1422.3 L647.6,1422.3 L649.6,1421.3 L651.6,1421.1 L653.6,1420.8 L655.6,1419.8 L657.6,1419.6 L659.6,1415.3 L661.6,1413.6 L663.6,1410.2 L665.6,1406.4 L667.6,1402.0 L669.6,1400.3 L671.6,1406.0 L673.6,1410.3 L675.6,1412.4 L677.6,1413.1 L679.6,1413.3 L681.6,1413.4 L683.6,1414.8 L685.6,1414.8 L687.6,1420.5 L689.6,1419.2 L691.6,1417.6 L693.6,1418.7 L695.6,1415.7 L697.6,1416.7 L699.6,1413.3 L701.6,1416.0 L703.6,1416.7 L705.6,1419.7 L707.6,1420.1 L709.6,1420.8 L711.6,1420.4 L713.6,1420.4 L715.6,1422.3 L717.6,1420.4 L719.6,1421.2 L721.6,1418.9 L723.6,1418.9 L725.6,1414.9 L727.6,1413.1 L729.6,1413.1 L731.6,1410.7 L733.6,1408.3 L735.6,1410.9 L737.6,1411.6 L739.6,1414.4 L741.6,1414.9 L743.6,1415.8 L745.6,1414.8 L747.6,1412.9 L749.6,1410.5 L751.6,1409.4 L753.6,1407.4 L755.6,1398.6 L757.6,1397.5 L759.6,1403.3 L761.6,1406.2 L763.6,1406.0 L765.6,1407.5 L767.6,1405.4 L769.6,1404.1 L771.6,1402.4 L773.6,1399.3 L775.6,1395.5 L777.6,1389.5 L779.6,1390.9 L781.6,1391.6 L783.6,1389.3 L785.6,1389.5 L787.6,1390.5 L789.6,1393.4 L791.6,1396.8 L793.6,1395.4 L795.6,1395.3 L797.6,1398.3 L799.6,1394.1 L801.6,1394.1 L803.6,1395.2 L805.6,1393.6 L807.6,1389.9 L809.6,1390.7 L811.6,1385.9 L813.6,1382.1 L815.6,1376.7 L817.6,1373.3 L819.6,1372.5 L821.6,1375.2 L823.6,1383.4 L825.6,1390.6 L827.6,1393.0 L829.6,1395.8 L831.6,1397.7 L833.6,1399.8 L835.6,1401.1 L837.6,1399.0 L839.6,1398.6 L841.6,1393.9 L843.6,1394.4 L845.6,1393.0 L847.6,1390.8 L849.6,1386.9 L851.6,1384.1 L853.6,1381.0 L855.6,1382.1 L857.6,1385.7 L859.6,1390.7 L861.6,1391.2 L863.6,1390.0 L865.6,1389.5 L867.6,1390.7 L869.6,1391.0 L871.6,1390.1 L873.6,1391.2 L875.6,1392.5 L877.6,1392.1 L879.6,1393.4 L881.6,1392.9 L883.6,1396.7 L885.6,1398.3 L887.6,1400.2 L889.6,1400.4 L891.6,1401.0 L893.6,1402.3 L895.6,1403.5 L897.6,1402.1 L899.6,1403.0 L901.6,1404.4 L903.6,1406.3 L905.6,1405.9 L907.6,1407.5 L909.6,1404.7 L911.6,1404.2 L913.6,1405.2 L915.6,1403.7 L917.6,1404.3 L919.6,1401.7 L921.6,1400.7 L923.6,1398.7 L925.6,1398.5 L927.6,1396.9 L929.6,1395.3 L931.6,1394.4 L933.6,1392.4 L935.6,1391.1 L937.6,1390.9 L939.6,1391.7 L941.6,1390.9 L943.6,1392.3 L945.6,1391.9 L947.6,1391.5 L949.6,1393.0 L951.6,1390.8 L953.6,1390.1 L955.6,1390.5 L957.6,1387.1 L959.6,1388.1 L961.6,1387.8 L963.6,1390.1 L965.6,1388.5 L967.6,1387.3 L969.6,1385.7 L971.6,1388.5 L973.6,1385.6 L975.6,1382.5 L977.6,1384.2 L979.6,1379.4 L981.6,1373.7 L983.6,1364.0 L985.6,1350.2 L987.6,1335.2 L989.6,1316.8 L991.6,1308.5 L993.6,1321.0 L995.6,1337.6 L997.6,1357.8 L999.6,1373.1 L1001.6,1387.5 L1003.6,1391.9 L1005.6,1399.4 L1007.6,1403.0 L1009.6,1407.3 L1011.6,1410.6 L1013.6,1414.3 L1015.6,1416.9 L1017.6,1420.9 L1019.6,1421.6 L1021.6,1423.2 L1023.6,1425.4 L1025.6,1428.4 L1027.6,1428.1 L1029.6,1432.6 L1031.6,1435.0 L1033.6,1433.8 L1035.6,1437.7 L1036.8,1439.6 L1036.8,1573.4 L417.6,1573.4 Z" fill="#fff" stroke="none"/>
<path d="M417.6,1430.7 L419.6,1431.6 L421.6,1429.6 L423.6,1429.9 L425.6,1429.5 L427.6,1430.2 L429.6,1429.8 L431.6,1432.4 L433.6,1428.3 L435.6,1431.3 L437.6,1429.4 L439.6,1430.1 L441.6,1432.6 L443.6,1428.9 L445.6,1430.3 L447.6,1428.9 L449.6,1431.4 L451.6,1429.1 L453.6,1431.2 L455.6,1429.6 L457.6,1432.4 L459.6,1427.3 L461.6,1432.8 L463.6,1430.6 L465.6,1428.2 L467.6,1427.7 L469.6,1430.2 L471.6,1429.3 L473.6,1429.0 L475.6,1431.5 L477.6,1429.6 L479.6,1427.4 L481.6,1430.9 L483.6,1429.6 L485.6,1429.5 L487.6,1429.4 L489.6,1429.1 L491.6,1428.1 L493.6,1428.9 L495.6,1426.6 L497.6,1428.5 L499.6,1426.0 L501.6,1427.7 L503.6,1426.2 L505.6,1426.7 L507.6,1425.3 L509.6,1425.1 L511.6,1424.4 L513.6,1424.9 L515.6,1427.0 L517.6,1426.7 L519.6,1428.2 L521.6,1426.8 L523.6,1430.0 L525.6,1429.8 L527.6,1427.7 L529.6,1426.5 L531.6,1426.4 L533.6,1425.5 L535.6,1427.2 L537.6,1427.4 L539.6,1427.1 L541.6,1426.4 L543.6,1428.8 L545.6,1427.3 L547.6,1428.1 L549.6,1427.0 L551.6,1425.7 L553.6,1424.3 L555.6,1422.4 L557.6,1422.4 L559.6,1420.4 L561.6,1423.1 L563.6,1423.4 L565.6,1422.2 L567.6,1421.0 L569.6,1422.4 L571.6,1421.3 L573.6,1422.1 L575.6,1425.0 L577.6,1423.9 L579.6,1424.2 L581.6,1426.6 L583.6,1426.7 L585.6,1426.1 L587.6,1427.5 L589.6,1428.5 L591.6,1426.8 L593.6,1428.7 L595.6,1426.9 L597.6,1425.6 L599.6,1427.5 L601.6,1426.2 L603.6,1428.1 L605.6,1426.4 L607.6,1427.0 L609.6,1426.6 L611.6,1427.3 L613.6,1427.7 L615.6,1427.0 L617.6,1425.4 L619.6,1427.7 L621.6,1427.2 L623.6,1424.2 L625.6,1427.2 L627.6,1425.2 L629.6,1425.6 L631.6,1425.8 L633.6,1426.4 L635.6,1424.6 L637.6,1424.0 L639.6,1424.2 L641.6,1424.4 L643.6,1421.9 L645.6,1422.3 L647.6,1422.3 L649.6,1421.3 L651.6,1421.1 L653.6,1420.8 L655.6,1419.8 L657.6,1419.6 L659.6,1415.3 L661.6,1413.6 L663.6,1410.2 L665.6,1406.4 L667.6,1402.0 L669.6,1400.3 L671.6,1406.0 L673.6,1410.3 L675.6,1412.4 L677.6,1413.1 L679.6,1413.3 L681.6,1413.4 L683.6,1414.8 L685.6,1414.8 L687.6,1420.5 L689.6,1419.2 L691.6,1417.6 L693.6,1418.7 L695.6,1415.7 L697.6,1416.7 L699.6,1413.3 L701.6,1416.0 L703.6,1416.7 L705.6,1419.7 L707.6,1420.1 L709.6,1420.8 L711.6,1420.4 L713.6,1420.4 L715.6,1422.3 L717.6,1420.4 L719.6,1421.2 L721.6,1418.9 L723.6,1418.9 L725.6,1414.9 L727.6,1413.1 L729.6,1413.1 L731.6,1410.7 L733.6,1408.3 L735.6,1410.9 L737.6,1411.6 L739.6,1414.4 L741.6,1414.9 L743.6,1415.8 L745.6,1414.8 L747.6,1412.9 L749.6,1410.5 L751.6,1409.4 L753.6,1407.4 L755.6,1398.6 L757.6,1397.5 L759.6,1403.3 L761.6,1406.2 L763.6,1406.0 L765.6,1407.5 L767.6,1405.4 L769.6,1404.1 L771.6,1402.4 L773.6,1399.3 L775.6,1395.5 L777.6,1389.5 L779.6,1390.9 L781.6,1391.6 L783.6,1389.3 L785.6,1389.5 L787.6,1390.5 L789.6,1393.4 L791.6,1396.8 L793.6,1395.4 L795.6,1395.3 L797.6,1398.3 L799.6,1394.1 L801.6,1394.1 L803.6,1395.2 L805.6,1393.6 L807.6,1389.9 L809.6,1390.7 L811.6,1385.9 L813.6,1382.1 L815.6,1376.7 L817.6,1373.3 L819.6,1372.5 L821.6,1375.2 L823.6,1383.4 L825.6,1390.6 L827.6,1393.0 L829.6,1395.8 L831.6,1397.7 L833.6,1399.8 L835.6,1401.1 L837.6,1399.0 L839.6,1398.6 L841.6,1393.9 L843.6,1394.4 L845.6,1393.0 L847.6,1390.8 L849.6,1386.9 L851.6,1384.1 L853.6,1381.0 L855.6,1382.1 L857.6,1385.7 L859.6,1390.7 L861.6,1391.2 L863.6,1390.0 L865.6,1389.5 L867.6,1390.7 L869.6,1391.0 L871.6,1390.1 L873.6,1391.2 L875.6,1392.5 L877.6,1392.1 L879.6,1393.4 L881.6,1392.9 L883.6,1396.7 L885.6,1398.3 L887.6,1400.2 L889.6,1400.4 L891.6,1401.0 L893.6,1402.3 L895.6,1403.5 L897.6,1402.1 L899.6,1403.0 L901.6,1404.4 L903.6,1406.3 L905.6,1405.9 L907.6,1407.5 L909.6,1404.7 L911.6,1404.2 L913.6,1405.2 L915.6,1403.7 L917.6,1404.3 L919.6,1401.7 L921.6,1400.7 L923.6,1398.7 L925.6,1398.5 L927.6,1396.9 L929.6,1395.3 L931.6,1394.4 L933.6,1392.4 L935.6,1391.1 L937.6,1390.9 L939.6,1391.7 L941.6,1390.9 L943.6,1392.3 L945.6,1391.9 L947.6,1391.5 L949.6,1393.0 L951.6,1390.8 L953.6,1390.1 L955.6,1390.5 L957.6,1387.1 L959.6,1388.1 L961.6,1387.8 L963.6,1390.1 L965.6,1388.5 L967.6,1387.3 L969.6,1385.7 L971.6,1388.5 L973.6,1385.6 L975.6,1382.5 L977.6,1384.2 L979.6,1379.4 L981.6,1373.7 L983.6,1364.0 L985.6,1350.2 L987.6,1335.2 L989.6,1316.8 L991.6,1308.5 L993.6,1321.0 L995.6,1337.6 L997.6,1357.8 L999.6,1373.1 L1001.6,1387.5 L1003.6,1391.9 L1005.6,1399.4 L1007.6,1403.0 L1009.6,1407.3 L1011.6,1410.6 L1013.6,1414.3 L1015.6,1416.9 L1017.6,1420.9 L1019.6,1421.6 L1021.6,1423.2 L1023.6,1425.4 L1025.6,1428.4 L1027.6,1428.1 L1029.6,1432.6 L1031.6,1435.0 L1033.6,1433.8 L1035.6,1437.7 L1036.8,1439.6" fill="none" stroke="#111" stroke-width="3.0" stroke-linejoin="round"/>
<path d="M369.4,1480.4 L371.4,1477.1 L373.4,1476.6 L375.4,1475.2 L377.4,1475.1 L379.4,1474.7 L381.4,1476.9 L383.4,1476.7 L385.4,1474.7 L387.4,1476.8 L389.4,1477.4 L391.4,1478.8 L393.4,1477.9 L395.4,1477.1 L397.4,1476.7 L399.4,1478.2 L401.4,1479.0 L403.4,1478.7 L405.4,1477.9 L407.4,1478.3 L409.4,1476.4 L411.4,1478.6 L413.4,1479.5 L415.4,1478.0 L417.4,1478.2 L419.4,1479.4 L421.4,1478.1 L423.4,1479.8 L425.4,1478.4 L427.4,1479.1 L429.4,1477.5 L431.4,1478.4 L433.4,1479.5 L435.4,1476.2 L437.4,1479.1 L439.4,1475.2 L441.4,1477.2 L443.4,1477.9 L445.4,1476.5 L447.4,1477.3 L449.4,1478.2 L451.4,1477.0 L453.4,1474.5 L455.4,1477.3 L457.4,1477.4 L459.4,1476.3 L461.4,1476.1 L463.4,1476.0 L465.4,1474.1 L467.4,1475.3 L469.4,1477.5 L471.4,1476.7 L473.4,1476.2 L475.4,1474.9 L477.4,1475.0 L479.4,1475.9 L481.4,1475.4 L483.4,1475.3 L485.4,1474.6 L487.4,1475.8 L489.4,1474.9 L491.4,1476.0 L493.4,1478.0 L495.4,1475.7 L497.4,1478.5 L499.4,1476.9 L501.4,1475.3 L503.4,1476.6 L505.4,1476.6 L507.4,1478.7 L509.4,1478.6 L511.4,1479.8 L513.4,1476.7 L515.4,1476.6 L517.4,1476.5 L519.4,1478.1 L521.4,1476.9 L523.4,1475.7 L525.4,1474.0 L527.4,1476.3 L529.4,1471.6 L531.4,1472.5 L533.4,1472.3 L535.4,1473.3 L537.4,1472.0 L539.4,1476.3 L541.4,1476.2 L543.4,1476.5 L545.4,1477.3 L547.4,1478.0 L549.4,1477.5 L551.4,1479.0 L553.4,1477.1 L555.4,1478.6 L557.4,1480.2 L559.4,1478.4 L561.4,1479.2 L563.4,1479.0 L565.4,1476.1 L567.4,1479.4 L569.4,1478.0 L571.4,1479.0 L573.4,1479.3 L575.4,1478.6 L577.4,1478.3 L579.4,1476.4 L581.4,1478.2 L583.4,1476.9 L585.4,1476.6 L587.4,1476.5 L589.4,1473.6 L591.4,1475.2 L593.4,1475.2 L595.4,1473.0 L597.4,1471.4 L599.4,1475.8 L601.4,1474.8 L603.4,1475.2 L605.4,1475.5 L607.4,1475.5 L609.4,1476.0 L611.4,1477.2 L613.4,1477.0 L615.4,1475.6 L617.4,1473.2 L619.4,1472.0 L621.4,1468.0 L623.4,1463.5 L625.4,1457.0 L627.4,1449.6 L629.4,1447.1 L631.4,1445.4 L633.4,1450.8 L635.4,1456.2 L637.4,1463.5 L639.4,1466.2 L641.4,1469.0 L643.4,1470.3 L645.4,1471.3 L647.4,1475.7 L649.4,1477.3 L651.4,1475.6 L653.4,1474.3 L655.4,1472.4 L657.4,1469.8 L659.4,1469.7 L661.4,1466.9 L663.4,1467.6 L665.4,1469.5 L667.4,1471.6 L669.4,1476.3 L671.4,1474.1 L673.4,1473.4 L675.4,1475.8 L677.4,1475.0 L679.4,1473.9 L681.4,1473.2 L683.4,1472.7 L685.4,1473.1 L687.4,1473.7 L689.4,1470.8 L691.4,1471.4 L693.4,1467.9 L695.4,1467.1 L697.4,1463.5 L699.4,1463.4 L701.4,1463.1 L703.4,1463.5 L705.4,1464.8 L707.4,1465.6 L709.4,1467.2 L711.4,1470.2 L713.4,1468.6 L715.4,1469.0 L717.4,1467.4 L719.4,1464.3 L721.4,1462.7 L723.4,1459.5 L725.4,1457.0 L727.4,1455.4 L729.4,1454.3 L731.4,1453.8 L733.4,1456.5 L735.4,1454.2 L737.4,1454.0 L739.4,1454.4 L741.4,1448.5 L743.4,1446.1 L745.4,1440.6 L747.4,1439.6 L749.4,1439.3 L751.4,1440.1 L753.4,1442.8 L755.4,1445.7 L757.4,1448.5 L759.4,1451.5 L761.4,1454.0 L763.4,1454.5 L765.4,1453.1 L767.4,1453.9 L769.4,1451.5 L771.4,1448.9 L773.4,1448.8 L775.4,1446.3 L777.4,1441.2 L779.4,1432.8 L781.4,1423.6 L783.4,1419.8 L785.4,1417.3 L787.4,1416.0 L789.4,1424.8 L791.4,1433.8 L793.4,1438.0 L795.4,1443.0 L797.4,1447.5 L799.4,1450.8 L801.4,1450.3 L803.4,1450.1 L805.4,1446.8 L807.4,1442.8 L809.4,1440.8 L811.4,1438.4 L813.4,1439.3 L815.4,1442.0 L817.4,1444.9 L819.4,1444.5 L821.4,1445.2 L823.4,1448.4 L825.4,1446.3 L827.4,1448.0 L829.4,1447.8 L831.4,1448.1 L833.4,1447.8 L835.4,1447.0 L837.4,1449.6 L839.4,1449.4 L841.4,1449.7 L843.4,1452.2 L845.4,1452.5 L847.4,1457.1 L849.4,1456.4 L851.4,1456.0 L853.4,1458.1 L855.4,1458.9 L857.4,1459.9 L859.4,1461.1 L861.4,1462.6 L863.4,1463.9 L865.4,1463.7 L867.4,1462.8 L869.4,1462.3 L871.4,1461.7 L873.4,1459.0 L875.4,1460.6 L877.4,1460.9 L879.4,1458.7 L881.4,1460.4 L883.4,1460.6 L885.4,1461.9 L887.4,1463.6 L889.4,1463.2 L891.4,1461.5 L893.4,1462.2 L895.4,1460.3 L897.4,1460.3 L899.4,1456.5 L901.4,1454.5 L903.4,1454.0 L905.4,1452.7 L907.4,1450.5 L909.4,1450.2 L911.4,1449.2 L913.4,1448.4 L915.4,1448.1 L917.4,1449.6 L919.4,1449.8 L921.4,1451.5 L923.4,1449.5 L925.4,1450.3 L927.4,1450.8 L929.4,1453.3 L931.4,1451.3 L933.4,1452.6 L935.4,1447.2 L937.4,1447.9 L939.4,1449.6 L941.4,1444.8 L943.4,1444.4 L945.4,1440.5 L947.4,1438.0 L949.4,1438.2 L951.4,1436.1 L953.4,1433.9 L955.4,1433.4 L957.4,1426.6 L959.4,1420.3 L961.4,1406.9 L963.4,1392.3 L965.4,1375.9 L967.4,1370.2 L969.4,1386.6 L971.4,1402.7 L973.4,1422.5 L975.4,1435.8 L977.4,1447.3 L979.4,1455.7 L981.4,1462.2 L983.4,1463.9 L985.4,1469.7 L987.4,1472.0 L989.4,1474.1 L991.4,1477.6 L993.4,1480.5 L995.4,1482.9 L997.4,1483.8 L999.4,1487.1 L1001.4,1488.4 L1003.4,1488.9 L1005.4,1491.9 L1007.4,1493.8 L1009.4,1493.7 L1011.4,1497.6 L1012.9,1498.8 L1012.9,1629.3 L369.4,1629.3 Z" fill="#fff" stroke="none"/>
<path d="M369.4,1480.4 L371.4,1477.1 L373.4,1476.6 L375.4,1475.2 L377.4,1475.1 L379.4,1474.7 L381.4,1476.9 L383.4,1476.7 L385.4,1474.7 L387.4,1476.8 L389.4,1477.4 L391.4,1478.8 L393.4,1477.9 L395.4,1477.1 L397.4,1476.7 L399.4,1478.2 L401.4,1479.0 L403.4,1478.7 L405.4,1477.9 L407.4,1478.3 L409.4,1476.4 L411.4,1478.6 L413.4,1479.5 L415.4,1478.0 L417.4,1478.2 L419.4,1479.4 L421.4,1478.1 L423.4,1479.8 L425.4,1478.4 L427.4,1479.1 L429.4,1477.5 L431.4,1478.4 L433.4,1479.5 L435.4,1476.2 L437.4,1479.1 L439.4,1475.2 L441.4,1477.2 L443.4,1477.9 L445.4,1476.5 L447.4,1477.3 L449.4,1478.2 L451.4,1477.0 L453.4,1474.5 L455.4,1477.3 L457.4,1477.4 L459.4,1476.3 L461.4,1476.1 L463.4,1476.0 L465.4,1474.1 L467.4,1475.3 L469.4,1477.5 L471.4,1476.7 L473.4,1476.2 L475.4,1474.9 L477.4,1475.0 L479.4,1475.9 L481.4,1475.4 L483.4,1475.3 L485.4,1474.6 L487.4,1475.8 L489.4,1474.9 L491.4,1476.0 L493.4,1478.0 L495.4,1475.7 L497.4,1478.5 L499.4,1476.9 L501.4,1475.3 L503.4,1476.6 L505.4,1476.6 L507.4,1478.7 L509.4,1478.6 L511.4,1479.8 L513.4,1476.7 L515.4,1476.6 L517.4,1476.5 L519.4,1478.1 L521.4,1476.9 L523.4,1475.7 L525.4,1474.0 L527.4,1476.3 L529.4,1471.6 L531.4,1472.5 L533.4,1472.3 L535.4,1473.3 L537.4,1472.0 L539.4,1476.3 L541.4,1476.2 L543.4,1476.5 L545.4,1477.3 L547.4,1478.0 L549.4,1477.5 L551.4,1479.0 L553.4,1477.1 L555.4,1478.6 L557.4,1480.2 L559.4,1478.4 L561.4,1479.2 L563.4,1479.0 L565.4,1476.1 L567.4,1479.4 L569.4,1478.0 L571.4,1479.0 L573.4,1479.3 L575.4,1478.6 L577.4,1478.3 L579.4,1476.4 L581.4,1478.2 L583.4,1476.9 L585.4,1476.6 L587.4,1476.5 L589.4,1473.6 L591.4,1475.2 L593.4,1475.2 L595.4,1473.0 L597.4,1471.4 L599.4,1475.8 L601.4,1474.8 L603.4,1475.2 L605.4,1475.5 L607.4,1475.5 L609.4,1476.0 L611.4,1477.2 L613.4,1477.0 L615.4,1475.6 L617.4,1473.2 L619.4,1472.0 L621.4,1468.0 L623.4,1463.5 L625.4,1457.0 L627.4,1449.6 L629.4,1447.1 L631.4,1445.4 L633.4,1450.8 L635.4,1456.2 L637.4,1463.5 L639.4,1466.2 L641.4,1469.0 L643.4,1470.3 L645.4,1471.3 L647.4,1475.7 L649.4,1477.3 L651.4,1475.6 L653.4,1474.3 L655.4,1472.4 L657.4,1469.8 L659.4,1469.7 L661.4,1466.9 L663.4,1467.6 L665.4,1469.5 L667.4,1471.6 L669.4,1476.3 L671.4,1474.1 L673.4,1473.4 L675.4,1475.8 L677.4,1475.0 L679.4,1473.9 L681.4,1473.2 L683.4,1472.7 L685.4,1473.1 L687.4,1473.7 L689.4,1470.8 L691.4,1471.4 L693.4,1467.9 L695.4,1467.1 L697.4,1463.5 L699.4,1463.4 L701.4,1463.1 L703.4,1463.5 L705.4,1464.8 L707.4,1465.6 L709.4,1467.2 L711.4,1470.2 L713.4,1468.6 L715.4,1469.0 L717.4,1467.4 L719.4,1464.3 L721.4,1462.7 L723.4,1459.5 L725.4,1457.0 L727.4,1455.4 L729.4,1454.3 L731.4,1453.8 L733.4,1456.5 L735.4,1454.2 L737.4,1454.0 L739.4,1454.4 L741.4,1448.5 L743.4,1446.1 L745.4,1440.6 L747.4,1439.6 L749.4,1439.3 L751.4,1440.1 L753.4,1442.8 L755.4,1445.7 L757.4,1448.5 L759.4,1451.5 L761.4,1454.0 L763.4,1454.5 L765.4,1453.1 L767.4,1453.9 L769.4,1451.5 L771.4,1448.9 L773.4,1448.8 L775.4,1446.3 L777.4,1441.2 L779.4,1432.8 L781.4,1423.6 L783.4,1419.8 L785.4,1417.3 L787.4,1416.0 L789.4,1424.8 L791.4,1433.8 L793.4,1438.0 L795.4,1443.0 L797.4,1447.5 L799.4,1450.8 L801.4,1450.3 L803.4,1450.1 L805.4,1446.8 L807.4,1442.8 L809.4,1440.8 L811.4,1438.4 L813.4,1439.3 L815.4,1442.0 L817.4,1444.9 L819.4,1444.5 L821.4,1445.2 L823.4,1448.4 L825.4,1446.3 L827.4,1448.0 L829.4,1447.8 L831.4,1448.1 L833.4,1447.8 L835.4,1447.0 L837.4,1449.6 L839.4,1449.4 L841.4,1449.7 L843.4,1452.2 L845.4,1452.5 L847.4,1457.1 L849.4,1456.4 L851.4,1456.0 L853.4,1458.1 L855.4,1458.9 L857.4,1459.9 L859.4,1461.1 L861.4,1462.6 L863.4,1463.9 L865.4,1463.7 L867.4,1462.8 L869.4,1462.3 L871.4,1461.7 L873.4,1459.0 L875.4,1460.6 L877.4,1460.9 L879.4,1458.7 L881.4,1460.4 L883.4,1460.6 L885.4,1461.9 L887.4,1463.6 L889.4,1463.2 L891.4,1461.5 L893.4,1462.2 L895.4,1460.3 L897.4,1460.3 L899.4,1456.5 L901.4,1454.5 L903.4,1454.0 L905.4,1452.7 L907.4,1450.5 L909.4,1450.2 L911.4,1449.2 L913.4,1448.4 L915.4,1448.1 L917.4,1449.6 L919.4,1449.8 L921.4,1451.5 L923.4,1449.5 L925.4,1450.3 L927.4,1450.8 L929.4,1453.3 L931.4,1451.3 L933.4,1452.6 L935.4,1447.2 L937.4,1447.9 L939.4,1449.6 L941.4,1444.8 L943.4,1444.4 L945.4,1440.5 L947.4,1438.0 L949.4,1438.2 L951.4,1436.1 L953.4,1433.9 L955.4,1433.4 L957.4,1426.6 L959.4,1420.3 L961.4,1406.9 L963.4,1392.3 L965.4,1375.9 L967.4,1370.2 L969.4,1386.6 L971.4,1402.7 L973.4,1422.5 L975.4,1435.8 L977.4,1447.3 L979.4,1455.7 L981.4,1462.2 L983.4,1463.9 L985.4,1469.7 L987.4,1472.0 L989.4,1474.1 L991.4,1477.6 L993.4,1480.5 L995.4,1482.9 L997.4,1483.8 L999.4,1487.1 L1001.4,1488.4 L1003.4,1488.9 L1005.4,1491.9 L1007.4,1493.8 L1009.4,1493.7 L1011.4,1497.6 L1012.9,1498.8" fill="none" stroke="#111" stroke-width="3.0" stroke-linejoin="round"/>
<path d="M317.3,1499.7 L319.3,1499.0 L321.3,1498.1 L323.3,1500.1 L325.3,1499.8 L327.3,1497.9 L329.3,1498.7 L331.3,1497.8 L333.3,1497.7 L335.3,1501.2 L337.3,1498.8 L339.3,1500.0 L341.3,1499.7 L343.3,1499.4 L345.3,1498.2 L347.3,1498.3 L349.3,1500.0 L351.3,1500.8 L353.3,1497.6 L355.3,1498.7 L357.3,1499.6 L359.3,1501.0 L361.3,1500.5 L363.3,1500.9 L365.3,1500.4 L367.3,1499.3 L369.3,1500.5 L371.3,1502.3 L373.3,1501.5 L375.3,1500.3 L377.3,1503.7 L379.3,1503.1 L381.3,1503.9 L383.3,1505.8 L385.3,1503.5 L387.3,1503.9 L389.3,1502.4 L391.3,1505.9 L393.3,1506.9 L395.3,1506.6 L397.3,1507.1 L399.3,1508.6 L401.3,1508.3 L403.3,1508.7 L405.3,1508.4 L407.3,1508.6 L409.3,1510.0 L411.3,1508.9 L413.3,1508.7 L415.3,1508.8 L417.3,1509.4 L419.3,1510.0 L421.3,1510.5 L423.3,1510.2 L425.3,1509.9 L427.3,1508.5 L429.3,1511.2 L431.3,1509.5 L433.3,1510.6 L435.3,1512.2 L437.3,1511.3 L439.3,1510.2 L441.3,1512.0 L443.3,1510.9 L445.3,1510.8 L447.3,1512.7 L449.3,1512.1 L451.3,1515.0 L453.3,1510.2 L455.3,1511.3 L457.3,1511.5 L459.3,1512.2 L461.3,1510.0 L463.3,1511.5 L465.3,1509.4 L467.3,1507.8 L469.3,1507.8 L471.3,1507.3 L473.3,1506.6 L475.3,1505.5 L477.3,1505.4 L479.3,1506.2 L481.3,1505.6 L483.3,1506.4 L485.3,1503.1 L487.3,1502.7 L489.3,1506.2 L491.3,1504.7 L493.3,1505.3 L495.3,1504.8 L497.3,1507.2 L499.3,1507.8 L501.3,1508.6 L503.3,1510.6 L505.3,1508.6 L507.3,1509.7 L509.3,1507.6 L511.3,1510.0 L513.3,1508.3 L515.3,1511.5 L517.3,1508.0 L519.3,1511.3 L521.3,1508.6 L523.3,1507.7 L525.3,1509.8 L527.3,1509.8 L529.3,1508.4 L531.3,1508.1 L533.3,1506.8 L535.3,1509.1 L537.3,1509.9 L539.3,1507.1 L541.3,1509.0 L543.3,1509.7 L545.3,1504.9 L547.3,1506.5 L549.3,1505.7 L551.3,1504.1 L553.3,1505.3 L555.3,1503.9 L557.3,1506.0 L559.3,1507.8 L561.3,1506.2 L563.3,1506.4 L565.3,1505.3 L567.3,1510.1 L569.3,1510.5 L571.3,1508.0 L573.3,1508.6 L575.3,1507.3 L577.3,1506.9 L579.3,1501.1 L581.3,1500.7 L583.3,1493.2 L585.3,1489.4 L587.3,1480.8 L589.3,1479.6 L591.3,1479.4 L593.3,1480.0 L595.3,1482.5 L597.3,1484.6 L599.3,1491.3 L601.3,1495.1 L603.3,1497.8 L605.3,1501.0 L607.3,1505.7 L609.3,1505.6 L611.3,1503.9 L613.3,1502.6 L615.3,1500.8 L617.3,1497.3 L619.3,1494.2 L621.3,1490.7 L623.3,1491.8 L625.3,1494.9 L627.3,1501.7 L629.3,1505.6 L631.3,1507.3 L633.3,1507.8 L635.3,1507.3 L637.3,1507.4 L639.3,1508.2 L641.3,1508.6 L643.3,1505.8 L645.3,1507.3 L647.3,1506.5 L649.3,1503.1 L651.3,1502.4 L653.3,1499.4 L655.3,1497.7 L657.3,1496.1 L659.3,1496.5 L661.3,1498.2 L663.3,1500.1 L665.3,1497.6 L667.3,1495.7 L669.3,1499.5 L671.3,1498.3 L673.3,1499.4 L675.3,1497.4 L677.3,1499.1 L679.3,1498.5 L681.3,1496.7 L683.3,1497.6 L685.3,1498.0 L687.3,1496.7 L689.3,1498.7 L691.3,1496.5 L693.3,1496.9 L695.3,1494.2 L697.3,1493.5 L699.3,1491.7 L701.3,1486.3 L703.3,1484.7 L705.3,1481.9 L707.3,1476.6 L709.3,1475.0 L711.3,1471.9 L713.3,1467.8 L715.3,1468.9 L717.3,1471.3 L719.3,1473.4 L721.3,1480.3 L723.3,1483.5 L725.3,1486.2 L727.3,1487.1 L729.3,1487.2 L731.3,1486.9 L733.3,1487.9 L735.3,1485.0 L737.3,1485.6 L739.3,1485.6 L741.3,1479.6 L743.3,1477.2 L745.3,1472.8 L747.3,1464.1 L749.3,1455.6 L751.3,1449.2 L753.3,1448.6 L755.3,1461.3 L757.3,1467.9 L759.3,1471.6 L761.3,1474.2 L763.3,1476.8 L765.3,1477.6 L767.3,1477.1 L769.3,1477.5 L771.3,1480.3 L773.3,1478.0 L775.3,1478.2 L777.3,1477.5 L779.3,1477.1 L781.3,1477.4 L783.3,1475.1 L785.3,1475.1 L787.3,1474.1 L789.3,1473.1 L791.3,1470.9 L793.3,1471.2 L795.3,1472.5 L797.3,1471.1 L799.3,1471.8 L801.3,1473.5 L803.3,1474.5 L805.3,1477.3 L807.3,1480.9 L809.3,1481.9 L811.3,1483.3 L813.3,1486.9 L815.3,1488.3 L817.3,1488.7 L819.3,1489.0 L821.3,1492.6 L823.3,1493.2 L825.3,1492.1 L827.3,1493.7 L829.3,1494.0 L831.3,1493.9 L833.3,1497.9 L835.3,1498.2 L837.3,1494.1 L839.3,1497.0 L841.3,1496.0 L843.3,1496.2 L845.3,1496.5 L847.3,1496.2 L849.3,1494.8 L851.3,1493.7 L853.3,1494.6 L855.3,1495.3 L857.3,1491.4 L859.3,1491.1 L861.3,1490.2 L863.3,1487.9 L865.3,1487.2 L867.3,1488.4 L869.3,1488.7 L871.3,1489.5 L873.3,1490.9 L875.3,1489.9 L877.3,1488.6 L879.3,1483.3 L881.3,1479.8 L883.3,1477.7 L885.3,1475.6 L887.3,1474.8 L889.3,1470.9 L891.3,1468.8 L893.3,1470.8 L895.3,1468.3 L897.3,1469.9 L899.3,1469.2 L901.3,1469.8 L903.3,1468.2 L905.3,1470.4 L907.3,1470.1 L909.3,1470.0 L911.3,1472.9 L913.3,1474.4 L915.3,1477.0 L917.3,1479.6 L919.3,1476.3 L921.3,1478.1 L923.3,1474.0 L925.3,1470.9 L927.3,1469.1 L929.3,1464.3 L931.3,1453.7 L933.3,1443.7 L935.3,1430.7 L937.3,1417.5 L939.3,1407.6 L941.3,1401.0 L943.3,1407.6 L945.3,1423.5 L947.3,1442.4 L949.3,1458.7 L951.3,1471.6 L953.3,1481.7 L955.3,1490.7 L957.3,1496.8 L959.3,1503.2 L961.3,1509.5 L963.3,1514.6 L965.3,1516.7 L967.3,1521.5 L969.3,1524.8 L971.3,1527.5 L973.3,1527.8 L975.3,1531.4 L977.3,1529.8 L979.3,1530.2 L981.3,1532.5 L983.3,1534.1 L985.3,1536.8 L987.0,1539.5 L987.0,1689.7 L317.3,1689.7 Z" fill="#fff" stroke="none"/>
<path d="M317.3,1499.7 L319.3,1499.0 L321.3,1498.1 L323.3,1500.1 L325.3,1499.8 L327.3,1497.9 L329.3,1498.7 L331.3,1497.8 L333.3,1497.7 L335.3,1501.2 L337.3,1498.8 L339.3,1500.0 L341.3,1499.7 L343.3,1499.4 L345.3,1498.2 L347.3,1498.3 L349.3,1500.0 L351.3,1500.8 L353.3,1497.6 L355.3,1498.7 L357.3,1499.6 L359.3,1501.0 L361.3,1500.5 L363.3,1500.9 L365.3,1500.4 L367.3,1499.3 L369.3,1500.5 L371.3,1502.3 L373.3,1501.5 L375.3,1500.3 L377.3,1503.7 L379.3,1503.1 L381.3,1503.9 L383.3,1505.8 L385.3,1503.5 L387.3,1503.9 L389.3,1502.4 L391.3,1505.9 L393.3,1506.9 L395.3,1506.6 L397.3,1507.1 L399.3,1508.6 L401.3,1508.3 L403.3,1508.7 L405.3,1508.4 L407.3,1508.6 L409.3,1510.0 L411.3,1508.9 L413.3,1508.7 L415.3,1508.8 L417.3,1509.4 L419.3,1510.0 L421.3,1510.5 L423.3,1510.2 L425.3,1509.9 L427.3,1508.5 L429.3,1511.2 L431.3,1509.5 L433.3,1510.6 L435.3,1512.2 L437.3,1511.3 L439.3,1510.2 L441.3,1512.0 L443.3,1510.9 L445.3,1510.8 L447.3,1512.7 L449.3,1512.1 L451.3,1515.0 L453.3,1510.2 L455.3,1511.3 L457.3,1511.5 L459.3,1512.2 L461.3,1510.0 L463.3,1511.5 L465.3,1509.4 L467.3,1507.8 L469.3,1507.8 L471.3,1507.3 L473.3,1506.6 L475.3,1505.5 L477.3,1505.4 L479.3,1506.2 L481.3,1505.6 L483.3,1506.4 L485.3,1503.1 L487.3,1502.7 L489.3,1506.2 L491.3,1504.7 L493.3,1505.3 L495.3,1504.8 L497.3,1507.2 L499.3,1507.8 L501.3,1508.6 L503.3,1510.6 L505.3,1508.6 L507.3,1509.7 L509.3,1507.6 L511.3,1510.0 L513.3,1508.3 L515.3,1511.5 L517.3,1508.0 L519.3,1511.3 L521.3,1508.6 L523.3,1507.7 L525.3,1509.8 L527.3,1509.8 L529.3,1508.4 L531.3,1508.1 L533.3,1506.8 L535.3,1509.1 L537.3,1509.9 L539.3,1507.1 L541.3,1509.0 L543.3,1509.7 L545.3,1504.9 L547.3,1506.5 L549.3,1505.7 L551.3,1504.1 L553.3,1505.3 L555.3,1503.9 L557.3,1506.0 L559.3,1507.8 L561.3,1506.2 L563.3,1506.4 L565.3,1505.3 L567.3,1510.1 L569.3,1510.5 L571.3,1508.0 L573.3,1508.6 L575.3,1507.3 L577.3,1506.9 L579.3,1501.1 L581.3,1500.7 L583.3,1493.2 L585.3,1489.4 L587.3,1480.8 L589.3,1479.6 L591.3,1479.4 L593.3,1480.0 L595.3,1482.5 L597.3,1484.6 L599.3,1491.3 L601.3,1495.1 L603.3,1497.8 L605.3,1501.0 L607.3,1505.7 L609.3,1505.6 L611.3,1503.9 L613.3,1502.6 L615.3,1500.8 L617.3,1497.3 L619.3,1494.2 L621.3,1490.7 L623.3,1491.8 L625.3,1494.9 L627.3,1501.7 L629.3,1505.6 L631.3,1507.3 L633.3,1507.8 L635.3,1507.3 L637.3,1507.4 L639.3,1508.2 L641.3,1508.6 L643.3,1505.8 L645.3,1507.3 L647.3,1506.5 L649.3,1503.1 L651.3,1502.4 L653.3,1499.4 L655.3,1497.7 L657.3,1496.1 L659.3,1496.5 L661.3,1498.2 L663.3,1500.1 L665.3,1497.6 L667.3,1495.7 L669.3,1499.5 L671.3,1498.3 L673.3,1499.4 L675.3,1497.4 L677.3,1499.1 L679.3,1498.5 L681.3,1496.7 L683.3,1497.6 L685.3,1498.0 L687.3,1496.7 L689.3,1498.7 L691.3,1496.5 L693.3,1496.9 L695.3,1494.2 L697.3,1493.5 L699.3,1491.7 L701.3,1486.3 L703.3,1484.7 L705.3,1481.9 L707.3,1476.6 L709.3,1475.0 L711.3,1471.9 L713.3,1467.8 L715.3,1468.9 L717.3,1471.3 L719.3,1473.4 L721.3,1480.3 L723.3,1483.5 L725.3,1486.2 L727.3,1487.1 L729.3,1487.2 L731.3,1486.9 L733.3,1487.9 L735.3,1485.0 L737.3,1485.6 L739.3,1485.6 L741.3,1479.6 L743.3,1477.2 L745.3,1472.8 L747.3,1464.1 L749.3,1455.6 L751.3,1449.2 L753.3,1448.6 L755.3,1461.3 L757.3,1467.9 L759.3,1471.6 L761.3,1474.2 L763.3,1476.8 L765.3,1477.6 L767.3,1477.1 L769.3,1477.5 L771.3,1480.3 L773.3,1478.0 L775.3,1478.2 L777.3,1477.5 L779.3,1477.1 L781.3,1477.4 L783.3,1475.1 L785.3,1475.1 L787.3,1474.1 L789.3,1473.1 L791.3,1470.9 L793.3,1471.2 L795.3,1472.5 L797.3,1471.1 L799.3,1471.8 L801.3,1473.5 L803.3,1474.5 L805.3,1477.3 L807.3,1480.9 L809.3,1481.9 L811.3,1483.3 L813.3,1486.9 L815.3,1488.3 L817.3,1488.7 L819.3,1489.0 L821.3,1492.6 L823.3,1493.2 L825.3,1492.1 L827.3,1493.7 L829.3,1494.0 L831.3,1493.9 L833.3,1497.9 L835.3,1498.2 L837.3,1494.1 L839.3,1497.0 L841.3,1496.0 L843.3,1496.2 L845.3,1496.5 L847.3,1496.2 L849.3,1494.8 L851.3,1493.7 L853.3,1494.6 L855.3,1495.3 L857.3,1491.4 L859.3,1491.1 L861.3,1490.2 L863.3,1487.9 L865.3,1487.2 L867.3,1488.4 L869.3,1488.7 L871.3,1489.5 L873.3,1490.9 L875.3,1489.9 L877.3,1488.6 L879.3,1483.3 L881.3,1479.8 L883.3,1477.7 L885.3,1475.6 L887.3,1474.8 L889.3,1470.9 L891.3,1468.8 L893.3,1470.8 L895.3,1468.3 L897.3,1469.9 L899.3,1469.2 L901.3,1469.8 L903.3,1468.2 L905.3,1470.4 L907.3,1470.1 L909.3,1470.0 L911.3,1472.9 L913.3,1474.4 L915.3,1477.0 L917.3,1479.6 L919.3,1476.3 L921.3,1478.1 L923.3,1474.0 L925.3,1470.9 L927.3,1469.1 L929.3,1464.3 L931.3,1453.7 L933.3,1443.7 L935.3,1430.7 L937.3,1417.5 L939.3,1407.6 L941.3,1401.0 L943.3,1407.6 L945.3,1423.5 L947.3,1442.4 L949.3,1458.7 L951.3,1471.6 L953.3,1481.7 L955.3,1490.7 L957.3,1496.8 L959.3,1503.2 L961.3,1509.5 L963.3,1514.6 L965.3,1516.7 L967.3,1521.5 L969.3,1524.8 L971.3,1527.5 L973.3,1527.8 L975.3,1531.4 L977.3,1529.8 L979.3,1530.2 L981.3,1532.5 L983.3,1534.1 L985.3,1536.8 L987.0,1539.5" fill="none" stroke="#111" stroke-width="3.0" stroke-linejoin="round"/>
<path d="M260.7,1578.1 L262.7,1576.4 L264.7,1579.4 L266.7,1577.8 L268.7,1577.4 L270.7,1576.8 L272.7,1578.9 L274.7,1576.5 L276.7,1578.5 L278.7,1577.0 L280.7,1577.6 L282.7,1577.2 L284.7,1578.1 L286.7,1578.2 L288.7,1575.9 L290.7,1578.3 L292.7,1577.8 L294.7,1578.1 L296.7,1578.5 L298.7,1574.9 L300.7,1578.7 L302.7,1574.5 L304.7,1575.5 L306.7,1576.6 L308.7,1577.3 L310.7,1576.6 L312.7,1576.2 L314.7,1576.3 L316.7,1574.2 L318.7,1575.4 L320.7,1578.2 L322.7,1572.2 L324.7,1574.8 L326.7,1574.8 L328.7,1573.7 L330.7,1574.4 L332.7,1574.4 L334.7,1573.7 L336.7,1573.3 L338.7,1571.0 L340.7,1571.6 L342.7,1569.2 L344.7,1568.3 L346.7,1572.9 L348.7,1571.2 L350.7,1573.2 L352.7,1573.2 L354.7,1577.2 L356.7,1575.9 L358.7,1576.3 L360.7,1577.9 L362.7,1577.7 L364.7,1576.1 L366.7,1577.6 L368.7,1577.4 L370.7,1576.7 L372.7,1575.6 L374.7,1577.2 L376.7,1574.8 L378.7,1577.0 L380.7,1576.5 L382.7,1574.9 L384.7,1575.1 L386.7,1579.2 L388.7,1573.8 L390.7,1576.2 L392.7,1575.7 L394.7,1576.6 L396.7,1576.4 L398.7,1577.1 L400.7,1576.9 L402.7,1576.0 L404.7,1574.4 L406.7,1575.7 L408.7,1576.7 L410.7,1576.8 L412.7,1577.5 L414.7,1576.0 L416.7,1574.9 L418.7,1575.7 L420.7,1576.8 L422.7,1577.7 L424.7,1577.8 L426.7,1577.6 L428.7,1575.3 L430.7,1576.4 L432.7,1577.6 L434.7,1577.5 L436.7,1578.2 L438.7,1575.9 L440.7,1578.1 L442.7,1574.3 L444.7,1577.0 L446.7,1577.8 L448.7,1577.4 L450.7,1579.0 L452.7,1577.8 L454.7,1578.2 L456.7,1579.1 L458.7,1577.3 L460.7,1580.3 L462.7,1577.9 L464.7,1579.5 L466.7,1579.2 L468.7,1578.7 L470.7,1579.5 L472.7,1579.9 L474.7,1579.2 L476.7,1582.5 L478.7,1579.0 L480.7,1580.4 L482.7,1581.9 L484.7,1581.4 L486.7,1582.2 L488.7,1579.3 L490.7,1581.0 L492.7,1581.5 L494.7,1583.1 L496.7,1580.8 L498.7,1581.8 L500.7,1584.2 L502.7,1582.6 L504.7,1582.7 L506.7,1582.2 L508.7,1583.7 L510.7,1580.1 L512.7,1581.2 L514.7,1581.3 L516.7,1581.6 L518.7,1580.9 L520.7,1577.8 L522.7,1579.7 L524.7,1577.7 L526.7,1580.6 L528.7,1575.0 L530.7,1574.2 L532.7,1569.9 L534.7,1568.0 L536.7,1565.0 L538.7,1564.4 L540.7,1562.7 L542.7,1558.6 L544.7,1560.8 L546.7,1561.6 L548.7,1563.1 L550.7,1561.8 L552.7,1565.3 L554.7,1563.9 L556.7,1567.9 L558.7,1569.6 L560.7,1572.3 L562.7,1575.8 L564.7,1576.1 L566.7,1578.8 L568.7,1574.3 L570.7,1572.0 L572.7,1572.9 L574.7,1570.9 L576.7,1570.1 L578.7,1573.1 L580.7,1574.8 L582.7,1573.2 L584.7,1576.3 L586.7,1579.6 L588.7,1578.1 L590.7,1580.7 L592.7,1576.7 L594.7,1574.6 L596.7,1571.4 L598.7,1567.3 L600.7,1567.0 L602.7,1567.1 L604.7,1570.2 L606.7,1573.5 L608.7,1572.9 L610.7,1571.8 L612.7,1572.3 L614.7,1573.6 L616.7,1571.6 L618.7,1570.9 L620.7,1572.0 L622.7,1570.3 L624.7,1569.3 L626.7,1572.7 L628.7,1569.0 L630.7,1570.4 L632.7,1570.6 L634.7,1569.5 L636.7,1571.9 L638.7,1571.7 L640.7,1569.5 L642.7,1565.5 L644.7,1565.1 L646.7,1559.3 L648.7,1558.6 L650.7,1555.9 L652.7,1553.0 L654.7,1553.1 L656.7,1551.5 L658.7,1549.9 L660.7,1550.2 L662.7,1551.8 L664.7,1547.7 L666.7,1550.4 L668.7,1548.4 L670.7,1552.6 L672.7,1547.9 L674.7,1547.0 L676.7,1551.0 L678.7,1551.7 L680.7,1550.9 L682.7,1552.9 L684.7,1553.0 L686.7,1555.8 L688.7,1558.2 L690.7,1558.3 L692.7,1558.1 L694.7,1557.1 L696.7,1558.4 L698.7,1558.2 L700.7,1556.4 L702.7,1551.3 L704.7,1551.1 L706.7,1545.6 L708.7,1540.4 L710.7,1534.0 L712.7,1529.4 L714.7,1527.1 L716.7,1533.9 L718.7,1539.3 L720.7,1545.7 L722.7,1546.0 L724.7,1548.8 L726.7,1548.6 L728.7,1545.8 L730.7,1548.4 L732.7,1549.0 L734.7,1545.7 L736.7,1548.8 L738.7,1548.8 L740.7,1550.1 L742.7,1553.5 L744.7,1553.9 L746.7,1552.2 L748.7,1551.5 L750.7,1552.6 L752.7,1549.2 L754.7,1547.7 L756.7,1547.4 L758.7,1545.7 L760.7,1545.7 L762.7,1547.2 L764.7,1543.6 L766.7,1548.2 L768.7,1546.8 L770.7,1550.8 L772.7,1554.4 L774.7,1558.0 L776.7,1554.5 L778.7,1559.0 L780.7,1555.9 L782.7,1554.6 L784.7,1553.4 L786.7,1554.0 L788.7,1554.8 L790.7,1553.6 L792.7,1554.5 L794.7,1556.8 L796.7,1557.4 L798.7,1560.1 L800.7,1564.3 L802.7,1560.8 L804.7,1561.0 L806.7,1561.3 L808.7,1560.4 L810.7,1559.3 L812.7,1558.3 L814.7,1558.0 L816.7,1559.8 L818.7,1558.3 L820.7,1557.2 L822.7,1556.0 L824.7,1557.1 L826.7,1557.3 L828.7,1556.1 L830.7,1555.9 L832.7,1557.7 L834.7,1556.6 L836.7,1556.6 L838.7,1557.3 L840.7,1555.3 L842.7,1550.9 L844.7,1550.4 L846.7,1545.4 L848.7,1542.6 L850.7,1543.3 L852.7,1544.9 L854.7,1544.4 L856.7,1542.1 L858.7,1543.8 L860.7,1545.1 L862.7,1545.0 L864.7,1546.1 L866.7,1544.5 L868.7,1542.9 L870.7,1543.5 L872.7,1540.9 L874.7,1540.9 L876.7,1534.6 L878.7,1535.5 L880.7,1532.3 L882.7,1534.9 L884.7,1535.7 L886.7,1535.3 L888.7,1536.6 L890.7,1536.6 L892.7,1536.3 L894.7,1535.3 L896.7,1532.9 L898.7,1526.8 L900.7,1519.0 L902.7,1512.3 L904.7,1497.6 L906.7,1484.0 L908.7,1469.7 L910.7,1475.2 L912.7,1484.0 L914.7,1498.5 L916.7,1513.9 L918.7,1526.2 L920.7,1534.0 L922.7,1541.3 L924.7,1547.6 L926.7,1552.4 L928.7,1555.8 L930.7,1564.0 L932.7,1572.8 L934.7,1573.8 L936.7,1581.0 L938.7,1583.6 L940.7,1589.3 L942.7,1590.6 L944.7,1592.0 L946.7,1593.9 L948.7,1593.3 L950.7,1599.0 L952.7,1598.6 L954.7,1597.5 L956.7,1598.5 L958.7,1600.2 L959.0,1598.7 L959.0,1755.3 L260.7,1755.3 Z" fill="#fff" stroke="none"/>
<path d="M260.7,1578.1 L262.7,1576.4 L264.7,1579.4 L266.7,1577.8 L268.7,1577.4 L270.7,1576.8 L272.7,1578.9 L274.7,1576.5 L276.7,1578.5 L278.7,1577.0 L280.7,1577.6 L282.7,1577.2 L284.7,1578.1 L286.7,1578.2 L288.7,1575.9 L290.7,1578.3 L292.7,1577.8 L294.7,1578.1 L296.7,1578.5 L298.7,1574.9 L300.7,1578.7 L302.7,1574.5 L304.7,1575.5 L306.7,1576.6 L308.7,1577.3 L310.7,1576.6 L312.7,1576.2 L314.7,1576.3 L316.7,1574.2 L318.7,1575.4 L320.7,1578.2 L322.7,1572.2 L324.7,1574.8 L326.7,1574.8 L328.7,1573.7 L330.7,1574.4 L332.7,1574.4 L334.7,1573.7 L336.7,1573.3 L338.7,1571.0 L340.7,1571.6 L342.7,1569.2 L344.7,1568.3 L346.7,1572.9 L348.7,1571.2 L350.7,1573.2 L352.7,1573.2 L354.7,1577.2 L356.7,1575.9 L358.7,1576.3 L360.7,1577.9 L362.7,1577.7 L364.7,1576.1 L366.7,1577.6 L368.7,1577.4 L370.7,1576.7 L372.7,1575.6 L374.7,1577.2 L376.7,1574.8 L378.7,1577.0 L380.7,1576.5 L382.7,1574.9 L384.7,1575.1 L386.7,1579.2 L388.7,1573.8 L390.7,1576.2 L392.7,1575.7 L394.7,1576.6 L396.7,1576.4 L398.7,1577.1 L400.7,1576.9 L402.7,1576.0 L404.7,1574.4 L406.7,1575.7 L408.7,1576.7 L410.7,1576.8 L412.7,1577.5 L414.7,1576.0 L416.7,1574.9 L418.7,1575.7 L420.7,1576.8 L422.7,1577.7 L424.7,1577.8 L426.7,1577.6 L428.7,1575.3 L430.7,1576.4 L432.7,1577.6 L434.7,1577.5 L436.7,1578.2 L438.7,1575.9 L440.7,1578.1 L442.7,1574.3 L444.7,1577.0 L446.7,1577.8 L448.7,1577.4 L450.7,1579.0 L452.7,1577.8 L454.7,1578.2 L456.7,1579.1 L458.7,1577.3 L460.7,1580.3 L462.7,1577.9 L464.7,1579.5 L466.7,1579.2 L468.7,1578.7 L470.7,1579.5 L472.7,1579.9 L474.7,1579.2 L476.7,1582.5 L478.7,1579.0 L480.7,1580.4 L482.7,1581.9 L484.7,1581.4 L486.7,1582.2 L488.7,1579.3 L490.7,1581.0 L492.7,1581.5 L494.7,1583.1 L496.7,1580.8 L498.7,1581.8 L500.7,1584.2 L502.7,1582.6 L504.7,1582.7 L506.7,1582.2 L508.7,1583.7 L510.7,1580.1 L512.7,1581.2 L514.7,1581.3 L516.7,1581.6 L518.7,1580.9 L520.7,1577.8 L522.7,1579.7 L524.7,1577.7 L526.7,1580.6 L528.7,1575.0 L530.7,1574.2 L532.7,1569.9 L534.7,1568.0 L536.7,1565.0 L538.7,1564.4 L540.7,1562.7 L542.7,1558.6 L544.7,1560.8 L546.7,1561.6 L548.7,1563.1 L550.7,1561.8 L552.7,1565.3 L554.7,1563.9 L556.7,1567.9 L558.7,1569.6 L560.7,1572.3 L562.7,1575.8 L564.7,1576.1 L566.7,1578.8 L568.7,1574.3 L570.7,1572.0 L572.7,1572.9 L574.7,1570.9 L576.7,1570.1 L578.7,1573.1 L580.7,1574.8 L582.7,1573.2 L584.7,1576.3 L586.7,1579.6 L588.7,1578.1 L590.7,1580.7 L592.7,1576.7 L594.7,1574.6 L596.7,1571.4 L598.7,1567.3 L600.7,1567.0 L602.7,1567.1 L604.7,1570.2 L606.7,1573.5 L608.7,1572.9 L610.7,1571.8 L612.7,1572.3 L614.7,1573.6 L616.7,1571.6 L618.7,1570.9 L620.7,1572.0 L622.7,1570.3 L624.7,1569.3 L626.7,1572.7 L628.7,1569.0 L630.7,1570.4 L632.7,1570.6 L634.7,1569.5 L636.7,1571.9 L638.7,1571.7 L640.7,1569.5 L642.7,1565.5 L644.7,1565.1 L646.7,1559.3 L648.7,1558.6 L650.7,1555.9 L652.7,1553.0 L654.7,1553.1 L656.7,1551.5 L658.7,1549.9 L660.7,1550.2 L662.7,1551.8 L664.7,1547.7 L666.7,1550.4 L668.7,1548.4 L670.7,1552.6 L672.7,1547.9 L674.7,1547.0 L676.7,1551.0 L678.7,1551.7 L680.7,1550.9 L682.7,1552.9 L684.7,1553.0 L686.7,1555.8 L688.7,1558.2 L690.7,1558.3 L692.7,1558.1 L694.7,1557.1 L696.7,1558.4 L698.7,1558.2 L700.7,1556.4 L702.7,1551.3 L704.7,1551.1 L706.7,1545.6 L708.7,1540.4 L710.7,1534.0 L712.7,1529.4 L714.7,1527.1 L716.7,1533.9 L718.7,1539.3 L720.7,1545.7 L722.7,1546.0 L724.7,1548.8 L726.7,1548.6 L728.7,1545.8 L730.7,1548.4 L732.7,1549.0 L734.7,1545.7 L736.7,1548.8 L738.7,1548.8 L740.7,1550.1 L742.7,1553.5 L744.7,1553.9 L746.7,1552.2 L748.7,1551.5 L750.7,1552.6 L752.7,1549.2 L754.7,1547.7 L756.7,1547.4 L758.7,1545.7 L760.7,1545.7 L762.7,1547.2 L764.7,1543.6 L766.7,1548.2 L768.7,1546.8 L770.7,1550.8 L772.7,1554.4 L774.7,1558.0 L776.7,1554.5 L778.7,1559.0 L780.7,1555.9 L782.7,1554.6 L784.7,1553.4 L786.7,1554.0 L788.7,1554.8 L790.7,1553.6 L792.7,1554.5 L794.7,1556.8 L796.7,1557.4 L798.7,1560.1 L800.7,1564.3 L802.7,1560.8 L804.7,1561.0 L806.7,1561.3 L808.7,1560.4 L810.7,1559.3 L812.7,1558.3 L814.7,1558.0 L816.7,1559.8 L818.7,1558.3 L820.7,1557.2 L822.7,1556.0 L824.7,1557.1 L826.7,1557.3 L828.7,1556.1 L830.7,1555.9 L832.7,1557.7 L834.7,1556.6 L836.7,1556.6 L838.7,1557.3 L840.7,1555.3 L842.7,1550.9 L844.7,1550.4 L846.7,1545.4 L848.7,1542.6 L850.7,1543.3 L852.7,1544.9 L854.7,1544.4 L856.7,1542.1 L858.7,1543.8 L860.7,1545.1 L862.7,1545.0 L864.7,1546.1 L866.7,1544.5 L868.7,1542.9 L870.7,1543.5 L872.7,1540.9 L874.7,1540.9 L876.7,1534.6 L878.7,1535.5 L880.7,1532.3 L882.7,1534.9 L884.7,1535.7 L886.7,1535.3 L888.7,1536.6 L890.7,1536.6 L892.7,1536.3 L894.7,1535.3 L896.7,1532.9 L898.7,1526.8 L900.7,1519.0 L902.7,1512.3 L904.7,1497.6 L906.7,1484.0 L908.7,1469.7 L910.7,1475.2 L912.7,1484.0 L914.7,1498.5 L916.7,1513.9 L918.7,1526.2 L920.7,1534.0 L922.7,1541.3 L924.7,1547.6 L926.7,1552.4 L928.7,1555.8 L930.7,1564.0 L932.7,1572.8 L934.7,1573.8 L936.7,1581.0 L938.7,1583.6 L940.7,1589.3 L942.7,1590.6 L944.7,1592.0 L946.7,1593.9 L948.7,1593.3 L950.7,1599.0 L952.7,1598.6 L954.7,1597.5 L956.7,1598.5 L958.7,1600.2 L959.0,1598.7" fill="none" stroke="#111" stroke-width="3.0" stroke-linejoin="round"/>
<path d="M199.1,1651.6 L201.1,1651.7 L203.1,1653.3 L205.1,1650.7 L207.1,1653.3 L209.1,1650.4 L211.1,1652.4 L213.1,1652.5 L215.1,1654.3 L217.1,1653.0 L219.1,1652.4 L221.1,1654.9 L223.1,1655.3 L225.1,1652.6 L227.1,1654.4 L229.1,1653.0 L231.1,1653.9 L233.1,1654.0 L235.1,1652.2 L237.1,1653.9 L239.1,1652.6 L241.1,1652.7 L243.1,1653.4 L245.1,1651.5 L247.1,1652.2 L249.1,1654.3 L251.1,1654.8 L253.1,1655.0 L255.1,1653.4 L257.1,1654.8 L259.1,1655.8 L261.1,1655.3 L263.1,1652.1 L265.1,1651.6 L267.1,1654.1 L269.1,1655.1 L271.1,1653.4 L273.1,1654.5 L275.1,1653.6 L277.1,1653.4 L279.1,1653.4 L281.1,1653.2 L283.1,1652.3 L285.1,1655.0 L287.1,1653.7 L289.1,1651.8 L291.1,1652.0 L293.1,1651.0 L295.1,1652.7 L297.1,1650.3 L299.1,1651.5 L301.1,1652.7 L303.1,1652.4 L305.1,1652.3 L307.1,1650.0 L309.1,1652.3 L311.1,1651.0 L313.1,1652.7 L315.1,1650.6 L317.1,1652.8 L319.1,1651.1 L321.1,1651.4 L323.1,1649.9 L325.1,1649.7 L327.1,1649.7 L329.1,1651.3 L331.1,1649.5 L333.1,1649.9 L335.1,1651.5 L337.1,1651.3 L339.1,1651.2 L341.1,1652.8 L343.1,1651.7 L345.1,1652.4 L347.1,1655.3 L349.1,1658.2 L351.1,1657.2 L353.1,1657.6 L355.1,1655.0 L357.1,1653.4 L359.1,1655.0 L361.1,1651.9 L363.1,1649.4 L365.1,1653.0 L367.1,1653.3 L369.1,1652.5 L371.1,1653.1 L373.1,1651.7 L375.1,1650.9 L377.1,1648.8 L379.1,1649.6 L381.1,1648.1 L383.1,1649.0 L385.1,1651.6 L387.1,1649.6 L389.1,1649.8 L391.1,1648.7 L393.1,1652.9 L395.1,1647.5 L397.1,1649.1 L399.1,1651.7 L401.1,1649.9 L403.1,1650.2 L405.1,1652.2 L407.1,1652.9 L409.1,1653.2 L411.1,1651.7 L413.1,1654.0 L415.1,1652.0 L417.1,1652.6 L419.1,1652.8 L421.1,1654.7 L423.1,1654.1 L425.1,1653.5 L427.1,1654.8 L429.1,1653.5 L431.1,1654.1 L433.1,1654.2 L435.1,1653.6 L437.1,1652.8 L439.1,1652.1 L441.1,1654.6 L443.1,1650.3 L445.1,1652.8 L447.1,1651.0 L449.1,1650.7 L451.1,1649.0 L453.1,1650.9 L455.1,1650.0 L457.1,1651.8 L459.1,1649.8 L461.1,1649.1 L463.1,1648.9 L465.1,1651.5 L467.1,1651.0 L469.1,1649.8 L471.1,1652.3 L473.1,1650.5 L475.1,1649.8 L477.1,1650.7 L479.1,1648.6 L481.1,1649.4 L483.1,1646.4 L485.1,1646.5 L487.1,1644.4 L489.1,1640.4 L491.1,1637.4 L493.1,1630.8 L495.1,1629.8 L497.1,1629.1 L499.1,1629.1 L501.1,1633.1 L503.1,1636.0 L505.1,1639.9 L507.1,1638.9 L509.1,1642.3 L511.1,1646.6 L513.1,1645.7 L515.1,1650.5 L517.1,1647.3 L519.1,1647.5 L521.1,1647.8 L523.1,1646.5 L525.1,1647.1 L527.1,1643.5 L529.1,1643.3 L531.1,1642.0 L533.1,1642.4 L535.1,1644.8 L537.1,1648.3 L539.1,1650.6 L541.1,1652.2 L543.1,1652.2 L545.1,1650.6 L547.1,1650.5 L549.1,1653.3 L551.1,1651.2 L553.1,1651.6 L555.1,1652.3 L557.1,1650.9 L559.1,1649.5 L561.1,1648.5 L563.1,1648.8 L565.1,1649.8 L567.1,1645.1 L569.1,1646.0 L571.1,1646.5 L573.1,1644.7 L575.1,1642.8 L577.1,1642.8 L579.1,1642.8 L581.1,1643.3 L583.1,1640.4 L585.1,1642.0 L587.1,1644.5 L589.1,1646.0 L591.1,1646.9 L593.1,1648.1 L595.1,1649.1 L597.1,1648.6 L599.1,1651.1 L601.1,1646.8 L603.1,1646.8 L605.1,1645.0 L607.1,1647.0 L609.1,1645.9 L611.1,1644.8 L613.1,1642.8 L615.1,1645.3 L617.1,1641.7 L619.1,1640.1 L621.1,1635.3 L623.1,1635.3 L625.1,1633.6 L627.1,1632.9 L629.1,1629.4 L631.1,1628.4 L633.1,1624.8 L635.1,1627.4 L637.1,1629.7 L639.1,1631.8 L641.1,1633.8 L643.1,1635.7 L645.1,1639.2 L647.1,1638.6 L649.1,1641.1 L651.1,1641.3 L653.1,1639.8 L655.1,1640.0 L657.1,1636.2 L659.1,1637.4 L661.1,1638.4 L663.1,1632.8 L665.1,1625.2 L667.1,1622.9 L669.1,1613.2 L671.1,1609.9 L673.1,1607.1 L675.1,1609.9 L677.1,1616.8 L679.1,1624.5 L681.1,1627.4 L683.1,1631.2 L685.1,1634.6 L687.1,1637.2 L689.1,1639.3 L691.1,1642.8 L693.1,1644.7 L695.1,1642.3 L697.1,1642.2 L699.1,1639.5 L701.1,1635.2 L703.1,1637.6 L705.1,1638.1 L707.1,1633.7 L709.1,1635.3 L711.1,1636.3 L713.1,1634.5 L715.1,1635.4 L717.1,1634.9 L719.1,1634.1 L721.1,1635.0 L723.1,1634.6 L725.1,1635.0 L727.1,1635.2 L729.1,1634.6 L731.1,1634.8 L733.1,1635.4 L735.1,1637.3 L737.1,1636.0 L739.1,1639.4 L741.1,1637.3 L743.1,1641.3 L745.1,1639.3 L747.1,1639.6 L749.1,1640.1 L751.1,1641.8 L753.1,1641.9 L755.1,1641.0 L757.1,1642.7 L759.1,1643.2 L761.1,1643.0 L763.1,1644.4 L765.1,1639.7 L767.1,1642.5 L769.1,1642.0 L771.1,1643.3 L773.1,1645.1 L775.1,1641.0 L777.1,1641.7 L779.1,1642.4 L781.1,1643.8 L783.1,1643.9 L785.1,1641.6 L787.1,1643.5 L789.1,1642.3 L791.1,1643.6 L793.1,1642.3 L795.1,1642.8 L797.1,1642.1 L799.1,1640.9 L801.1,1640.6 L803.1,1641.6 L805.1,1639.0 L807.1,1637.5 L809.1,1637.2 L811.1,1637.2 L813.1,1637.0 L815.1,1635.4 L817.1,1636.0 L819.1,1636.9 L821.1,1635.4 L823.1,1637.4 L825.1,1636.4 L827.1,1635.0 L829.1,1637.0 L831.1,1635.9 L833.1,1638.1 L835.1,1636.0 L837.1,1638.1 L839.1,1639.0 L841.1,1636.9 L843.1,1636.9 L845.1,1635.8 L847.1,1636.3 L849.1,1636.9 L851.1,1637.9 L853.1,1636.4 L855.1,1633.1 L857.1,1634.9 L859.1,1631.5 L861.1,1633.1 L863.1,1630.3 L865.1,1626.9 L867.1,1620.4 L869.1,1615.7 L871.1,1601.7 L873.1,1586.4 L875.1,1575.3 L877.1,1571.2 L879.1,1574.0 L881.1,1577.8 L883.1,1590.6 L885.1,1601.7 L887.1,1613.9 L889.1,1626.3 L891.1,1635.1 L893.1,1638.1 L895.1,1645.9 L897.1,1650.6 L899.1,1651.7 L901.1,1656.2 L903.1,1656.8 L905.1,1658.4 L907.1,1659.0 L909.1,1663.6 L911.1,1662.1 L913.1,1660.7 L915.1,1664.2 L917.1,1666.3 L919.1,1666.7 L921.1,1671.3 L923.1,1669.3 L925.1,1670.8 L927.1,1672.2 L928.4,1673.4 L928.4,1826.7 L199.1,1826.7 Z" fill="#fff" stroke="none"/>
<path d="M199.1,1651.6 L201.1,1651.7 L203.1,1653.3 L205.1,1650.7 L207.1,1653.3 L209.1,1650.4 L211.1,1652.4 L213.1,1652.5 L215.1,1654.3 L217.1,1653.0 L219.1,1652.4 L221.1,1654.9 L223.1,1655.3 L225.1,1652.6 L227.1,1654.4 L229.1,1653.0 L231.1,1653.9 L233.1,1654.0 L235.1,1652.2 L237.1,1653.9 L239.1,1652.6 L241.1,1652.7 L243.1,1653.4 L245.1,1651.5 L247.1,1652.2 L249.1,1654.3 L251.1,1654.8 L253.1,1655.0 L255.1,1653.4 L257.1,1654.8 L259.1,1655.8 L261.1,1655.3 L263.1,1652.1 L265.1,1651.6 L267.1,1654.1 L269.1,1655.1 L271.1,1653.4 L273.1,1654.5 L275.1,1653.6 L277.1,1653.4 L279.1,1653.4 L281.1,1653.2 L283.1,1652.3 L285.1,1655.0 L287.1,1653.7 L289.1,1651.8 L291.1,1652.0 L293.1,1651.0 L295.1,1652.7 L297.1,1650.3 L299.1,1651.5 L301.1,1652.7 L303.1,1652.4 L305.1,1652.3 L307.1,1650.0 L309.1,1652.3 L311.1,1651.0 L313.1,1652.7 L315.1,1650.6 L317.1,1652.8 L319.1,1651.1 L321.1,1651.4 L323.1,1649.9 L325.1,1649.7 L327.1,1649.7 L329.1,1651.3 L331.1,1649.5 L333.1,1649.9 L335.1,1651.5 L337.1,1651.3 L339.1,1651.2 L341.1,1652.8 L343.1,1651.7 L345.1,1652.4 L347.1,1655.3 L349.1,1658.2 L351.1,1657.2 L353.1,1657.6 L355.1,1655.0 L357.1,1653.4 L359.1,1655.0 L361.1,1651.9 L363.1,1649.4 L365.1,1653.0 L367.1,1653.3 L369.1,1652.5 L371.1,1653.1 L373.1,1651.7 L375.1,1650.9 L377.1,1648.8 L379.1,1649.6 L381.1,1648.1 L383.1,1649.0 L385.1,1651.6 L387.1,1649.6 L389.1,1649.8 L391.1,1648.7 L393.1,1652.9 L395.1,1647.5 L397.1,1649.1 L399.1,1651.7 L401.1,1649.9 L403.1,1650.2 L405.1,1652.2 L407.1,1652.9 L409.1,1653.2 L411.1,1651.7 L413.1,1654.0 L415.1,1652.0 L417.1,1652.6 L419.1,1652.8 L421.1,1654.7 L423.1,1654.1 L425.1,1653.5 L427.1,1654.8 L429.1,1653.5 L431.1,1654.1 L433.1,1654.2 L435.1,1653.6 L437.1,1652.8 L439.1,1652.1 L441.1,1654.6 L443.1,1650.3 L445.1,1652.8 L447.1,1651.0 L449.1,1650.7 L451.1,1649.0 L453.1,1650.9 L455.1,1650.0 L457.1,1651.8 L459.1,1649.8 L461.1,1649.1 L463.1,1648.9 L465.1,1651.5 L467.1,1651.0 L469.1,1649.8 L471.1,1652.3 L473.1,1650.5 L475.1,1649.8 L477.1,1650.7 L479.1,1648.6 L481.1,1649.4 L483.1,1646.4 L485.1,1646.5 L487.1,1644.4 L489.1,1640.4 L491.1,1637.4 L493.1,1630.8 L495.1,1629.8 L497.1,1629.1 L499.1,1629.1 L501.1,1633.1 L503.1,1636.0 L505.1,1639.9 L507.1,1638.9 L509.1,1642.3 L511.1,1646.6 L513.1,1645.7 L515.1,1650.5 L517.1,1647.3 L519.1,1647.5 L521.1,1647.8 L523.1,1646.5 L525.1,1647.1 L527.1,1643.5 L529.1,1643.3 L531.1,1642.0 L533.1,1642.4 L535.1,1644.8 L537.1,1648.3 L539.1,1650.6 L541.1,1652.2 L543.1,1652.2 L545.1,1650.6 L547.1,1650.5 L549.1,1653.3 L551.1,1651.2 L553.1,1651.6 L555.1,1652.3 L557.1,1650.9 L559.1,1649.5 L561.1,1648.5 L563.1,1648.8 L565.1,1649.8 L567.1,1645.1 L569.1,1646.0 L571.1,1646.5 L573.1,1644.7 L575.1,1642.8 L577.1,1642.8 L579.1,1642.8 L581.1,1643.3 L583.1,1640.4 L585.1,1642.0 L587.1,1644.5 L589.1,1646.0 L591.1,1646.9 L593.1,1648.1 L595.1,1649.1 L597.1,1648.6 L599.1,1651.1 L601.1,1646.8 L603.1,1646.8 L605.1,1645.0 L607.1,1647.0 L609.1,1645.9 L611.1,1644.8 L613.1,1642.8 L615.1,1645.3 L617.1,1641.7 L619.1,1640.1 L621.1,1635.3 L623.1,1635.3 L625.1,1633.6 L627.1,1632.9 L629.1,1629.4 L631.1,1628.4 L633.1,1624.8 L635.1,1627.4 L637.1,1629.7 L639.1,1631.8 L641.1,1633.8 L643.1,1635.7 L645.1,1639.2 L647.1,1638.6 L649.1,1641.1 L651.1,1641.3 L653.1,1639.8 L655.1,1640.0 L657.1,1636.2 L659.1,1637.4 L661.1,1638.4 L663.1,1632.8 L665.1,1625.2 L667.1,1622.9 L669.1,1613.2 L671.1,1609.9 L673.1,1607.1 L675.1,1609.9 L677.1,1616.8 L679.1,1624.5 L681.1,1627.4 L683.1,1631.2 L685.1,1634.6 L687.1,1637.2 L689.1,1639.3 L691.1,1642.8 L693.1,1644.7 L695.1,1642.3 L697.1,1642.2 L699.1,1639.5 L701.1,1635.2 L703.1,1637.6 L705.1,1638.1 L707.1,1633.7 L709.1,1635.3 L711.1,1636.3 L713.1,1634.5 L715.1,1635.4 L717.1,1634.9 L719.1,1634.1 L721.1,1635.0 L723.1,1634.6 L725.1,1635.0 L727.1,1635.2 L729.1,1634.6 L731.1,1634.8 L733.1,1635.4 L735.1,1637.3 L737.1,1636.0 L739.1,1639.4 L741.1,1637.3 L743.1,1641.3 L745.1,1639.3 L747.1,1639.6 L749.1,1640.1 L751.1,1641.8 L753.1,1641.9 L755.1,1641.0 L757.1,1642.7 L759.1,1643.2 L761.1,1643.0 L763.1,1644.4 L765.1,1639.7 L767.1,1642.5 L769.1,1642.0 L771.1,1643.3 L773.1,1645.1 L775.1,1641.0 L777.1,1641.7 L779.1,1642.4 L781.1,1643.8 L783.1,1643.9 L785.1,1641.6 L787.1,1643.5 L789.1,1642.3 L791.1,1643.6 L793.1,1642.3 L795.1,1642.8 L797.1,1642.1 L799.1,1640.9 L801.1,1640.6 L803.1,1641.6 L805.1,1639.0 L807.1,1637.5 L809.1,1637.2 L811.1,1637.2 L813.1,1637.0 L815.1,1635.4 L817.1,1636.0 L819.1,1636.9 L821.1,1635.4 L823.1,1637.4 L825.1,1636.4 L827.1,1635.0 L829.1,1637.0 L831.1,1635.9 L833.1,1638.1 L835.1,1636.0 L837.1,1638.1 L839.1,1639.0 L841.1,1636.9 L843.1,1636.9 L845.1,1635.8 L847.1,1636.3 L849.1,1636.9 L851.1,1637.9 L853.1,1636.4 L855.1,1633.1 L857.1,1634.9 L859.1,1631.5 L861.1,1633.1 L863.1,1630.3 L865.1,1626.9 L867.1,1620.4 L869.1,1615.7 L871.1,1601.7 L873.1,1586.4 L875.1,1575.3 L877.1,1571.2 L879.1,1574.0 L881.1,1577.8 L883.1,1590.6 L885.1,1601.7 L887.1,1613.9 L889.1,1626.3 L891.1,1635.1 L893.1,1638.1 L895.1,1645.9 L897.1,1650.6 L899.1,1651.7 L901.1,1656.2 L903.1,1656.8 L905.1,1658.4 L907.1,1659.0 L909.1,1663.6 L911.1,1662.1 L913.1,1660.7 L915.1,1664.2 L917.1,1666.3 L919.1,1666.7 L921.1,1671.3 L923.1,1669.3 L925.1,1670.8 L927.1,1672.2 L928.4,1673.4" fill="none" stroke="#111" stroke-width="3.0" stroke-linejoin="round"/>
<line x1="166.2" y1="1866.0" x2="166.2" y2="1491.8" stroke="#2a2a2a" stroke-width="2.6"/>
<line x1="164.9" y1="1864.8" x2="912.1" y2="1864.8" stroke="#2a2a2a" stroke-width="2.6"/>
<line x1="912.1" y1="1864.8" x2="1141.6" y2="1328.6" stroke="#2a2a2a" stroke-width="2.4"/>
<text transform="translate(134.06 1876.20) scale(1.0000 1)" font-size="32.00" font-weight="normal" fill="#3a3a3a">0</text>
<line x1="166.2" y1="1836.2" x2="173.2" y2="1836.2" stroke="#2a2a2a" stroke-width="2.2"/>
<line x1="166.2" y1="1807.6" x2="180.7" y2="1807.6" stroke="#2a2a2a" stroke-width="2.2"/>
<text transform="translate(98.54 1819.05) scale(1.0000 1)" font-size="32.00" font-weight="normal" fill="#3a3a3a">100</text>
<line x1="166.2" y1="1779.1" x2="173.2" y2="1779.1" stroke="#2a2a2a" stroke-width="2.2"/>
<line x1="166.2" y1="1750.5" x2="180.7" y2="1750.5" stroke="#2a2a2a" stroke-width="2.2"/>
<text transform="translate(98.54 1761.90) scale(1.0000 1)" font-size="32.00" font-weight="normal" fill="#3a3a3a">200</text>
<line x1="166.2" y1="1721.9" x2="173.2" y2="1721.9" stroke="#2a2a2a" stroke-width="2.2"/>
<line x1="166.2" y1="1693.3" x2="180.7" y2="1693.3" stroke="#2a2a2a" stroke-width="2.2"/>
<text transform="translate(98.54 1704.75) scale(1.0000 1)" font-size="32.00" font-weight="normal" fill="#3a3a3a">300</text>
<line x1="166.2" y1="1664.8" x2="173.2" y2="1664.8" stroke="#2a2a2a" stroke-width="2.2"/>
<line x1="166.2" y1="1636.2" x2="180.7" y2="1636.2" stroke="#2a2a2a" stroke-width="2.2"/>
<text transform="translate(98.54 1647.60) scale(1.0000 1)" font-size="32.00" font-weight="normal" fill="#3a3a3a">400</text>
<line x1="166.2" y1="1607.6" x2="173.2" y2="1607.6" stroke="#2a2a2a" stroke-width="2.2"/>
<line x1="166.2" y1="1579.0" x2="180.7" y2="1579.0" stroke="#2a2a2a" stroke-width="2.2"/>
<text transform="translate(98.54 1590.45) scale(1.0000 1)" font-size="32.00" font-weight="normal" fill="#3a3a3a">500</text>
<line x1="166.2" y1="1550.5" x2="173.2" y2="1550.5" stroke="#2a2a2a" stroke-width="2.2"/>
<line x1="166.2" y1="1521.9" x2="180.7" y2="1521.9" stroke="#2a2a2a" stroke-width="2.2"/>
<text transform="translate(98.54 1533.30) scale(1.0000 1)" font-size="32.00" font-weight="normal" fill="#3a3a3a">600</text>
<line x1="166.2" y1="1493.3" x2="173.2" y2="1493.3" stroke="#2a2a2a" stroke-width="2.2"/>
<line x1="194.2" y1="1864.8" x2="194.2" y2="1851.3" stroke="#2a2a2a" stroke-width="2.2"/>
<text transform="translate(166.82 1909.20) scale(1.0000 1)" font-size="32.00" font-weight="normal" fill="#3a3a3a">600</text>
<line x1="260.5" y1="1864.8" x2="260.5" y2="1858.3" stroke="#2a2a2a" stroke-width="2.2"/>
<line x1="326.8" y1="1864.8" x2="326.8" y2="1851.3" stroke="#2a2a2a" stroke-width="2.2"/>
<text transform="translate(299.50 1909.20) scale(1.0000 1)" font-size="32.00" font-weight="normal" fill="#3a3a3a">800</text>
<line x1="393.1" y1="1864.8" x2="393.1" y2="1858.3" stroke="#2a2a2a" stroke-width="2.2"/>
<line x1="459.4" y1="1864.8" x2="459.4" y2="1851.3" stroke="#2a2a2a" stroke-width="2.2"/>
<text transform="translate(422.66 1909.20) scale(1.0000 1)" font-size="32.00" font-weight="normal" fill="#3a3a3a">1000</text>
<line x1="525.7" y1="1864.8" x2="525.7" y2="1858.3" stroke="#2a2a2a" stroke-width="2.2"/>
<line x1="592.0" y1="1864.8" x2="592.0" y2="1851.3" stroke="#2a2a2a" stroke-width="2.2"/>
<text transform="translate(555.26 1909.20) scale(1.0000 1)" font-size="32.00" font-weight="normal" fill="#3a3a3a">1200</text>
<line x1="658.3" y1="1864.8" x2="658.3" y2="1858.3" stroke="#2a2a2a" stroke-width="2.2"/>
<line x1="724.6" y1="1864.8" x2="724.6" y2="1851.3" stroke="#2a2a2a" stroke-width="2.2"/>
<text transform="translate(687.86 1909.20) scale(1.0000 1)" font-size="32.00" font-weight="normal" fill="#3a3a3a">1400</text>
<line x1="790.9" y1="1864.8" x2="790.9" y2="1858.3" stroke="#2a2a2a" stroke-width="2.2"/>
<line x1="857.2" y1="1864.8" x2="857.2" y2="1851.3" stroke="#2a2a2a" stroke-width="2.2"/>
<text transform="translate(820.46 1909.20) scale(1.0000 1)" font-size="32.00" font-weight="normal" fill="#3a3a3a">1600</text>
<line x1="915.5" y1="1826.7" x2="928.9" y2="1826.7" stroke="#333" stroke-width="1.8"/>
<text transform="translate(944.65 1836.67) scale(1.0000 1)" font-size="29.00" font-weight="normal" fill="#3a3a3a">1</text>
<line x1="946.6" y1="1755.3" x2="959.5" y2="1755.3" stroke="#333" stroke-width="1.8"/>
<text transform="translate(971.13 1765.41) scale(1.0000 1)" font-size="29.00" font-weight="normal" fill="#3a3a3a">2</text>
<line x1="975.2" y1="1689.7" x2="987.5" y2="1689.7" stroke="#333" stroke-width="1.8"/>
<text transform="translate(999.49 1699.69) scale(1.0000 1)" font-size="29.00" font-weight="normal" fill="#3a3a3a">3</text>
<line x1="1001.5" y1="1629.3" x2="1013.4" y2="1629.3" stroke="#333" stroke-width="1.8"/>
<text transform="translate(1025.93 1639.26) scale(1.0000 1)" font-size="29.00" font-weight="normal" fill="#3a3a3a">4</text>
<line x1="1025.9" y1="1573.4" x2="1037.3" y2="1573.4" stroke="#333" stroke-width="1.8"/>
<text transform="translate(1049.26 1583.25) scale(1.0000 1)" font-size="29.00" font-weight="normal" fill="#3a3a3a">5</text>
<line x1="1048.4" y1="1521.6" x2="1059.5" y2="1521.6" stroke="#333" stroke-width="1.8"/>
<text transform="translate(1071.20 1531.14) scale(1.0000 1)" font-size="27.70" font-weight="normal" fill="#3a3a3a">6</text>
<line x1="1069.4" y1="1473.4" x2="1080.1" y2="1473.4" stroke="#333" stroke-width="1.8"/>
<text transform="translate(1091.88 1482.53) scale(1.0000 1)" font-size="26.40" font-weight="normal" fill="#3a3a3a">7</text>
<line x1="1089.0" y1="1428.5" x2="1099.3" y2="1428.5" stroke="#333" stroke-width="1.8"/>
<text transform="translate(1111.28 1437.18) scale(1.0000 1)" font-size="25.10" font-weight="normal" fill="#3a3a3a">8</text>
<line x1="1107.2" y1="1386.6" x2="1117.3" y2="1386.6" stroke="#333" stroke-width="1.8"/>
<text transform="translate(1129.30 1394.78) scale(1.0000 1)" font-size="23.80" font-weight="normal" fill="#3a3a3a">9</text>
<line x1="1124.4" y1="1347.3" x2="1134.1" y2="1347.3" stroke="#333" stroke-width="1.8"/>
<text transform="translate(1145.49 1355.05) scale(1.0000 1)" font-size="22.50" font-weight="normal" fill="#3a3a3a">10</text>
<text transform="matrix(0.217 -0.586 1 0 1116.2 1583.7)" font-size="40" fill="#222" stroke="#222" stroke-width="0.7">Points</text>
<text transform="translate(382.77 1966.00) scale(1.0014 1)" font-size="45.00" font-weight="bold" fill="#161616">Raman Shift (cm</text>
<text transform="translate(740.76 1949.20) scale(0.9569 1)" font-size="26.00" font-weight="normal" fill="#222">−1</text>
<text transform="translate(777.60 1966.00) scale(1.0000 1)" font-size="45.00" font-weight="bold" fill="#161616">)</text>
<text transform="translate(82.70 1914.55) rotate(-90) scale(0.9963 1)" font-size="45.50" font-weight="bold" fill="#161616">Raman intensity (a.u.)</text>
<text transform="translate(74.54 1055.67) scale(1.0000 1)" font-size="49.20" font-weight="bold" fill="#111">(c)</text>
<rect x="1483.7" y="1304.6" width="73.5" height="524.0" fill="#fcc999" stroke="#333" stroke-width="1.6"/>
<rect x="1574.7" y="1236.8" width="73.5" height="591.8" fill="#fcc999" stroke="#333" stroke-width="1.6"/>
<rect x="1665.8" y="1150.3" width="73.5" height="678.3" fill="#fcc999" stroke="#333" stroke-width="1.6"/>
<rect x="1756.9" y="1211.3" width="73.5" height="617.3" fill="#fcc999" stroke="#333" stroke-width="1.6"/>
<rect x="1847.9" y="1169.4" width="73.5" height="659.2" fill="#fcc999" stroke="#333" stroke-width="1.6"/>
<rect x="1939.0" y="1241.1" width="73.5" height="587.5" fill="#fcc999" stroke="#333" stroke-width="1.6"/>
<rect x="2030.1" y="1228.9" width="73.5" height="599.7" fill="#fcc999" stroke="#333" stroke-width="1.6"/>
<rect x="2121.1" y="1173.2" width="73.5" height="655.4" fill="#fcc999" stroke="#333" stroke-width="1.6"/>
<rect x="2212.2" y="1189.6" width="73.5" height="639.0" fill="#fcc999" stroke="#333" stroke-width="1.6"/>
<rect x="2303.3" y="1162.8" width="73.5" height="665.8" fill="#fcc999" stroke="#333" stroke-width="1.6"/>
<line x1="1520.4" y1="1828.5" x2="1520.4" y2="1812.5" stroke="#3a3a3a" stroke-width="2"/>
<text transform="translate(1502.98 1882.50) scale(1.0000 1)" font-size="50.00" font-weight="normal" fill="#222">1</text>
<line x1="1611.5" y1="1828.5" x2="1611.5" y2="1812.5" stroke="#3a3a3a" stroke-width="2"/>
<text transform="translate(1597.60 1882.50) scale(1.0000 1)" font-size="50.00" font-weight="normal" fill="#222">2</text>
<line x1="1702.5" y1="1828.5" x2="1702.5" y2="1812.5" stroke="#3a3a3a" stroke-width="2"/>
<text transform="translate(1688.66 1882.50) scale(1.0000 1)" font-size="50.00" font-weight="normal" fill="#222">3</text>
<line x1="1793.6" y1="1828.5" x2="1793.6" y2="1812.5" stroke="#3a3a3a" stroke-width="2"/>
<text transform="translate(1779.99 1882.50) scale(1.0000 1)" font-size="50.00" font-weight="normal" fill="#222">4</text>
<line x1="1884.7" y1="1828.5" x2="1884.7" y2="1812.5" stroke="#3a3a3a" stroke-width="2"/>
<text transform="translate(1870.81 1882.50) scale(1.0000 1)" font-size="50.00" font-weight="normal" fill="#222">5</text>
<line x1="1975.8" y1="1828.5" x2="1975.8" y2="1812.5" stroke="#3a3a3a" stroke-width="2"/>
<text transform="translate(1961.62 1882.50) scale(1.0000 1)" font-size="50.00" font-weight="normal" fill="#222">6</text>
<line x1="2066.8" y1="1828.5" x2="2066.8" y2="1812.5" stroke="#3a3a3a" stroke-width="2"/>
<text transform="translate(2052.95 1882.50) scale(1.0000 1)" font-size="50.00" font-weight="normal" fill="#222">7</text>
<line x1="2157.9" y1="1828.5" x2="2157.9" y2="1812.5" stroke="#3a3a3a" stroke-width="2"/>
<text transform="translate(2143.89 1882.50) scale(1.0000 1)" font-size="50.00" font-weight="normal" fill="#222">8</text>
<line x1="2249.0" y1="1828.5" x2="2249.0" y2="1812.5" stroke="#3a3a3a" stroke-width="2"/>
<text transform="translate(2235.09 1882.50) scale(1.0000 1)" font-size="50.00" font-weight="normal" fill="#222">9</text>
<line x1="2340.0" y1="1828.5" x2="2340.0" y2="1812.5" stroke="#3a3a3a" stroke-width="2"/>
<text transform="translate(2311.28 1882.50) scale(1.0000 1)" font-size="50.00" font-weight="normal" fill="#222">10</text>
<line x1="1474.1" y1="1573.5" x2="1488.6" y2="1573.5" stroke="#3a3a3a" stroke-width="2"/>
<line x1="1474.1" y1="1318.4" x2="1488.6" y2="1318.4" stroke="#3a3a3a" stroke-width="2"/>
<text transform="translate(1430.02 1842.60) scale(1.0000 1)" font-size="49.00" font-weight="normal" fill="#222">0</text>
<text transform="translate(1375.63 1586.10) scale(1.0000 1)" font-size="49.00" font-weight="normal" fill="#222">100</text>
<text transform="translate(1375.63 1331.00) scale(1.0000 1)" font-size="49.00" font-weight="normal" fill="#222">200</text>
<text transform="translate(1375.63 1075.90) scale(1.0000 1)" font-size="49.00" font-weight="normal" fill="#222">300</text>
<rect x="1474.1" y="1063.2" width="912.8000000000002" height="765.3" fill="none" stroke="#3a3a3a" stroke-width="2.2"/>
<rect x="1477.6" y="1203.2" width="905.6" height="12.6" fill="#f50000" stroke="#7a0000" stroke-width="1"/>
<rect x="1841.2" y="1086.6" width="68.8" height="34.6" fill="#fcc999" stroke="#333" stroke-width="1.6"/>
<rect x="1841.2" y="1137.2" width="70.8" height="11" fill="#f50000" stroke="#7a0000" stroke-width="1"/>
<text transform="translate(1926.33 1113.70) scale(0.9234 1)" font-size="34.00" font-weight="normal" fill="#333">Characteristic peak at 1603 cm</text>
<text transform="translate(2359.24 1101.60) scale(0.9659 1)" font-size="22.00" font-weight="normal" fill="#333">-1</text>
<text transform="translate(1927.90 1153.00) scale(0.9320 1)" font-size="33.60" font-weight="normal" fill="#333">Averge line</text>
<text transform="translate(1499.07 1110.30) scale(0.9592 1)" font-size="33.00" font-weight="normal" fill="#444">RSD=18.6%</text>
<text transform="translate(1853.62 1964.20) scale(1.0205 1)" font-size="48.00" font-weight="bold" fill="#161616">Points</text>
<text transform="translate(1361.60 1706.37) rotate(-90) scale(1.0060 1)" font-size="50.00" font-weight="bold" fill="#161616">Raman intensity (a.u.)</text>
<text transform="translate(1266.21 1056.84) scale(1.1249 1)" font-size="47.91" font-weight="bold" fill="#111">(d)</text>
</svg>
</body></html>
